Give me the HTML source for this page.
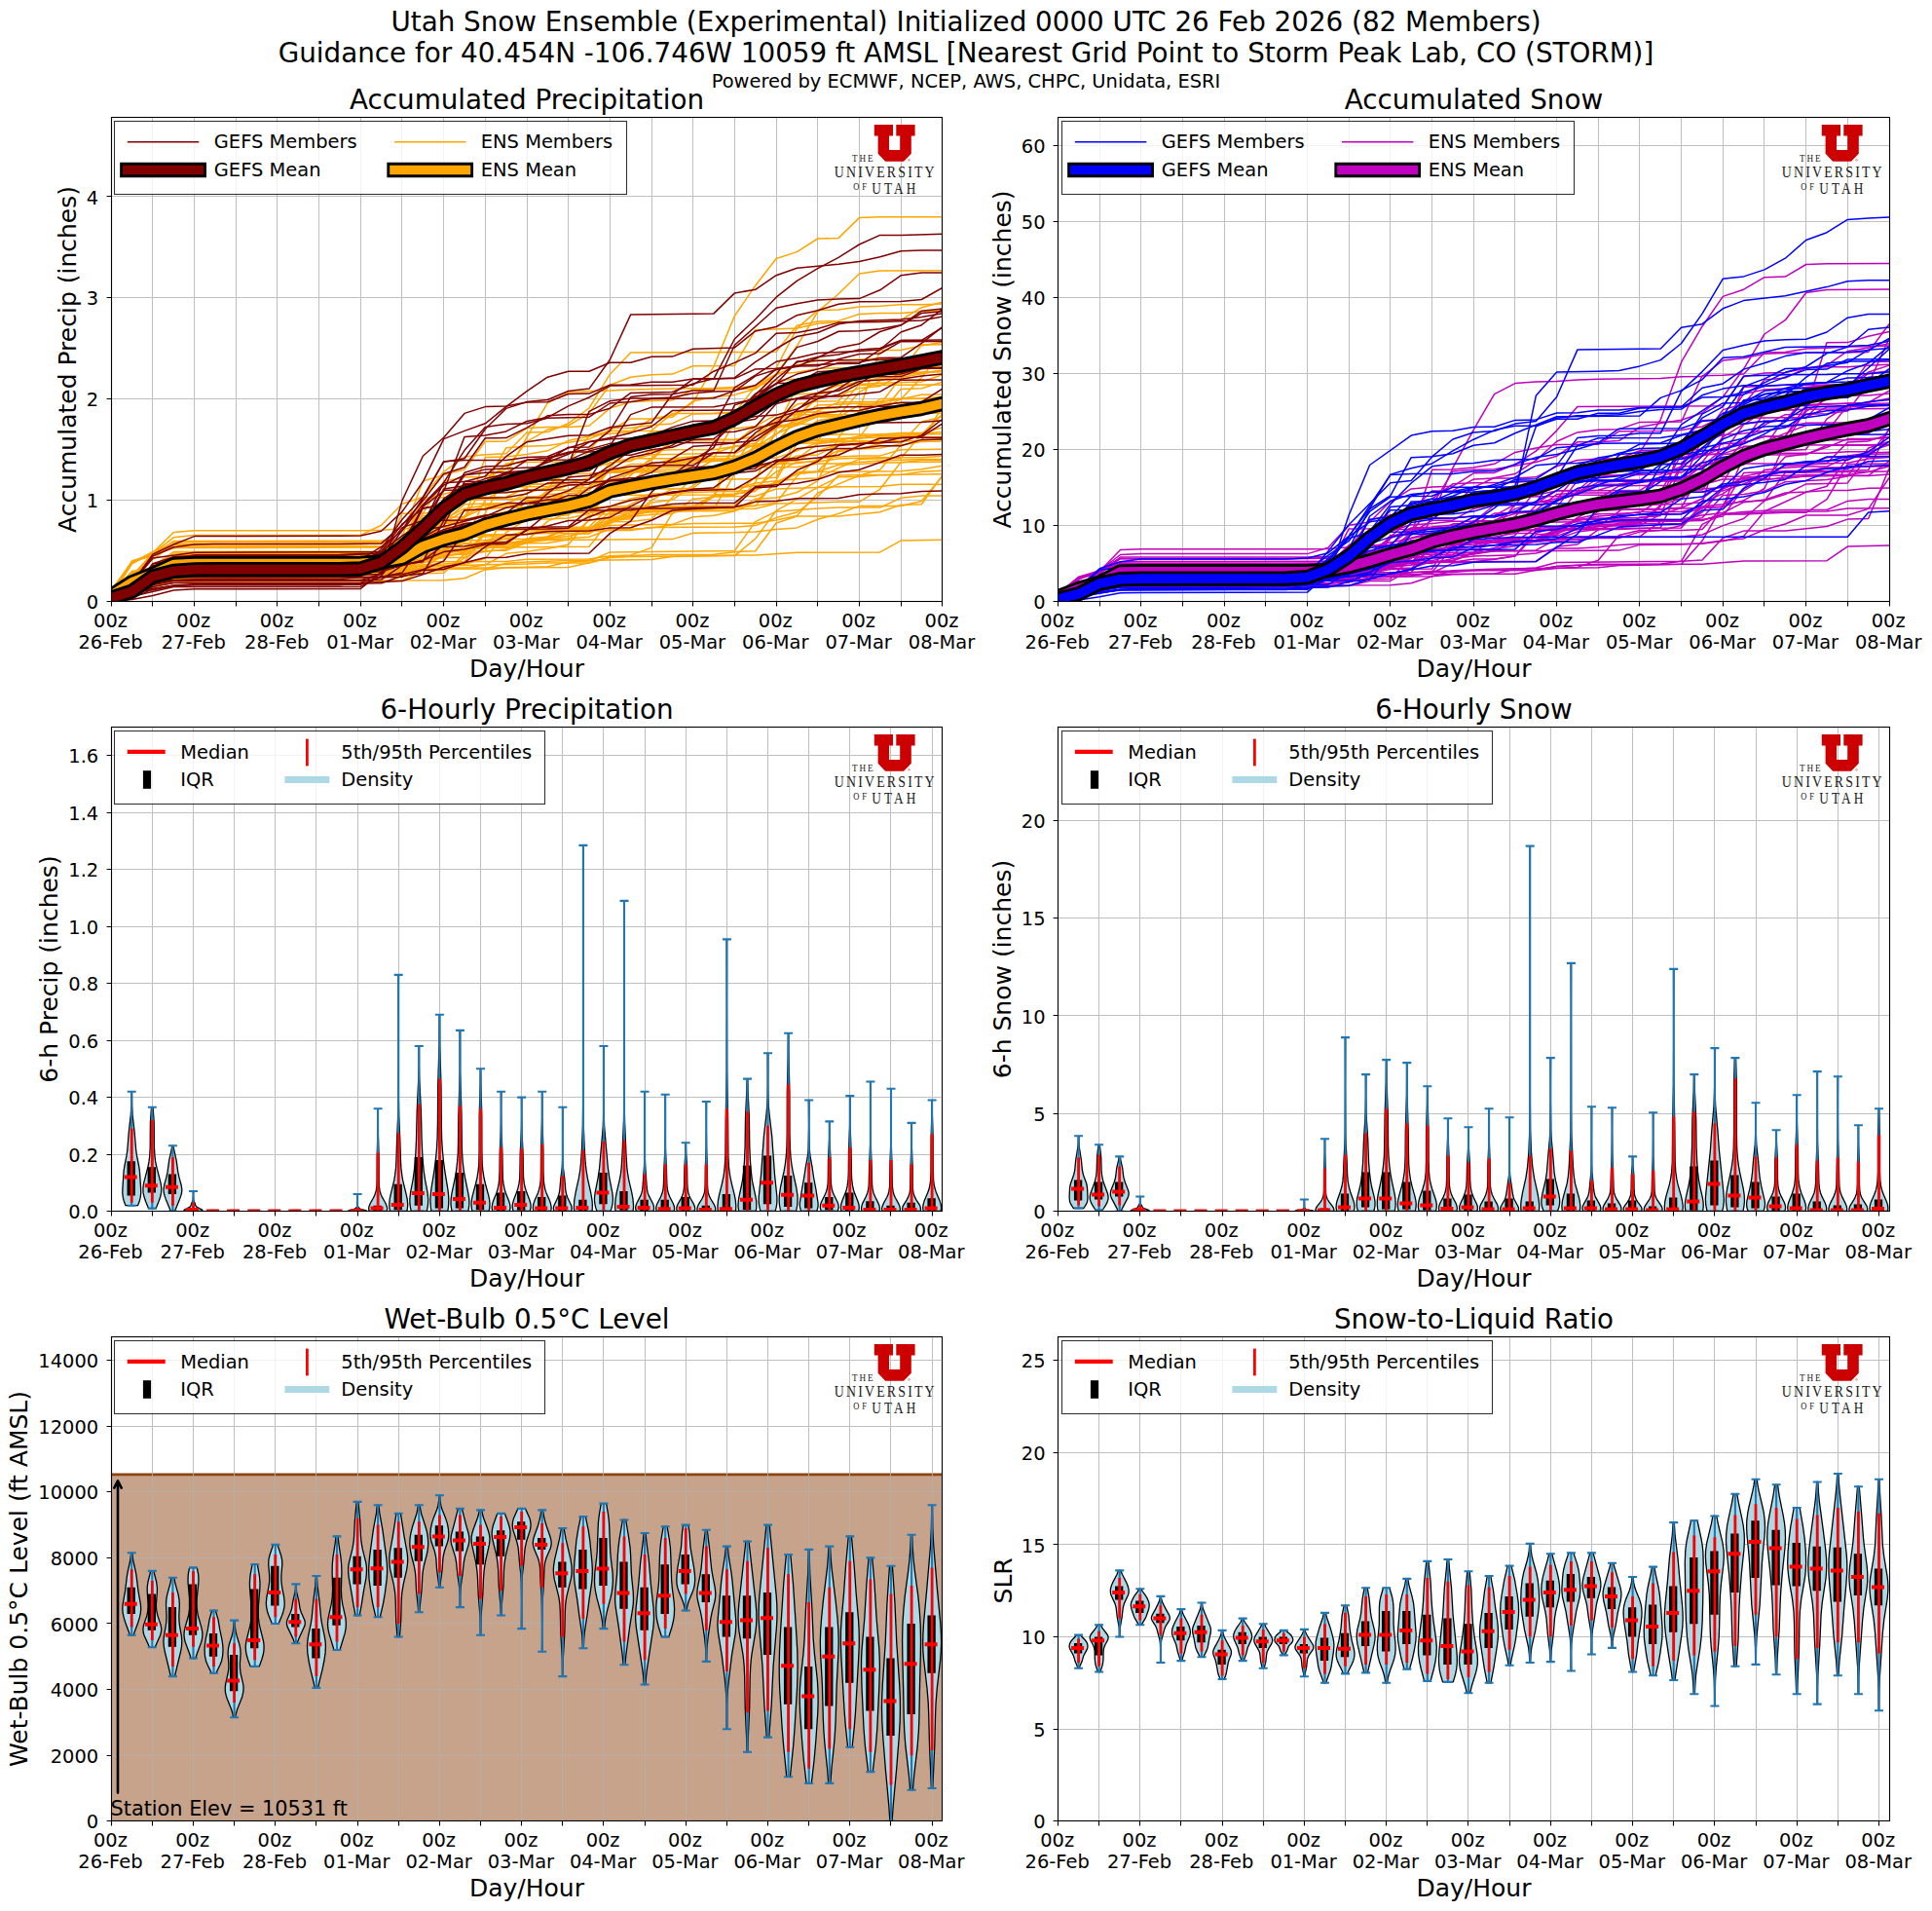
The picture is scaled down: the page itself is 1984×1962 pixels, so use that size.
<!DOCTYPE html>
<html><head><meta charset="utf-8"><title>Utah Snow Ensemble</title>
<style>html,body{margin:0;padding:0;background:#fff}svg{display:block}</style></head>
<body>
<svg width="1984" height="1962" viewBox="0 0 1984 1962" font-family="'DejaVu Sans','Liberation Sans',sans-serif" fill="#000">
<rect width="1984" height="1962" fill="#fff"/>
<text x="992" y="32.2" font-size="27.78" text-anchor="middle">Utah Snow Ensemble (Experimental) Initialized 0000 UTC 26 Feb 2026 (82 Members)</text>
<text x="992" y="63.7" font-size="27.78" text-anchor="middle">Guidance for 40.454N -106.746W 10059 ft AMSL [Nearest Grid Point to Storm Peak Lab, CO (STORM)]</text>
<text x="992" y="90.2" font-size="19.44" text-anchor="middle">Powered by ECMWF, NCEP, AWS, CHPC, Unidata, ESRI</text>
<clipPath id="c00"><rect x="114.5" y="120.5" width="853" height="497"/></clipPath>
<path d="M114.5 120.5V617.5M156.5 120.5V617.5M199.5 120.5V617.5M242.5 120.5V617.5M284.5 120.5V617.5M327.5 120.5V617.5M370.5 120.5V617.5M412.5 120.5V617.5M455.5 120.5V617.5M498.5 120.5V617.5M541.5 120.5V617.5M583.5 120.5V617.5M626.5 120.5V617.5M669.5 120.5V617.5M711.5 120.5V617.5M754.5 120.5V617.5M797.5 120.5V617.5M839.5 120.5V617.5M882.5 120.5V617.5M925.5 120.5V617.5M967.5 120.5V617.5M114.5 617.5H967.5M114.5 513.5H967.5M114.5 409.5H967.5M114.5 305.5H967.5M114.5 201.5H967.5" stroke="#b0b0b0" stroke-opacity="0.8" stroke-width="1.05" fill="none"/>
<g clip-path="url(#c00)" fill="none" stroke-linejoin="round">
<g stroke="#ffa500" stroke-width="1.5">
<path d="M114.2 616.9L135.6 610.4L156.9 586L178.3 573.7L199.6 570.6L370.3 570.1L391.6 569.6L413 564.8L434.3 552L455.7 549.2L477 532.9L498.3 469.4L519.7 469L541 466.6L562.3 462.8L583.7 452.3L605 447.9L626.4 442.5L669 442.2L690.4 424.4L733 424.2L754.4 423.2L775.7 420L797.1 410.2L818.4 404.7L839.7 403.8L861.1 395.7L882.4 392.6L903.7 387.9L925.1 387.8L946.4 373.4L967.8 372.2"/>
<path d="M114.2 611.7L135.6 600.8L156.9 592.1L178.3 579.5L349 579.3L391.6 578.6L413 577.2L434.3 573.6L455.7 565.3L477 563.5L498.3 562.2L605 561.3L626.4 534L647.7 531.2L669 513.5L690.4 501.8L711.7 501.2L733 485.2L754.4 477.5L775.7 459.5L797.1 453.1L861.1 452.4L882.4 447.8L946.4 447.1L967.8 425"/>
<path d="M114.2 611.3L135.6 600.5L156.9 593.8L178.3 589.1L199.6 588.6L370.3 588.3L391.6 587.7L413 583.2L434.3 576L455.7 570.2L477 568.9L519.7 563.9L541 552.9L562.3 550.9L583.7 541.3L605 540.9L626.4 520.1L754.4 519.3L775.7 495.3L797.1 439.9L818.4 397.4L839.7 396.1L861.1 395.5L967.8 395.1"/>
<path d="M114.2 616.4L135.6 606.7L156.9 600.4L178.3 588.6L199.6 587.7L370.3 587.4L391.6 586.7L413 584.6L434.3 575.5L455.7 572.6L477 572.6L498.3 565.4L519.7 565.3L541 556.8L562.3 554.5L690.4 553.6L711.7 547.2L754.4 546.7L775.7 545.9L797.1 543.4L818.4 541.9L839.7 533.2L861.1 527.4L882.4 519.5L925.1 519.5L946.4 514.5L967.8 488.8"/>
<path d="M114.2 611.9L135.6 577.9L156.9 566.5L178.3 561.4L370.3 561.1L413 560.7L434.3 529.6L455.7 528.8L477 514.7L498.3 505.9L519.7 505.6L541 503.2L562.3 502.4L583.7 474.5L605 447.7L626.4 445.3L647.7 443.5L669 430L690.4 426.3L711.7 413.3L733 376L754.4 324.4L775.7 293.2L797.1 265.5L818.4 258.6L839.7 245L861.1 244.4L882.4 223.6L903.7 222.8L967.8 222.7"/>
<path d="M114.2 610.8L135.6 575.8L156.9 570.3L178.3 555.6L391.6 555.1L413 554.2L434.3 545.3L455.7 523.7L477 513.7L498.3 512.7L541 512L562.3 507.4L605 505.4L626.4 502.3L754.4 501.5L775.7 498.6L797.1 496.7L818.4 486.5L839.7 484.2L861.1 477.3L882.4 476.5L903.7 475L925.1 474.9L946.4 472.6L967.8 472.4"/>
<path d="M114.2 607.6L135.6 602.7L156.9 590.7L178.3 577.7L370.3 577.6L391.6 577.3L413 576.2L434.3 565.9L455.7 551.1L477 549L541 548.8L562.3 545L605 544.7L626.4 529.3L647.7 517.7L669 507.2L733 504.7L754.4 504.4L775.7 503L797.1 495.3L818.4 484.5L839.7 483.9L861.1 463.4L882.4 460.9L903.7 455.5L925.1 449.3L946.4 449.3L967.8 448.6"/>
<path d="M114.2 613.5L135.6 605.8L156.9 602.6L178.3 594.4L199.6 593.1L391.6 592.9L413 590.6L434.3 581.5L477 579.6L498.3 573.4L519.7 546.6L541 533.1L562.3 514.3L583.7 503.2L605 496.3L626.4 492.7L647.7 486.3L669 478L690.4 477.2L733 473.6L754.4 472.5L775.7 462.7L797.1 452.1L818.4 448.3L839.7 431.7L861.1 428.4L882.4 415.7L903.7 415.4L925.1 387.5L967.8 380"/>
<path d="M114.2 611L135.6 605.5L156.9 598.7L178.3 594.7L199.6 594L370.3 593.8L391.6 592.9L413 591.5L434.3 570.7L455.7 566.3L498.3 565.8L519.7 525.9L541 524.4L562.3 505.6L583.7 498.3L605 496.2L626.4 495.2L690.4 493.7L711.7 492.6L733 492.6L775.7 491.6L797.1 490.3L818.4 448.9L839.7 446.9L861.1 446.1L903.7 445.9L925.1 444.4L946.4 444.4L967.8 438.9"/>
<path d="M114.2 610.6L178.3 588.5L199.6 586.8L370.3 586.5L413 585.6L434.3 584.1L455.7 583.2L477 583.2L498.3 579.9L519.7 568.3L541 566.2L562.3 563.3L583.7 559.2L605 533.3L626.4 497.6L647.7 496.2L669 483.2L690.4 472.8L733 472.6L754.4 471.5L775.7 471.4L797.1 470.1L818.4 462.7L839.7 454.4L861.1 450.5L882.4 450.3L903.7 446L925.1 445.9L946.4 445.1L967.8 443.6"/>
<path d="M114.2 617.2L135.6 596L156.9 589.4L178.3 583.5L370.3 583.3L391.6 572.8L413 527.3L434.3 527L455.7 526L477 501.5L498.3 495.4L519.7 476.1L541 474.6L583.7 474L605 472.6L647.7 472L669 466.7L690.4 466.6L733 465.5L754.4 458.3L775.7 457.5L818.4 447.4L839.7 439.2L861.1 438.6L882.4 437L903.7 427.3L925.1 426.6L946.4 426.5L967.8 410.4"/>
<path d="M114.2 610.1L135.6 588.8L156.9 584.3L178.3 577.6L370.3 577.4L434.3 576.7L519.7 576.6L541 574.3L605 573.9L626.4 570.7L647.7 569.9L669 562.4L690.4 526.8L711.7 520.6L754.4 520.5L775.7 519.6L797.1 493.1L818.4 455.4L861.1 453.7L903.7 453.4L946.4 452.5L967.8 417.7"/>
<path d="M114.2 612.3L156.9 602.5L178.3 596.5L199.6 596.1L455.7 595.7L477 593.7L498.3 584.9L519.7 582.8L562.3 581.8L583.7 577.1L605 576L626.4 566.9L754.4 565.5L775.7 535.6L797.1 525.2L839.7 521.9L861.1 521.1L903.7 521.1L925.1 511.2L946.4 509.1L967.8 509.1"/>
<path d="M114.2 608.6L135.6 600.4L178.3 593.3L391.6 592.5L413 591L434.3 541.2L498.3 541L519.7 534.9L541 513.5L562.3 512.7L583.7 509.5L605 509.3L626.4 500.2L647.7 494.3L669 493.1L690.4 493.1L711.7 492.4L733 489.8L754.4 484.1L775.7 474.5L797.1 460.4L818.4 423.6L861.1 422.5L967.8 421.9"/>
<path d="M114.2 611.3L135.6 604.2L156.9 602.1L178.3 591.4L199.6 590.5L349 590.3L391.6 589.9L413 585.7L434.3 583.3L583.7 582.5L605 577.8L626.4 571.8L669 569.6L733 569.3L754.4 566.7L775.7 565.7L797.1 537L818.4 530.1L861.1 530L903.7 525.8L925.1 518.4L946.4 517.7L967.8 488.1"/>
<path d="M114.2 606.7L135.6 587.6L156.9 584.8L178.3 579.5L199.6 577.8L370.3 577.6L413 576.9L434.3 570.4L455.7 565.3L477 562.8L519.7 562.2L541 557.8L562.3 557.4L583.7 554L605 533.9L626.4 532.3L647.7 526.5L669 523.7L690.4 519.8L775.7 519.1L797.1 516.3L818.4 488.9L839.7 470.9L861.1 468.9L882.4 468L903.7 467.9L925.1 461.8L967.8 461.3"/>
<path d="M114.2 610.9L135.6 591.4L156.9 574.5L178.3 558.9L370.3 558.5L413 557.5L434.3 511L519.7 510.3L541 501L562.3 483.8L583.7 482L605 481.3L626.4 475.2L647.7 470.8L690.4 470.8L711.7 468.8L775.7 468L797.1 445.7L818.4 429L839.7 405L861.1 400.6L882.4 384.4L925.1 382.2L967.8 381.7"/>
<path d="M114.2 611.1L135.6 606.7L156.9 599.1L178.3 593.2L370.3 592.8L391.6 582.4L413 577.3L434.3 555.3L455.7 554.5L477 554.5L498.3 546.1L519.7 536.1L541 528.3L562.3 527.5L583.7 518.5L605 491L626.4 484.6L647.7 483.5L669 472.4L690.4 452.6L711.7 451.9L754.4 451.8L775.7 448.2L797.1 429.9L818.4 425.7L903.7 425.6L925.1 399.5L946.4 398.7L967.8 392.1"/>
<path d="M114.2 611.6L135.6 578.8L156.9 567.6L178.3 546.5L199.6 544.8L370.3 544.8L391.6 544.3L434.3 541.6L498.3 528.9L519.7 527.7L541 525.6L605 524.5L690.4 524L733 522.5L754.4 486.9L775.7 455.4L797.1 432.6L818.4 428.4L839.7 407.9L861.1 406.1L882.4 398.6L903.7 396.4L925.1 384.9L967.8 380.3"/>
<path d="M114.2 611.2L135.6 595.7L156.9 586.3L178.3 571.2L199.6 568.9L391.6 568.7L413 567.6L434.3 550.7L455.7 544L477 529.7L498.3 517.9L519.7 517.8L541 506.1L562.3 500.7L583.7 495.8L605 491.6L626.4 484.7L711.7 484.4L733 472L754.4 471.3L797.1 456.9L818.4 456L839.7 451L861.1 450.5L882.4 449.1L903.7 421.1L925.1 409.6L967.8 409.2"/>
<path d="M114.2 614.3L135.6 593.6L156.9 583.9L178.3 578.3L199.6 576.6L413 576.5L434.3 569.6L455.7 565.8L477 563.2L498.3 562.9L541 554.2L583.7 552.8L605 551.2L626.4 543.2L647.7 543.2L669 542.1L690.4 538.7L711.7 537.6L775.7 537.2L797.1 534.1L818.4 529.5L839.7 506.3L861.1 496.9L882.4 488.2L903.7 482.2L925.1 456.9L946.4 453.4L967.8 453"/>
<path d="M114.2 614.2L135.6 607.2L156.9 602.2L178.3 598.2L199.6 597L370.3 596.7L391.6 596L413 596L434.3 586L455.7 585.7L477 572.8L498.3 544.2L519.7 544.2L541 542.8L605 542.4L647.7 530.6L669 528.2L690.4 527.5L711.7 512.2L733 510.4L754.4 465.9L775.7 455.9L797.1 454.2L818.4 429.8L839.7 415.9L882.4 414.3L903.7 413.9L967.8 413.7"/>
<path d="M114.2 613.1L135.6 593.3L156.9 569.4L178.3 562.7L199.6 561.2L391.6 560.9L413 554.4L434.3 537.5L498.3 537L519.7 534.1L541 530.7L562.3 512.7L583.7 511.8L605 500.1L626.4 482.6L647.7 481.8L669 480.3L733 479.5L754.4 478.2L775.7 443.8L797.1 438.6L818.4 436.7L839.7 427.9L882.4 427.7L903.7 419.7L967.8 419.5"/>
<path d="M114.2 610L135.6 591.7L156.9 581.3L178.3 566.5L391.6 566L413 561.3L434.3 513.6L477 501.3L498.3 499.7L519.7 497L562.3 497L583.7 492.3L605 461.9L626.4 439.6L647.7 439.5L669 436.6L690.4 434.9L711.7 424.9L733 424.7L754.4 423.7L775.7 396.9L797.1 390.4L818.4 389.2L861.1 383L882.4 377.7L946.4 377.3L967.8 375.9"/>
<path d="M114.2 609.7L156.9 597.8L178.3 585.4L199.6 583.7L391.6 583.4L413 580.4L434.3 569.5L455.7 564.8L477 557.7L519.7 557.7L541 555.1L562.3 535.1L583.7 526.6L605 526.5L626.4 524.8L647.7 524.5L669 521.9L690.4 521.4L711.7 520.2L733 508.3L754.4 507.9L775.7 501.3L797.1 484.4L818.4 474.2L839.7 474.1L861.1 471.1L882.4 470.2L903.7 469.7L946.4 469.7L967.8 468.3"/>
<path d="M114.2 609.6L135.6 604.3L156.9 595.1L178.3 575.9L199.6 574.7L413 574.2L434.3 559.5L455.7 535.3L477 517.8L519.7 516.4L541 509.9L562.3 509.8L626.4 508.2L733 507.9L754.4 507.1L775.7 504.4L797.1 476.6L818.4 475.7L839.7 472.8L861.1 462.3L882.4 460.9L903.7 459.9L925.1 455.7L946.4 433L967.8 428.1"/>
<path d="M114.2 616.2L135.6 610.1L156.9 598.5L178.3 587.6L413 587.4L434.3 583L455.7 569.7L477 562.2L498.3 560.5L519.7 560.3L541 557L562.3 551.7L583.7 542.3L605 529.2L626.4 527.5L669 525.7L690.4 525.7L711.7 524.1L733 509L754.4 454.6L775.7 438L818.4 435.6L882.4 435L903.7 425.2L925.1 425.1L967.8 423.9"/>
<path d="M114.2 609.3L156.9 599.3L178.3 591.1L199.6 590.3L391.6 590L455.7 588.2L477 569.1L498.3 559.2L541 556.8L583.7 548.1L605 547.9L626.4 535.8L647.7 535.5L669 532.9L690.4 510.8L711.7 490.2L733 489.9L754.4 458.3L797.1 457.8L818.4 452.1L839.7 451.9L861.1 427.8L882.4 427.8L903.7 409.5L946.4 409.1L967.8 407.5"/>
<path d="M114.2 610.3L135.6 596.4L156.9 590.9L178.3 577.6L199.6 574.1L370.3 574.1L391.6 565.9L413 551.7L434.3 546.5L455.7 546.1L477 544.7L498.3 544.2L583.7 543.8L605 543.1L626.4 539.5L669 538.5L690.4 538.4L711.7 530.7L733 529.3L754.4 524.8L775.7 515.4L797.1 495.3L818.4 486.3L839.7 484.5L925.1 483.8L946.4 481.8L967.8 478.3"/>
<path d="M114.2 612.1L135.6 607L156.9 603.2L178.3 590.4L370.3 590.2L391.6 582.4L413 581.5L477 580.6L498.3 579.8L541 579.1L562.3 578.1L605 577.9L626.4 572.5L647.7 571.4L754.4 570.6L775.7 553.1L797.1 524.3L839.7 500.4L861.1 489.8L882.4 489.4L903.7 487.8L925.1 487.6L946.4 484.3L967.8 483.3"/>
<path d="M114.2 614.9L135.6 608.6L156.9 594.3L178.3 583.3L220.9 582.8L370.3 582.7L391.6 582.3L413 581.3L434.3 564.2L455.7 536.9L477 524.3L498.3 522.9L519.7 520.8L541 520.8L562.3 503.7L583.7 502.8L605 500.3L626.4 474.9L647.7 473.4L669 462.9L690.4 461.7L733 461.7L775.7 455L797.1 439.6L818.4 432L839.7 425.7L861.1 422.6L882.4 421.5L903.7 412.4L925.1 409.8L946.4 405.2L967.8 405.1"/>
<path d="M114.2 606.8L135.6 577.1L156.9 570.2L178.3 562.6L391.6 562L413 561L434.3 526.8L455.7 494.3L477 489.7L498.3 489.7L519.7 481.7L541 453.3L562.3 441.1L583.7 437L605 424.1L626.4 395.3L647.7 387.2L669 384.8L690.4 384.1L711.7 375.8L754.4 375.4L775.7 338.7L818.4 337.1L839.7 318.6L861.1 318.1L882.4 314.9L903.7 314.2L925.1 312.8L946.4 312.7L967.8 312.1"/>
<path d="M114.2 615L135.6 595.3L156.9 590.6L178.3 588.4L199.6 585.7L413 585.3L434.3 563.4L455.7 558.2L477 556L498.3 513L519.7 500.6L541 499.8L562.3 499.6L583.7 495.6L605 490.8L626.4 484.3L647.7 476.6L669 476.5L690.4 471.7L733 470.7L754.4 433.1L775.7 405.8L797.1 384.4L818.4 375L839.7 370.1L861.1 369.9L903.7 367.9L946.4 367.9L967.8 367.3"/>
<path d="M114.2 611.8L135.6 592.3L156.9 567.4L178.3 556.9L220.9 556.5L370.3 556.4L434.3 554.9L455.7 552.8L477 548.6L498.3 530.3L519.7 525.3L541 523.6L583.7 523L605 521.8L626.4 519.9L647.7 512L669 507.6L690.4 505.7L711.7 502.3L754.4 502.2L775.7 496L818.4 491.8L839.7 490.9L861.1 480.5L882.4 471.4L903.7 470.7L925.1 470.5L946.4 445.8L967.8 425.4"/>
<path d="M114.2 612.4L135.6 607.7L156.9 593L178.3 588.1L413 587.8L434.3 579.7L455.7 578.9L477 576.9L498.3 546.8L519.7 537.1L541 534L562.3 529.3L583.7 529.1L605 508.2L647.7 494.2L669 479.3L711.7 472.9L754.4 472.4L775.7 462.5L797.1 432.5L818.4 415.1L839.7 411.9L861.1 411.7L882.4 387.3L903.7 382.3L925.1 381.3L946.4 354L967.8 353.8"/>
<path d="M114.2 610.8L135.6 605.5L156.9 601.7L178.3 577.2L220.9 576.6L370.3 576.4L391.6 575.7L413 575.6L434.3 568L455.7 558.6L477 558.5L498.3 556.6L541 556.3L562.3 551L583.7 543.9L605 543.7L647.7 529.4L669 524.9L754.4 524.4L775.7 512.2L797.1 511.1L818.4 505.5L839.7 493.9L861.1 449.3L882.4 421.2L903.7 359.5L925.1 359.4L946.4 354.8L967.8 351.5"/>
<path d="M114.2 606.9L135.6 595.7L156.9 593.2L178.3 582.2L220.9 581.6L391.6 581.4L413 571.8L434.3 570.1L455.7 569.8L477 568.6L498.3 527L519.7 486.8L541 448.9L562.3 413.9L583.7 403L605 401.5L626.4 401.1L647.7 399.9L690.4 398.9L733 398.5L754.4 397.4L775.7 397.2L797.1 384L818.4 382.2L839.7 378.4L861.1 377.7L946.4 376.9L967.8 360.3"/>
<path d="M114.2 605.6L135.6 597L156.9 590.7L178.3 574.9L370.3 574.7L391.6 574L413 570.2L434.3 564.5L455.7 550.4L477 548.7L498.3 540.8L519.7 533.8L541 514.8L605 514.8L626.4 510.4L647.7 487.8L669 470.3L690.4 452L711.7 451.2L754.4 451.2L775.7 447.9L797.1 439.6L818.4 434.2L839.7 426.9L861.1 426.7L882.4 402.6L903.7 390.9L925.1 383.9L946.4 383.1L967.8 380.9"/>
<path d="M114.2 610.6L135.6 586.3L156.9 585.1L178.3 578.6L391.6 578.3L413 577.6L434.3 567.9L455.7 532.2L477 513.2L498.3 501.8L519.7 498.9L541 497.2L562.3 496.9L583.7 486.6L605 486.3L647.7 484.6L690.4 484.6L711.7 480.7L733 479L754.4 478.3L775.7 478.3L797.1 476.9L818.4 468L839.7 466.9L861.1 456.9L882.4 456.7L903.7 450.1L925.1 448.8L946.4 446L967.8 445.5"/>
<path d="M114.2 612.9L135.6 602L178.3 585.9L413 585.1L434.3 584.3L498.3 584L519.7 578.3L541 577L583.7 575.4L669 574.5L690.4 571.4L754.4 570.1L775.7 570.1L818.4 567.2L903.7 566.9L925.1 555.1L967.8 554.3"/>
<path d="M114.2 604.9L135.6 591.1L156.9 583.5L178.3 568L370.3 567.6L391.6 567.1L413 565.7L434.3 565.2L455.7 564.1L477 554.9L498.3 554.6L519.7 550.6L541 545L562.3 544.2L583.7 542.3L605 542.2L626.4 537.7L647.7 525.6L669 521.6L690.4 521L711.7 519.9L733 509L754.4 508.3L775.7 489.6L797.1 474.2L818.4 472.9L839.7 462.8L882.4 449.9L903.7 449.1L967.8 448.8"/>
<path d="M114.2 609.7L135.6 596L156.9 584L178.3 576.4L199.6 575.8L370.3 575.8L413 574.9L434.3 556.4L455.7 531.2L477 530.7L498.3 521.1L583.7 520.8L605 511.4L626.4 480.8L647.7 456.7L669 443.1L690.4 442L711.7 440.3L754.4 440.1L775.7 437.6L797.1 425.8L818.4 425.1L839.7 419.4L861.1 419.1L882.4 394.5L903.7 393.2L946.4 392L967.8 384.8"/>
<path d="M114.2 606.3L135.6 576.5L178.3 559.6L199.6 558.6L370.3 558.5L413 557.6L434.3 551.9L455.7 551.8L519.7 550.7L541 547.9L562.3 544.3L605 543.7L626.4 526L647.7 524.2L711.7 523.9L733 509.9L775.7 509.4L797.1 502L861.1 499.7L903.7 499.4L925.1 497.3L967.8 497.2"/>
<path d="M114.2 607.4L135.6 596.1L156.9 589.8L178.3 580.4L199.6 578.3L391.6 578L413 577.2L434.3 573.8L455.7 563.7L477 558.1L498.3 557.4L541 548.3L562.3 547.5L605 547.5L626.4 534.3L647.7 532.8L669 515.9L690.4 513.2L711.7 498.6L733 482.1L754.4 477.6L797.1 477.2L818.4 471.4L839.7 455.7L861.1 452.9L946.4 452.2L967.8 450.9"/>
<path d="M114.2 610.7L135.6 596.7L156.9 587.7L178.3 579.5L199.6 579.1L370.3 578.6L391.6 570.7L413 550.8L434.3 494L455.7 487.6L477 482.1L498.3 453.3L519.7 453.1L541 439.6L562.3 438.6L583.7 438.4L605 437.2L626.4 419.1L647.7 412.8L669 411.4L690.4 411.1L711.7 400L775.7 398.9L797.1 377.9L818.4 337.1L839.7 332.3L861.1 330.8L882.4 330L903.7 328.7L925.1 328.6L946.4 315.7L967.8 310.3"/>
<path d="M114.2 612.4L135.6 593.4L156.9 591.3L178.3 584.3L199.6 583.1L370.3 583L391.6 579.8L413 579.2L434.3 576.4L455.7 567.7L477 565.9L498.3 555.6L519.7 553.6L541 553.6L562.3 552.8L583.7 550.5L605 545.5L626.4 544.6L647.7 544.4L669 541.6L754.4 541.1L775.7 539.6L797.1 531.6L818.4 526L839.7 510L861.1 487.9L967.8 486.8"/>
<path d="M114.2 607.3L135.6 602.4L156.9 590.4L178.3 586.1L413 585.6L434.3 577.9L455.7 571.8L477 566.9L498.3 549L519.7 549L541 548L562.3 544.9L605 542.2L626.4 533.5L647.7 528.5L669 525.5L690.4 523.7L711.7 522.9L754.4 522.8L775.7 522.3L797.1 516.9L818.4 516.7L861.1 515.3L882.4 515.3L903.7 502.3L925.1 474.5L967.8 474.2"/>
<path d="M114.2 610.4L135.6 590.4L156.9 585.3L178.3 570.9L199.6 569.2L370.3 569.1L391.6 569L413 568.2L434.3 565.2L455.7 556.6L477 544.3L498.3 543.3L519.7 536.1L541 533.8L583.7 532.1L605 527.6L626.4 504.2L647.7 483.1L733 481.8L754.4 479.9L818.4 479.6L839.7 476L861.1 476L903.7 473L946.4 471.5L967.8 471.5"/>
<path d="M114.2 612.3L135.6 605.4L156.9 597.7L178.3 576.5L199.6 574.6L370.3 574.4L391.6 573.6L434.3 537.3L455.7 533.1L477 522.2L498.3 518.8L519.7 518.8L541 516.6L562.3 515.7L583.7 504.3L605 503.4L626.4 483.3L669 482.8L690.4 474.8L711.7 471L754.4 470.9L775.7 459.5L797.1 445.4L818.4 436.2L839.7 421.7L861.1 413.1L903.7 412.3L925.1 410.1L946.4 387.5L967.8 360.3"/>
<path d="M114.2 608.3L135.6 590.8L156.9 568.4L178.3 551.8L199.6 549.6L370.3 549.4L391.6 539.3L413 517.3L434.3 510.5L455.7 484.3L477 469L498.3 466.8L519.7 465.8L541 444L562.3 443.6L583.7 434.7L605 419L626.4 384.2L647.7 362.1L797.1 361.2L818.4 334.3L839.7 330.1L861.1 329.4L882.4 322.5L903.7 321.4L925.1 321.4L946.4 319.8L967.8 319"/>
<path d="M114.2 608.8L135.6 592L156.9 585.1L178.3 570.8L370.3 570.5L391.6 567.1L413 558.2L434.3 555.3L455.7 536.8L477 531.5L498.3 497.1L519.7 459.8L541 458.3L562.3 457.6L605 450.9L626.4 441.8L647.7 429.9L669 429.9L690.4 428.3L711.7 411.8L733 407.7L754.4 405.4L775.7 399.3L797.1 384L818.4 355.3L839.7 320.1L861.1 301.8L882.4 281L903.7 278.1L967.8 277.7"/>
</g>
<g stroke="#800000" stroke-width="1.5">
<path d="M114.2 615.2L156.9 600.4L178.3 596.4L349 596.1L370.3 595.9L391.6 595.1L413 580.3L434.3 549.6L455.7 517.6L477 511.4L498.3 503.6L519.7 503.3L541 489.5L562.3 470.8L583.7 465L605 461.1L626.4 455.4L647.7 453.8L690.4 453.1L711.7 443.2L733 442.1L754.4 437.9L775.7 412.3L797.1 405.9L818.4 400.1L839.7 393.2L861.1 389.3L882.4 379.1L903.7 374.3L925.1 373.5L946.4 367.8L967.8 365.9"/>
<path d="M114.2 613.5L135.6 608.9L156.9 583.3L178.3 581L220.9 580.7L349 580.7L370.3 580.3L391.6 566.2L413 538.1L434.3 522.2L455.7 517.6L477 511.7L519.7 510.7L541 506.9L562.3 495.9L605 495.2L626.4 493.7L647.7 493.6L669 492.1L690.4 486.9L711.7 479.4L775.7 478.7L797.1 473.3L818.4 472L839.7 469.9L861.1 467.3L882.4 457.7L903.7 450L925.1 449.8L946.4 448.4L967.8 435"/>
<path d="M114.2 613.5L135.6 609.7L156.9 597.5L178.3 592.4L220.9 591.9L370.3 591.7L391.6 575L413 544.2L434.3 511.5L455.7 473.7L477 472.4L519.7 472.4L541 469.5L562.3 468.7L583.7 460L605 453.4L626.4 449.5L647.7 444.4L669 438L690.4 421.6L754.4 421.1L775.7 413L797.1 411.3L818.4 396.5L839.7 387.7L861.1 385.8L925.1 384L946.4 378L967.8 377.5"/>
<path d="M114.2 616.9L135.6 615.6L156.9 611.5L178.3 606L199.6 604.7L370.3 604.5L391.6 587.3L413 558.9L434.3 520.2L455.7 504.2L477 448.5L498.3 447.1L519.7 442.9L541 432.5L562.3 428.6L583.7 416.9L605 408L626.4 396.1L711.7 395.2L733 381.2L754.4 372.4L775.7 362.6L797.1 342.3L818.4 341.4L839.7 337.5L861.1 331.1L903.7 330.6L946.4 329.1L967.8 325.1"/>
<path d="M114.2 614.5L135.6 598.5L156.9 569.1L178.3 559L199.6 550.6L349 550.3L370.3 550L391.6 545.2L413 525.4L434.3 494.8L455.7 450.6L477 442.4L498.3 434.8L519.7 417.6L541 401.7L562.3 387.2L583.7 381.3L605 381.2L626.4 372.3L647.7 372.3L669 366.2L690.4 366.1L711.7 358.3L754.4 356.9L775.7 339.9L797.1 335.5L818.4 323.7L839.7 318.7L861.1 312.3L882.4 309.8L925.1 309.4L946.4 307.5L967.8 295.4"/>
<path d="M114.2 613L135.6 602.8L156.9 594.1L178.3 588.2L199.6 587.1L391.6 586.9L413 580.6L434.3 575.3L455.7 566.6L477 564.1L498.3 559L519.7 558.2L541 543.7L562.3 540.1L583.7 534.6L605 534L626.4 531.2L647.7 519.8L669 509.2L690.4 506.2L711.7 502.2L733 500.7L754.4 485.7L775.7 483.6L797.1 472.2L818.4 470.2L839.7 463.2L861.1 460.5L882.4 460.4L903.7 457.7L925.1 457.7L946.4 451.4L967.8 450.9"/>
<path d="M114.2 612.1L135.6 599.4L156.9 573.1L199.6 567.2L413 566.6L434.3 565.4L455.7 558.7L477 523.7L498.3 522.7L519.7 516.6L541 516.6L562.3 512.9L583.7 512.9L605 508L626.4 504.3L647.7 496.4L669 495.7L690.4 495.7L711.7 484.2L733 454.4L754.4 433.8L775.7 430.2L797.1 412L818.4 409.2L839.7 407L861.1 407L903.7 402.2L925.1 390.2L967.8 390.1"/>
<path d="M114.2 614.3L135.6 612.1L156.9 602.5L178.3 598.5L370.3 598.4L413 596.6L434.3 589.8L455.7 582.3L477 577.8L498.3 572.6L519.7 572.3L541 568.6L605 568L626.4 547.6L647.7 535L669 505.4L690.4 486L711.7 485.9L733 485.2L754.4 482.6L775.7 481.2L797.1 460.1L818.4 448.9L839.7 443L861.1 441.6L882.4 434.7L903.7 433.9L946.4 433.6L967.8 431.7"/>
<path d="M114.2 613.3L135.6 608.5L156.9 595.5L178.3 590.3L199.6 586.7L349 586.4L370.3 584.1L391.6 576.5L413 566.1L434.3 562.5L477 560.8L498.3 557.7L519.7 556.6L541 544.6L562.3 527L583.7 525.2L605 524L647.7 523.8L690.4 517.4L711.7 516.5L754.4 516.4L775.7 499.6L818.4 496.2L839.7 492.2L861.1 485L882.4 482.3L925.1 467.3L946.4 467.2L967.8 466.6"/>
<path d="M114.2 611L135.6 605.6L178.3 592.8L370.3 592.5L391.6 592.1L413 589.8L434.3 584.7L455.7 576L477 545.6L498.3 543.3L562.3 542.9L583.7 542.2L605 530.7L626.4 522.5L647.7 522.1L690.4 522.1L711.7 521.3L754.4 520.8L775.7 515.1L797.1 514.5L818.4 511.8L861.1 511.6L882.4 507.7L903.7 506.9L925.1 506.8L946.4 504.6L967.8 504.1"/>
<path d="M114.2 612L135.6 608.5L156.9 604.3L178.3 601.3L199.6 600.7L349 600.7L370.3 598.7L391.6 587.8L413 572.9L434.3 551.7L455.7 539.8L477 496.7L498.3 496.3L519.7 486.9L541 485.8L562.3 483.3L583.7 477.4L605 422.3L626.4 411.7L647.7 409.1L669 408.9L690.4 408L711.7 403.8L733 402.1L754.4 401.6L775.7 386.1L797.1 379.5L818.4 376L839.7 375.8L861.1 368.8L882.4 363.6L903.7 363L925.1 350.7L967.8 350.6"/>
<path d="M114.2 615.6L135.6 609.6L156.9 582.4L178.3 573.9L199.6 569.8L349 569.5L370.3 568.4L391.6 568.3L413 561.1L434.3 548.3L455.7 511.9L477 497.4L519.7 497L541 496L562.3 492.9L605 492.6L626.4 458.5L647.7 453.6L669 451.6L690.4 451.5L733 444.3L754.4 443.2L775.7 438.2L797.1 414.5L839.7 403.5L861.1 393.8L882.4 386.7L925.1 386.6L946.4 378.6L967.8 378.1"/>
<path d="M114.2 611.9L135.6 608.3L156.9 605.7L178.3 601.6L199.6 600.3L370.3 600.3L391.6 592.3L413 588.1L434.3 556.7L455.7 514.3L477 506.6L519.7 505.8L541 503.2L562.3 503L583.7 497.9L605 497.2L626.4 482.6L647.7 469.4L669 465.2L690.4 457.2L733 431.6L754.4 431.6L775.7 427.6L797.1 426.1L818.4 420L861.1 399.2L882.4 385.3L903.7 383.4L925.1 382.8L946.4 372L967.8 370.3"/>
<path d="M114.2 612.5L135.6 598.7L156.9 571L178.3 561.7L199.6 559L220.9 558.6L349 558.6L391.6 557.9L413 539.3L434.3 514.1L455.7 486.5L477 479.7L498.3 449.7L519.7 449.6L541 439.1L562.3 426.8L583.7 425.5L605 425.4L626.4 419.2L647.7 403.4L690.4 402.4L711.7 394L733 388.8L754.4 348L775.7 327.8L797.1 305.2L818.4 288.3L839.7 275.7L861.1 264.3L882.4 251L903.7 241.4L925.1 241.4L967.8 240.3"/>
<path d="M114.2 613.4L135.6 604.2L156.9 590.8L178.3 585.9L199.6 585.8L220.9 585.1L349 585.1L370.3 584.1L391.6 563.5L413 533.2L434.3 510.3L455.7 474.2L477 470.8L498.3 440.5L519.7 419.4L541 412.6L562.3 410.5L583.7 401.5L605 399.1L626.4 369.2L647.7 322.9L733 321.9L754.4 300.9L775.7 297.3L797.1 282.7L818.4 275.3L861.1 271.3L882.4 268.5L903.7 263.7L925.1 257.8L946.4 257L967.8 257"/>
<path d="M114.2 615.9L135.6 609.4L156.9 589.3L178.3 579.9L199.6 576.6L370.3 576.4L391.6 566L413 550.1L434.3 536.1L455.7 503.2L477 502.9L498.3 496L519.7 484.8L541 484.8L562.3 472.8L583.7 459.2L605 458.9L626.4 442.1L647.7 407.6L669 404.9L690.4 404.7L711.7 401.1L733 401L754.4 354.2L797.1 316.3L818.4 311.7L839.7 308L861.1 307L882.4 306.6L903.7 297.8L925.1 282.8L946.4 279.9L967.8 279.9"/>
<path d="M114.2 617.2L178.3 602.6L370.3 602.4L391.6 591.4L413 563.6L434.3 538.6L455.7 495.3L477 462.3L498.3 438.4L519.7 435.5L541 434.8L562.3 429.3L605 428.2L626.4 414L647.7 412.5L669 409.5L733 408.8L754.4 401.1L775.7 395.6L797.1 379.2L818.4 375.2L861.1 373.6L882.4 373.2L903.7 358.9L925.1 349.6L946.4 349.4L967.8 336.2"/>
<path d="M114.2 614.1L135.6 603.6L156.9 580.7L178.3 579.4L199.6 575.8L349 575.6L391.6 574.5L413 565.7L434.3 544.6L455.7 540.5L498.3 530.1L519.7 521.3L541 516.8L562.3 516.7L583.7 508.6L605 508.2L626.4 492.9L647.7 490.8L669 490.4L690.4 488.1L711.7 472.2L733 459.6L754.4 415.9L775.7 408.9L797.1 389L818.4 372L839.7 366.4L861.1 363.9L882.4 359.1L903.7 357.5L925.1 349.5L967.8 348.9"/>
<path d="M114.2 613.2L135.6 604.9L156.9 595.4L178.3 588.1L199.6 586L220.9 585.3L349 585.3L391.6 584.8L413 580.6L434.3 575.5L455.7 559.7L477 544.8L498.3 542.6L519.7 542.5L541 541.5L583.7 540.8L605 523.3L626.4 519.9L647.7 513.7L669 510.1L690.4 504.9L711.7 503.4L754.4 502.5L775.7 490.1L797.1 474.9L818.4 460.8L839.7 458.2L861.1 456.4L903.7 454.4L925.1 449.3L967.8 449.2"/>
<path d="M114.2 616.5L135.6 607.4L156.9 591.6L178.3 586.1L370.3 585.6L391.6 569.4L413 541.6L434.3 534.4L477 534L498.3 529.1L519.7 526.8L541 510.9L562.3 510.8L583.7 503.9L605 492.2L626.4 478L647.7 462.3L669 459.4L690.4 454.6L754.4 454.4L775.7 452.3L797.1 437.9L818.4 421.1L839.7 403.7L861.1 401.3L882.4 391.5L903.7 390L925.1 389.2L946.4 386.1L967.8 384"/>
<path d="M114.2 612.3L135.6 609.2L156.9 589.8L178.3 582.5L349 582.3L370.3 581.9L391.6 566.8L413 559.8L434.3 544.8L455.7 501.9L477 498.7L498.3 491.6L519.7 486.3L541 472.3L583.7 472.1L605 470.2L626.4 467.3L647.7 467.2L669 461.8L690.4 459.3L711.7 451.5L733 450.5L754.4 433.4L775.7 405.3L797.1 384.6L818.4 356.6L839.7 350.5L861.1 340.2L882.4 339.7L903.7 337.8L925.1 333.8L946.4 321.5L967.8 319.8"/>
<path d="M114.2 613.7L135.6 608L156.9 599.8L178.3 596L349 596L370.3 595.6L391.6 589.3L413 513.9L434.3 468.3L455.7 449.3L477 424.4L498.3 417.6L519.7 417.1L541 412.9L562.3 412.7L583.7 404.5L605 404.1L626.4 395.3L647.7 395.1L669 392.3L690.4 392.2L711.7 389.1L754.4 388.6L775.7 378.9L797.1 378.2L818.4 376.5L839.7 367.3L861.1 357L882.4 353.1L903.7 340.5L925.1 334L946.4 319.2L967.8 317.1"/>
<path d="M114.2 612.6L135.6 609.6L156.9 599.6L178.3 590.8L199.6 589.2L220.9 589L370.3 588.8L391.6 578L413 560.3L434.3 553.4L455.7 543.8L477 537.7L498.3 535.1L519.7 533.9L541 526.7L562.3 506.6L583.7 489.9L605 488.3L626.4 482L647.7 478.9L669 478L711.7 477.8L733 465L754.4 464.6L775.7 448.9L797.1 436L818.4 409.8L839.7 409.3L861.1 405.2L882.4 393.8L903.7 380.8L925.1 378.5L946.4 378.4L967.8 377.5"/>
<path d="M114.2 614.6L135.6 609L156.9 587.9L199.6 580.6L391.6 580.2L413 579.7L434.3 576.7L455.7 534.3L477 494.5L498.3 488.9L519.7 468.7L541 453.7L583.7 447.2L605 446.8L626.4 438.8L669 434L690.4 404.8L711.7 389.1L733 388.9L754.4 387.9L775.7 371.6L797.1 358L818.4 345.5L839.7 341.5L861.1 332.7L882.4 329.5L925.1 328L946.4 325.4L967.8 321.7"/>
<path d="M114.2 616.4L135.6 614.1L156.9 604.9L178.3 601.1L199.6 599.8L220.9 599.3L349 599.3L391.6 598.8L413 591.2L434.3 588.8L455.7 552.2L477 537.7L498.3 535.6L519.7 532.1L541 522L562.3 518.9L583.7 516.7L605 501.2L626.4 493.5L647.7 492.3L669 485.1L690.4 470.8L711.7 458.3L733 457.1L754.4 454.8L775.7 440.8L797.1 433.8L818.4 430.8L839.7 424.8L861.1 422.3L882.4 421.4L903.7 416.5L925.1 413.3L967.8 413.2"/>
<path d="M114.2 612.8L135.6 608.7L156.9 578.9L178.3 575.2L220.9 574.6L370.3 574.4L391.6 561.3L413 545L434.3 517.9L455.7 495.7L477 494.6L498.3 494.4L519.7 485.4L583.7 485.4L605 483.3L626.4 467.4L669 451.1L690.4 447L711.7 444.9L733 443.4L754.4 437L775.7 407.7L797.1 393.6L818.4 393.3L839.7 381.7L861.1 380.3L882.4 379.7L925.1 379.7L946.4 371.8L967.8 370.3"/>
<path d="M114.2 616.3L135.6 607.8L156.9 596.9L178.3 595.5L199.6 594.7L220.9 594.4L349 594.4L370.3 592.8L413 592.4L434.3 585.4L455.7 584.5L477 577.6L498.3 561.3L519.7 549.3L541 548.4L562.3 545.7L605 544.9L626.4 541.9L647.7 541.8L669 534.2L690.4 524L711.7 522.4L754.4 520.6L775.7 500.7L797.1 499.6L818.4 482.8L839.7 473.7L861.1 457.5L882.4 455.4L925.1 453.8L946.4 446.9L967.8 430.3"/>
<path d="M114.2 613.6L135.6 605.7L156.9 578.7L178.3 571.6L199.6 570.7L220.9 570.5L349 570.5L413 566.4L434.3 519L455.7 498.1L477 487.8L498.3 485.3L519.7 484.9L541 483L583.7 466.3L605 453.8L626.4 450.7L647.7 450.1L669 447.2L690.4 438.6L711.7 432.4L733 432.1L754.4 426L775.7 404.3L797.1 394.2L818.4 371L861.1 369.8L903.7 369.5L925.1 368.6L946.4 368.6L967.8 367.1"/>
<path d="M114.2 614.4L135.6 602.8L156.9 588.8L178.3 582.4L199.6 581.4L349 581.2L370.3 580.1L391.6 580.1L413 564.9L434.3 553.4L455.7 545.3L498.3 534.3L519.7 533.8L541 522.2L562.3 521.4L583.7 520L605 507.9L626.4 490.8L647.7 483.9L669 475.2L690.4 474.3L711.7 469.9L733 464.7L754.4 464.5L775.7 444.5L797.1 429.2L818.4 422.4L839.7 418.9L861.1 418L925.1 417L946.4 412.7L967.8 399.2"/>
<path d="M114.2 612.7L135.6 610.4L156.9 597.9L178.3 591.8L199.6 591L220.9 590.8L349 590.8L391.6 589.6L413 563.9L434.3 532.7L455.7 519.4L477 487.8L498.3 481.9L562.3 479.3L583.7 472.6L605 463.1L626.4 457.6L647.7 425.6L669 418.1L733 417.7L754.4 414.1L775.7 409.5L797.1 393.8L818.4 384.1L839.7 379.1L861.1 372.5L882.4 372L903.7 367.4L925.1 367.1L946.4 352.4L967.8 335.7"/>
<path d="M114.2 612.9L135.6 606.1L156.9 599.9L178.3 590.6L370.3 590.4L391.6 573.7L413 563.2L434.3 521.6L455.7 518.7L477 485.3L498.3 478.9L519.7 478.3L541 472.3L562.3 469.9L583.7 464.1L605 464L647.7 462.2L669 455L690.4 451.5L711.7 451L733 437.4L754.4 397.8L775.7 385.2L797.1 371.3L818.4 367.4L839.7 362.5L882.4 360.4L903.7 359L925.1 341L946.4 333.7L967.8 317.3"/>
</g>
<path d="M114.2 611.3L135.6 597.8L156.9 589.4L178.3 579.5L199.6 578.6L370.3 578.4L391.6 577L413 573L434.3 561L455.7 553.5L477 547.8L498.3 539L519.7 533.2L541 527.8L562.3 523.5L583.7 519.5L605 514.1L626.4 504.1L647.7 499.7L669 495.6L690.4 492L711.7 488.7L733 485.5L754.4 479.4L775.7 470.7L797.1 459.1L818.4 448.7L839.7 441.3L882.4 431.1L903.7 426.6L925.1 422.7L946.4 419.4L967.8 414.4" stroke="#000" stroke-width="15.3" stroke-linecap="square"/>
<path d="M114.2 611.3L135.6 597.8L156.9 589.4L178.3 579.5L199.6 578.6L370.3 578.4L391.6 577L413 573L434.3 561L455.7 553.5L477 547.8L498.3 539L519.7 533.2L541 527.8L562.3 523.5L583.7 519.5L605 514.1L626.4 504.1L647.7 499.7L669 495.6L690.4 492L711.7 488.7L733 485.5L754.4 479.4L775.7 470.7L797.1 459.1L818.4 448.7L839.7 441.3L882.4 431.1L903.7 426.6L925.1 422.7L946.4 419.4L967.8 414.4" stroke="#ffa500" stroke-width="9.6" stroke-linecap="square"/>
<path d="M114.2 613.9L135.6 607.1L156.9 591.9L178.3 586.3L199.6 584.8L220.9 584.6L349 584.6L370.3 584L391.6 577.4L413 561.9L434.3 542.7L455.7 522.1L477 507.4L498.3 500.9L519.7 496.4L541 490.1L562.3 485.1L583.7 480.5L605 474.5L626.4 464.7L647.7 457L669 452.5L711.7 443.1L733 439.1L754.4 429.6L797.1 405.5L818.4 396.4L839.7 391L861.1 386.3L882.4 382.4L925.1 375L946.4 371L967.8 366.9" stroke="#000" stroke-width="15.3" stroke-linecap="square"/>
<path d="M114.2 613.9L135.6 607.1L156.9 591.9L178.3 586.3L199.6 584.8L220.9 584.6L349 584.6L370.3 584L391.6 577.4L413 561.9L434.3 542.7L455.7 522.1L477 507.4L498.3 500.9L519.7 496.4L541 490.1L562.3 485.1L583.7 480.5L605 474.5L626.4 464.7L647.7 457L669 452.5L711.7 443.1L733 439.1L754.4 429.6L797.1 405.5L818.4 396.4L839.7 391L861.1 386.3L882.4 382.4L925.1 375L946.4 371L967.8 366.9" stroke="#800000" stroke-width="9.6" stroke-linecap="square"/>
</g>
<path d="M114.5 617.5v4.9M156.5 617.5v4.9M199.5 617.5v4.9M242.5 617.5v4.9M284.5 617.5v4.9M327.5 617.5v4.9M370.5 617.5v4.9M412.5 617.5v4.9M455.5 617.5v4.9M498.5 617.5v4.9M541.5 617.5v4.9M583.5 617.5v4.9M626.5 617.5v4.9M669.5 617.5v4.9M711.5 617.5v4.9M754.5 617.5v4.9M797.5 617.5v4.9M839.5 617.5v4.9M882.5 617.5v4.9M925.5 617.5v4.9M967.5 617.5v4.9M114.5 617.5h-4.9M114.5 513.5h-4.9M114.5 409.5h-4.9M114.5 305.5h-4.9M114.5 201.5h-4.9" stroke="#000" stroke-width="1.1" fill="none"/>
<rect x="114.5" y="120.5" width="853" height="497" fill="none" stroke="#000" stroke-width="1.1"/>
<g font-size="19.44">
<text x="113.5" y="644" text-anchor="middle">00z</text>
<text x="113.5" y="666.1" text-anchor="middle">26-Feb</text>
<text x="198.8" y="644" text-anchor="middle">00z</text>
<text x="198.8" y="666.1" text-anchor="middle">27-Feb</text>
<text x="284.2" y="644" text-anchor="middle">00z</text>
<text x="284.2" y="666.1" text-anchor="middle">28-Feb</text>
<text x="369.5" y="644" text-anchor="middle">00z</text>
<text x="369.5" y="666.1" text-anchor="middle">01-Mar</text>
<text x="454.9" y="644" text-anchor="middle">00z</text>
<text x="454.9" y="666.1" text-anchor="middle">02-Mar</text>
<text x="540.2" y="644" text-anchor="middle">00z</text>
<text x="540.2" y="666.1" text-anchor="middle">03-Mar</text>
<text x="625.6" y="644" text-anchor="middle">00z</text>
<text x="625.6" y="666.1" text-anchor="middle">04-Mar</text>
<text x="710.9" y="644" text-anchor="middle">00z</text>
<text x="710.9" y="666.1" text-anchor="middle">05-Mar</text>
<text x="796.3" y="644" text-anchor="middle">00z</text>
<text x="796.3" y="666.1" text-anchor="middle">06-Mar</text>
<text x="881.6" y="644" text-anchor="middle">00z</text>
<text x="881.6" y="666.1" text-anchor="middle">07-Mar</text>
<text x="967" y="644" text-anchor="middle">00z</text>
<text x="967" y="666.1" text-anchor="middle">08-Mar</text>
<text x="101.2" y="625.1" text-anchor="end">0</text>
<text x="101.2" y="521.2" text-anchor="end">1</text>
<text x="101.2" y="417.3" text-anchor="end">2</text>
<text x="101.2" y="313.4" text-anchor="end">3</text>
<text x="101.2" y="209.5" text-anchor="end">4</text>
</g>
<text x="541" y="112.2" font-size="27.78" text-anchor="middle">Accumulated Precipitation</text>
<text x="541" y="694.9" font-size="25" text-anchor="middle">Day/Hour</text>
<text x="77.8" y="369" font-size="25" text-anchor="middle" transform="rotate(-90 77.8 369)">Accumulated Precip (inches)</text>
<g transform="translate(0 0)">
<rect x="117.5" y="124.5" width="526" height="75" fill="#fff" fill-opacity="0.8" stroke="#000" stroke-opacity="0.8" stroke-width="1.1"/>
<path d="M130.8 145.7H204.3" stroke="#800000" stroke-width="1.5"/>
<path d="M130.8 174.5H204.3" stroke="#000" stroke-width="15.3" stroke-linecap="square"/>
<path d="M130.8 174.5H204.3" stroke="#800000" stroke-width="9.6" stroke-linecap="square"/>
<text x="219.8" y="152.2" font-size="19.44">GEFS Members</text>
<text x="219.8" y="181" font-size="19.44">GEFS Mean</text>
<path d="M405 145.7H478.4" stroke="#ffa500" stroke-width="1.5"/>
<path d="M405 174.5H478.4" stroke="#000" stroke-width="15.3" stroke-linecap="square"/>
<path d="M405 174.5H478.4" stroke="#ffa500" stroke-width="9.6" stroke-linecap="square"/>
<text x="493.8" y="152.2" font-size="19.44">ENS Members</text>
<text x="493.8" y="181" font-size="19.44">ENS Mean</text>
</g>
<g transform="translate(0 0)">
<path d="M897.8 128.1L917 128.1L917 139.4L913 139.4L913 153.9L924.2 153.9L924.2 139.4L920.3 139.4L920.3 128.1L939.6 128.1L939.6 139.4L935.8 139.4L935.8 157.7L928 165.8L909.2 165.8L901.6 157.7L901.6 139.4L897.8 139.4Z" fill="#cc0000"/>
<circle cx="933.5" cy="164.3" r="0.9" fill="none" stroke="#cc0000" stroke-width="0.4"/>
<text transform="translate(875.1 165.8) scale(0.82 1)" font-size="11.2" textLength="26.1" lengthAdjust="spacing" font-family="'Liberation Serif','DejaVu Serif',serif" fill="#1a1a1a">THE</text>
<text transform="translate(856.8 182.3) scale(0.82 1)" font-size="16.9" textLength="125.4" lengthAdjust="spacing" font-family="'Liberation Serif','DejaVu Serif',serif" fill="#1a1a1a">UNIVERSITY</text>
<text transform="translate(876.2 195.4) scale(0.82 1)" font-size="10.4" textLength="16.8" lengthAdjust="spacing" font-family="'Liberation Serif','DejaVu Serif',serif" fill="#1a1a1a">OF</text>
<text transform="translate(895.2 198.8) scale(0.82 1)" font-size="16.2" textLength="55.1" lengthAdjust="spacing" font-family="'Liberation Serif','DejaVu Serif',serif" fill="#1a1a1a">UTAH</text>
</g>
<clipPath id="c01"><rect x="1086.5" y="120.5" width="854" height="497"/></clipPath>
<path d="M1086.5 120.5V617.5M1129.5 120.5V617.5M1171.5 120.5V617.5M1214.5 120.5V617.5M1257.5 120.5V617.5M1299.5 120.5V617.5M1342.5 120.5V617.5M1385.5 120.5V617.5M1427.5 120.5V617.5M1470.5 120.5V617.5M1513.5 120.5V617.5M1555.5 120.5V617.5M1598.5 120.5V617.5M1641.5 120.5V617.5M1683.5 120.5V617.5M1726.5 120.5V617.5M1769.5 120.5V617.5M1811.5 120.5V617.5M1854.5 120.5V617.5M1897.5 120.5V617.5M1940.5 120.5V617.5M1086.5 617.5H1940.5M1086.5 539.5H1940.5M1086.5 461.5H1940.5M1086.5 383.5H1940.5M1086.5 305.5H1940.5M1086.5 227.5H1940.5M1086.5 149.5H1940.5" stroke="#b0b0b0" stroke-opacity="0.8" stroke-width="1.05" fill="none"/>
<g clip-path="url(#c01)" fill="none" stroke-linejoin="round">
<g stroke="#bf00bf" stroke-width="1.5">
<path d="M1086.5 617.1L1107.8 613.2L1129.2 593.8L1150.5 580.6L1171.8 579.1L1321.2 579.1L1363.9 578.5L1385.2 573.9L1406.6 567.9L1427.9 565.6L1449.2 549L1470.6 482.2L1491.9 481.9L1513.2 480L1534.6 476.3L1555.9 464.4L1577.3 460.1L1598.6 456.6L1641.3 456.3L1662.6 442.8L1705.3 442.5L1726.6 441.4L1748 437.9L1769.3 427.7L1790.6 420.8L1812 419.8L1833.3 410.2L1854.7 406.1L1876 400.8L1897.3 400.6L1918.7 383.2L1940 381.1"/>
<path d="M1086.5 613.1L1129.2 601L1150.5 588.7L1321.2 588.6L1363.9 587.7L1406.6 584.9L1427.9 579.1L1449.2 577.7L1470.6 576.9L1577.3 576.2L1598.6 561.3L1619.9 559L1641.3 543.8L1662.6 537L1683.9 536.5L1705.3 518.5L1726.6 511.8L1748 497.7L1769.3 492.1L1833.3 491.6L1854.7 488.8L1918.7 488.1L1940 473.5"/>
<path d="M1086.5 612.9L1107.8 606.1L1150.5 595.7L1321.2 595.4L1363.9 594.8L1385.2 590.4L1406.6 587L1427.9 581.3L1449.2 580.1L1491.9 575.3L1513.2 567.4L1534.6 565.7L1555.9 555.6L1577.3 555.2L1598.6 542.7L1726.6 541.9L1748 517L1769.3 446.6L1790.6 397.4L1812 396L1833.3 395.3L1940 394.8"/>
<path d="M1086.5 616.7L1107.8 611.3L1129.2 606.6L1150.5 594.1L1171.8 593.6L1321.2 593.6L1363.9 592.7L1385.2 590.5L1406.6 585.9L1427.9 583.3L1449.2 583.3L1470.6 576.3L1491.9 576.1L1513.2 567.9L1534.6 565.9L1662.6 565.1L1683.9 559.4L1726.6 558.9L1748 557.8L1769.3 554.9L1790.6 552.9L1812 543.7L1833.3 538L1854.7 529L1897.3 529L1918.7 522.4L1940 490.5"/>
<path d="M1086.5 613.4L1107.8 594.9L1129.2 585.7L1150.5 580.4L1342.5 580.4L1385.2 580.1L1406.6 565.6L1427.9 565L1449.2 552.3L1470.6 546.4L1491.9 546.1L1513.2 544.1L1534.6 543.6L1555.9 517.9L1577.3 494.8L1598.6 493.3L1619.9 491.2L1641.3 477.8L1662.6 475L1683.9 464.6L1705.3 430.8L1726.6 371.7L1748 335.2L1769.3 304.4L1790.6 297.2L1812 284.7L1833.3 284.1L1854.7 271.5L1876 270.8L1940 270.6"/>
<path d="M1086.5 612.8L1107.8 593.5L1129.2 589.2L1150.5 573.7L1321.2 573.7L1342.5 573L1363.9 573L1385.2 572.1L1406.6 568.4L1427.9 552.3L1449.2 542.4L1470.6 541.7L1513.2 541.2L1534.6 537.7L1577.3 535.7L1598.6 533.7L1726.6 532.9L1748 528.9L1769.3 526.5L1790.6 515.7L1812 513.1L1833.3 506L1854.7 505L1876 503.5L1897.3 503.4L1918.7 501.3L1940 500.9"/>
<path d="M1086.5 610.4L1107.8 607.5L1129.2 597.8L1150.5 583.6L1342.5 583.5L1363.9 583.4L1385.2 582.3L1406.6 577.1L1427.9 561.9L1449.2 559.4L1513.2 559.2L1534.6 555.9L1577.3 555.6L1598.6 546.3L1619.9 531.3L1641.3 520.3L1705.3 518L1726.6 517.6L1748 515.7L1769.3 506.9L1790.6 493L1812 492.3L1833.3 469.1L1854.7 466.1L1876 459.3L1897.3 450.6L1918.7 450.5L1940 449.3"/>
<path d="M1086.5 614.5L1107.8 610.1L1129.2 607.8L1150.5 599.7L1171.8 599.2L1363.9 599.2L1385.2 596.9L1406.6 593.1L1449.2 591.5L1470.6 587.6L1491.9 561.8L1513.2 549.4L1534.6 534.8L1555.9 522.4L1577.3 516L1598.6 514L1619.9 506.7L1641.3 497.6L1662.6 497.1L1705.3 493.5L1726.6 492.4L1748 484.3L1769.3 475.3L1790.6 472.5L1812 456L1833.3 453.1L1854.7 443.5L1876 443.2L1897.3 416.4L1918.7 412.9L1940 408.9"/>
<path d="M1086.5 612.6L1107.8 609.4L1129.2 604.1L1150.5 600.4L1171.8 600.1L1321.2 600.1L1363.9 599.3L1385.2 598L1406.6 588.2L1427.9 584.5L1470.6 584.1L1491.9 550.5L1513.2 549.4L1534.6 534.1L1555.9 527.2L1577.3 525.4L1619.9 524L1662.6 523.5L1683.9 522.6L1705.3 522.6L1748 521.4L1769.3 520.4L1790.6 467.9L1812 465.9L1833.3 465.3L1876 465.2L1897.3 463.8L1918.7 463.8L1940 456.9"/>
<path d="M1086.5 612.4L1107.8 608.1L1129.2 602.3L1150.5 593.9L1171.8 593.2L1321.2 593.2L1363.9 592.8L1427.9 590.9L1449.2 590.8L1470.6 588.2L1491.9 578.1L1513.2 576.7L1534.6 574.2L1555.9 570.9L1577.3 545.1L1598.6 526.3L1619.9 524.7L1641.3 513.2L1662.6 506.5L1705.3 506.3L1726.6 505.1L1748 505L1769.3 503.9L1790.6 496.7L1812 488.4L1833.3 483.6L1854.7 483.3L1876 480.1L1897.3 480L1940 477.8"/>
<path d="M1086.5 617.3L1107.8 604L1129.2 598.9L1150.5 592.5L1342.5 592.4L1363.9 584.7L1385.2 542.9L1406.6 542.7L1427.9 541.9L1449.2 517L1470.6 512.1L1491.9 496.8L1513.2 495.8L1555.9 495.3L1577.3 493.7L1619.9 493.2L1641.3 487.9L1662.6 487.9L1705.3 486.9L1726.6 478.9L1748 478L1769.3 473.2L1790.6 466.9L1812 459.9L1833.3 459.2L1854.7 457.1L1876 445.7L1897.3 445L1918.7 444.9L1940 424.2"/>
<path d="M1086.5 611.8L1107.8 599.2L1129.2 595.6L1150.5 587.8L1342.5 587.8L1491.9 587.4L1513.2 585.8L1577.3 585.4L1598.6 583.4L1619.9 582.4L1641.3 575.2L1662.6 549.4L1683.9 544.6L1726.6 544.5L1748 543.5L1769.3 519.8L1790.6 485.6L1812 484.4L1833.3 483.8L1876 483.5L1918.7 482.6L1940 439.4"/>
<path d="M1086.5 613.8L1107.8 611.1L1129.2 607.3L1150.5 601.1L1427.9 600.7L1449.2 598.8L1470.6 591.7L1491.9 589.7L1534.6 589L1555.9 584.2L1577.3 583L1598.6 577.5L1726.6 576.3L1748 538.4L1769.3 527.6L1790.6 525.6L1812 524.2L1833.3 523.5L1876 523.5L1897.3 514.4L1918.7 512.5L1940 512.5"/>
<path d="M1086.5 610.9L1107.8 606L1129.2 603.4L1150.5 599.2L1321.2 599.1L1342.5 598.5L1363.9 598.5L1385.2 597L1406.6 575.8L1470.6 575.6L1491.9 569.8L1513.2 551.5L1534.6 550.9L1555.9 547.6L1577.3 547.4L1598.6 541.1L1619.9 533.4L1641.3 532.1L1662.6 532.1L1683.9 531.4L1705.3 528.4L1726.6 521.5L1748 512L1769.3 495.8L1790.6 458.3L1833.3 457L1918.7 456.7L1940 456.2"/>
<path d="M1086.5 613.1L1107.8 608.8L1129.2 607.5L1150.5 596.3L1171.8 595.9L1321.2 595.9L1363.9 595.2L1385.2 591.2L1406.6 589.8L1555.9 589.2L1598.6 581.4L1641.3 579.2L1705.3 578.9L1726.6 576.2L1748 575L1769.3 552.3L1790.6 545.1L1833.3 545L1876 540.5L1897.3 533.1L1918.7 532.4L1940 480.8"/>
<path d="M1086.5 609.1L1107.8 597.2L1129.2 594.9L1150.5 589.2L1171.8 588.3L1342.5 588.3L1385.2 587.7L1406.6 584.4L1427.9 580.2L1449.2 577.7L1491.9 577.2L1513.2 574.1L1534.6 573.9L1555.9 570.7L1577.3 548.8L1598.6 547.8L1619.9 540.3L1662.6 534.1L1748 533.4L1769.3 530L1790.6 501.2L1812 482.4L1833.3 480.2L1854.7 479L1876 478.9L1897.3 469.5L1940 468.9"/>
<path d="M1086.5 613L1107.8 601.5L1129.2 588.2L1150.5 572L1342.5 572L1385.2 571.1L1406.6 543.7L1470.6 543.3L1491.9 542.8L1513.2 535.9L1534.6 518.5L1555.9 516.7L1577.3 515.9L1598.6 511.8L1619.9 506L1662.6 506L1683.9 504.2L1705.3 503.5L1748 503.1L1769.3 475.6L1790.6 454.4L1812 423.5L1833.3 417.7L1854.7 397.4L1897.3 394.5L1918.7 394.5L1940 393.7"/>
<path d="M1086.5 612.8L1107.8 610.2L1129.2 604.8L1150.5 598.7L1342.5 598.5L1363.9 591.7L1385.2 587.2L1406.6 578.5L1427.9 577.9L1449.2 577.9L1491.9 562.4L1513.2 557L1534.6 556.5L1555.9 549.6L1577.3 527L1598.6 523.7L1619.9 522.6L1641.3 512L1662.6 498.9L1683.9 498.4L1726.6 498.4L1748 493.9L1769.3 479.1L1790.6 475.9L1876 475.7L1897.3 453.9L1918.7 452.9L1940 445.9"/>
<path d="M1086.5 613.5L1107.8 594.6L1129.2 586.4L1150.5 564.5L1171.8 563.7L1342.5 563.7L1363.9 563.4L1385.2 561.8L1406.6 561.2L1470.6 548.6L1491.9 547.2L1513.2 545.1L1577.3 543.9L1662.6 543.4L1705.3 541.7L1726.6 497.7L1748 450.8L1769.3 420.6L1790.6 414.7L1812 390L1833.3 388L1854.7 377.9L1876 375.1L1897.3 360.4L1918.7 357.1L1940 352.8"/>
<path d="M1086.5 613L1107.8 603.8L1129.2 596.5L1150.5 581L1171.8 579.9L1363.9 579.9L1385.2 578.7L1406.6 569.5L1427.9 564.3L1449.2 546.9L1470.6 534.3L1491.9 534.2L1513.2 522.4L1555.9 512.5L1598.6 503.9L1683.9 503.6L1705.3 490.3L1726.6 489.4L1748 479.5L1769.3 470.6L1790.6 469.5L1812 463.5L1833.3 462.8L1854.7 461.4L1876 430.2L1897.3 416.1L1918.7 415.5L1940 415.5"/>
<path d="M1086.5 615.1L1107.8 602.2L1129.2 594.1L1150.5 587.8L1171.8 587L1385.2 586.9L1427.9 580.4L1449.2 578.3L1470.6 578.1L1491.9 573.5L1513.2 571L1555.9 569.7L1577.3 568L1598.6 563L1619.9 563L1641.3 561.8L1662.6 559.6L1683.9 558.6L1748 558.3L1769.3 555.6L1790.6 550.4L1812 525L1854.7 505.3L1876 499.3L1897.3 470.2L1918.7 466.3L1940 465.9"/>
<path d="M1086.5 615.1L1150.5 602.7L1171.8 602.2L1321.2 602.2L1363.9 601.4L1385.2 601.4L1406.6 596.6L1427.9 596.4L1449.2 584.1L1470.6 557.9L1491.9 557.9L1513.2 556.9L1577.3 556.5L1598.6 553.3L1619.9 546.1L1641.3 543.6L1662.6 543.1L1683.9 531.2L1705.3 529.4L1726.6 477.8L1748 467.5L1769.3 465.6L1790.6 435.8L1812 422L1854.7 420.2L1940 419.6"/>
<path d="M1086.5 614.3L1107.8 603.5L1129.2 586.8L1150.5 579.9L1171.8 579.2L1363.9 579.1L1385.2 573.3L1406.6 566.4L1470.6 566L1491.9 563.3L1513.2 561.2L1534.6 547.3L1555.9 546.4L1577.3 536.7L1598.6 525.8L1619.9 525L1641.3 523.5L1705.3 522.9L1726.6 521.1L1748 483.1L1769.3 478.9L1790.6 477L1812 466.9L1854.7 466.7L1876 457.2L1940 457"/>
<path d="M1086.5 612.1L1107.8 601.5L1129.2 593.6L1150.5 579.5L1363.9 579.3L1385.2 574.1L1406.6 550.4L1427.9 545.2L1449.2 538.8L1470.6 537.6L1491.9 535.3L1534.6 535.3L1555.9 530.7L1577.3 502.9L1598.6 488.8L1619.9 488.6L1641.3 485.5L1662.6 484.3L1683.9 476.8L1705.3 476.6L1726.6 475.7L1748 452.6L1769.3 446.5L1790.6 445L1812 442.3L1833.3 438.8L1854.7 434.2L1918.7 433.7L1940 431.8"/>
<path d="M1086.5 611.8L1107.8 608.5L1129.2 604.2L1150.5 590.4L1171.8 589.7L1363.9 589.7L1385.2 586.7L1406.6 581.2L1427.9 576.6L1449.2 569.2L1491.9 569.2L1513.2 567L1534.6 553.4L1555.9 544.8L1577.3 544.8L1598.6 543.7L1619.9 543.3L1641.3 540.6L1683.9 539.3L1705.3 528.3L1726.6 527.7L1748 521.8L1769.3 502.1L1790.6 492.9L1812 492.8L1833.3 490.1L1854.7 489.1L1876 488.6L1918.7 488.6L1940 486.9"/>
<path d="M1086.5 611.7L1107.8 608.6L1129.2 601.6L1150.5 583.7L1171.8 583.2L1385.2 582.9L1406.6 576.1L1427.9 558.7L1449.2 543.7L1491.9 542.5L1513.2 537.5L1534.6 537.4L1598.6 536L1705.3 535.6L1726.6 534.9L1748 531.8L1769.3 508.4L1790.6 507.4L1812 504.1L1833.3 494.7L1876 492.6L1897.3 488.9L1918.7 460L1940 453.2"/>
<path d="M1086.5 616.6L1107.8 613.3L1129.2 604.1L1150.5 593.2L1385.2 593.1L1406.6 591L1427.9 579.3L1449.2 572.5L1470.6 571.2L1491.9 571L1513.2 568.7L1534.6 564.7L1555.9 556.1L1577.3 542.2L1641.3 539.1L1662.6 539.1L1683.9 537.7L1705.3 519.9L1726.6 453.6L1748 431.8L1790.6 429.2L1854.7 428.6L1876 418L1897.3 417.9L1940 416.5"/>
<path d="M1086.5 611.6L1107.8 608.7L1129.2 604.8L1150.5 596.1L1171.8 595.7L1363.9 595.7L1427.9 594.3L1449.2 572L1470.6 564L1491.9 562.1L1513.2 561.4L1555.9 552.1L1577.3 551.9L1598.6 543.9L1619.9 543.4L1641.3 540.4L1662.6 525.2L1683.9 505.8L1705.3 505.4L1726.6 466.6L1769.3 465.9L1790.6 458.8L1812 458.6L1833.3 429.1L1854.7 429.1L1876 406.8L1897.3 406.1L1918.7 406.1L1940 404"/>
<path d="M1086.5 612.2L1107.8 603.9L1129.2 599.5L1150.5 585.1L1171.8 583.5L1342.5 583.4L1363.9 576.5L1385.2 562.8L1406.6 559.9L1427.9 559.5L1449.2 557.9L1470.6 557.5L1555.9 557L1577.3 556.3L1598.6 553.7L1641.3 552.4L1662.6 552.4L1683.9 546.1L1705.3 544.6L1726.6 539.6L1748 525.9L1769.3 501.1L1790.6 490.4L1812 488.3L1833.3 488.3L1854.7 487.6L1897.3 487.4L1918.7 484.5L1940 478.8"/>
<path d="M1086.5 613.7L1129.2 608.2L1150.5 594.9L1342.5 594.8L1363.9 589.1L1385.2 588.1L1449.2 587.4L1470.6 586.5L1513.2 585.8L1534.6 584.9L1577.3 584.7L1598.6 581.5L1619.9 580.2L1726.6 579.3L1748 555.3L1769.3 518.7L1790.6 503.8L1833.3 477.8L1854.7 477.2L1876 475.7L1897.3 475.3L1918.7 471.1L1940 469.6"/>
<path d="M1086.5 615.6L1107.8 612L1129.2 601.7L1150.5 590L1342.5 589.7L1363.9 589.4L1385.2 588.4L1406.6 579L1427.9 552.8L1449.2 542L1470.6 540.9L1491.9 538.9L1513.2 538.9L1534.6 527.1L1555.9 526.4L1577.3 523.7L1598.6 507.5L1619.9 506L1641.3 495.1L1662.6 494.2L1705.3 494.2L1726.6 490L1748 486.9L1769.3 470.9L1812 458.8L1833.3 455.2L1854.7 454.1L1876 445.4L1897.3 442.1L1918.7 436.9L1940 436.8"/>
<path d="M1086.5 609.8L1107.8 592.3L1129.2 586.9L1150.5 578.5L1321.2 578.5L1363.9 578.1L1385.2 577L1406.6 560.6L1427.9 533.9L1449.2 529.8L1470.6 529.8L1491.9 519.2L1513.2 500.4L1534.6 490.5L1555.9 486.6L1577.3 472.7L1598.6 453.3L1619.9 443.9L1641.3 441.2L1662.6 440.7L1683.9 433.4L1726.6 433L1748 385.8L1769.3 385.2L1790.6 384L1812 362.1L1833.3 361.5L1854.7 358.1L1876 357.3L1897.3 355.9L1918.7 355.8L1940 355.1"/>
<path d="M1086.5 615.5L1107.8 602.8L1129.2 598.5L1150.5 596.2L1171.8 594.8L1385.2 594.8L1406.6 585.9L1427.9 582L1449.2 580.2L1470.6 548.5L1491.9 537.8L1534.6 537L1555.9 533.2L1577.3 528.4L1598.6 524.2L1619.9 516.2L1641.3 516.2L1662.6 513.2L1705.3 512.3L1726.6 478.4L1748 451.1L1769.3 428.9L1790.6 421.7L1812 416.9L1833.3 416.7L1876 414.6L1918.7 414.6L1940 413.9"/>
<path d="M1086.5 613.5L1107.8 603.3L1129.2 584.3L1150.5 573.5L1342.5 573.4L1406.6 572.3L1427.9 570.6L1449.2 566.5L1470.6 551.5L1491.9 547L1513.2 545.5L1555.9 545.1L1598.6 542.6L1619.9 534.5L1641.3 529.9L1662.6 528.5L1683.9 525.4L1726.6 525.4L1748 519.9L1769.3 517.8L1790.6 514.9L1812 514L1833.3 507.5L1854.7 496.9L1897.3 495.9L1918.7 468.1L1940 441.2"/>
<path d="M1086.5 613.8L1107.8 611.2L1129.2 599.5L1150.5 594.1L1385.2 593.7L1406.6 590.1L1427.9 589.5L1449.2 587.8L1470.6 557.3L1491.9 547.7L1513.2 545.5L1534.6 541.4L1555.9 541.2L1577.3 518.8L1598.6 514.4L1619.9 506L1641.3 490.3L1683.9 485.5L1726.6 485.1L1748 474.4L1769.3 448.7L1790.6 435.4L1812 432.4L1833.3 432.2L1854.7 406.3L1876 401.6L1897.3 400.7L1918.7 371.6L1940 371.3"/>
<path d="M1086.5 612.8L1129.2 607.1L1150.5 581.9L1321.2 581.8L1385.2 581L1406.6 577.1L1427.9 569.3L1449.2 569.1L1470.6 567.4L1513.2 567.1L1534.6 562.4L1555.9 555.2L1577.3 554.9L1598.6 550.1L1619.9 543.2L1641.3 538.2L1726.6 537.6L1748 521.4L1769.3 520.1L1790.6 513.8L1812 501.5L1833.3 454.7L1854.7 420.3L1876 351.7L1897.3 351.6L1918.7 345.3L1940 340.6"/>
<path d="M1086.5 609.8L1107.8 602.7L1129.2 600.6L1150.5 588L1363.9 587.7L1385.2 576.3L1406.6 575.3L1427.9 575.1L1449.2 573.7L1470.6 529.4L1491.9 480.4L1513.2 441.3L1534.6 404.6L1555.9 393.6L1577.3 392L1598.6 391.6L1619.9 390.1L1641.3 389.3L1705.3 388.5L1726.6 386.8L1748 386.6L1769.3 370L1790.6 367.8L1812 363.3L1833.3 362.4L1918.7 361.4L1940 332.8"/>
<path d="M1086.5 608.9L1129.2 599.1L1150.5 582.7L1321.2 582.6L1363.9 582.1L1385.2 578.5L1406.6 575.9L1427.9 565.2L1449.2 563.5L1470.6 557.9L1491.9 550.3L1513.2 534.7L1577.3 534.7L1598.6 531.8L1619.9 503.7L1641.3 485.7L1662.6 471.9L1683.9 471.2L1726.6 471.2L1748 468.1L1769.3 460.1L1790.6 454.4L1812 448.2L1833.3 448.1L1854.7 422.4L1876 409.3L1897.3 401.4L1918.7 400.4L1940 397.5"/>
<path d="M1086.5 612.2L1107.8 596.4L1129.2 595.4L1150.5 588L1321.2 587.9L1363.9 587.8L1385.2 587L1406.6 582.5L1427.9 551.2L1449.2 532.2L1470.6 522.8L1491.9 520.2L1513.2 519L1534.6 518.7L1555.9 510.3L1598.6 509.6L1619.9 508.3L1662.6 508.3L1683.9 504.9L1705.3 503.2L1726.6 502.1L1748 502.1L1769.3 500.5L1790.6 490.4L1812 489.4L1833.3 477.8L1854.7 477.5L1876 469.8L1897.3 468.1L1918.7 465L1940 464.3"/>
<path d="M1086.5 614.1L1107.8 607.4L1129.2 601.6L1150.5 592.7L1363.9 592.5L1470.6 591.7L1491.9 585.8L1513.2 584.9L1555.9 583.7L1641.3 582.8L1662.6 580.4L1683.9 580.3L1726.6 579.2L1748 579.2L1790.6 576.1L1876 575.7L1897.3 561.1L1940 560.1"/>
<path d="M1086.5 608.6L1107.8 600.5L1129.2 594.6L1150.5 578.3L1342.5 578.2L1363.9 577.9L1385.2 576.3L1406.6 576L1427.9 574.9L1449.2 565.1L1470.6 564.8L1491.9 560.5L1513.2 555.1L1534.6 554.2L1555.9 552.1L1577.3 551.9L1598.6 549L1619.9 532.5L1641.3 527.8L1662.6 527.3L1683.9 526.3L1705.3 513L1726.6 512.1L1748 486.3L1769.3 466.5L1790.6 464.8L1812 453.5L1833.3 444.9L1854.7 436.8L1876 435.8L1940 435.4"/>
<path d="M1086.5 611.8L1107.8 603.1L1129.2 593.4L1150.5 584.9L1342.5 584.6L1385.2 583.8L1406.6 575.4L1427.9 549.6L1449.2 549.1L1470.6 541.5L1555.9 541.3L1577.3 533.1L1598.6 512.8L1619.9 486.7L1641.3 472L1662.6 471.2L1683.9 469.7L1726.6 469.5L1748 466.2L1769.3 455.6L1790.6 454.8L1812 448L1833.3 447.8L1854.7 416.5L1897.3 414.1L1918.7 413.5L1940 401.1"/>
<path d="M1086.5 609.5L1107.8 592.4L1129.2 585.7L1150.5 577L1171.8 576.6L1363.9 576.3L1385.2 575.8L1406.6 572.5L1427.9 572.5L1491.9 571.3L1513.2 569.1L1534.6 565.5L1577.3 564.9L1598.6 553.3L1619.9 551.1L1683.9 550.8L1705.3 535.3L1748 534.5L1769.3 527.9L1833.3 525.2L1876 524.9L1897.3 521.9L1940 521.8"/>
<path d="M1086.5 610L1107.8 602.7L1129.2 597.6L1150.5 586.7L1171.8 585.7L1363.9 585.5L1385.2 584.6L1406.6 582.8L1427.9 573.4L1449.2 567.1L1470.6 566.2L1491.9 560.3L1513.2 555.2L1534.6 554.4L1577.3 554.3L1598.6 544.9L1619.9 543L1641.3 524.7L1662.6 522.7L1683.9 509.6L1705.3 489.4L1726.6 482.3L1769.3 481.7L1790.6 474.1L1812 455.9L1833.3 452.3L1918.7 451.4L1940 448.8"/>
<path d="M1086.5 612.3L1107.8 603.7L1129.2 597.1L1150.5 587.8L1342.5 587.4L1363.9 582.6L1385.2 563.9L1406.6 534.1L1427.9 528.7L1449.2 523.9L1470.6 504L1491.9 503.7L1513.2 492.1L1534.6 491.1L1555.9 491L1577.3 489.8L1598.6 478.8L1619.9 472.5L1641.3 471L1662.6 470.8L1683.9 462.7L1748 461.5L1769.3 435.4L1790.6 404.5L1812 399.9L1854.7 397.7L1876 396.3L1897.3 396.2L1918.7 382L1940 375.1"/>
<path d="M1086.5 613.6L1107.8 601.7L1129.2 600L1150.5 592.1L1171.8 591.6L1321.2 591.6L1342.5 591L1363.9 588.7L1385.2 588.1L1406.6 586.7L1427.9 579L1449.2 576.9L1470.6 565.7L1491.9 564L1513.2 564L1534.6 563.4L1555.9 560.8L1577.3 555.7L1619.9 554.8L1641.3 551.6L1726.6 551L1748 549L1769.3 539.6L1790.6 532.5L1812 514.3L1833.3 485.3L1940 483.9"/>
<path d="M1086.5 609.9L1107.8 607L1129.2 597.6L1150.5 592.7L1385.2 592.3L1406.6 588.4L1449.2 577.2L1470.6 558.3L1491.9 558.3L1513.2 557.4L1534.6 554.6L1577.3 551.9L1598.6 545.7L1619.9 540.3L1641.3 537L1662.6 535.5L1683.9 534.8L1726.6 534.8L1748 534L1769.3 528.1L1790.6 527.9L1833.3 526.3L1854.7 526.3L1876 512.7L1897.3 476.4L1940 475.9"/>
<path d="M1086.5 612.4L1107.8 600.4L1129.2 596.3L1150.5 580.7L1171.8 580L1363.9 579.7L1385.2 578.7L1406.6 577.2L1427.9 568.7L1449.2 554.7L1470.6 553.8L1491.9 545.8L1513.2 543.4L1555.9 541.6L1577.3 536.4L1598.6 521.1L1619.9 493.4L1705.3 492.2L1726.6 489.5L1790.6 489.1L1812 484.8L1833.3 484.8L1854.7 482.7L1876 481.1L1897.3 480.3L1918.7 478.8L1940 478.8"/>
<path d="M1086.5 613.8L1107.8 609.7L1129.2 603.7L1150.5 581.8L1171.8 580.9L1321.2 580.9L1363.9 580L1385.2 559.7L1406.6 550.2L1427.9 546.1L1449.2 534.6L1470.6 531.7L1491.9 531.7L1513.2 530.3L1534.6 529.4L1555.9 517.9L1577.3 517.1L1598.6 503.7L1641.3 503.2L1662.6 497.1L1683.9 494.1L1726.6 493.9L1748 478.7L1769.3 461.2L1790.6 452.6L1812 436.4L1833.3 425.7L1876 424.8L1897.3 422L1918.7 394.4L1940 347.5"/>
<path d="M1086.5 611.2L1107.8 602.2L1150.5 569.5L1171.8 568.6L1342.5 568.6L1363.9 562.3L1385.2 539.3L1406.6 536L1427.9 514.8L1449.2 501.9L1470.6 500.1L1491.9 499.3L1513.2 485.8L1534.6 485.4L1555.9 476.9L1577.3 463.1L1598.6 442.1L1619.9 417.5L1769.3 416.7L1790.6 386.7L1812 382.9L1833.3 382.4L1854.7 378.1L1876 376.8L1897.3 376.8L1918.7 375.2L1940 374.2"/>
<path d="M1086.5 611.2L1107.8 601.2L1129.2 596.6L1150.5 582.2L1321.2 582.2L1342.5 581.4L1363.9 578.7L1385.2 568.9L1406.6 567.5L1427.9 551.8L1449.2 546.3L1470.6 519.1L1491.9 483.9L1513.2 482.3L1534.6 481.7L1577.3 474.5L1598.6 468.3L1619.9 453.8L1641.3 453.8L1662.6 452.6L1683.9 438.5L1705.3 434.5L1726.6 431.3L1748 424L1769.3 407.5L1790.6 378.8L1812 343L1833.3 328.7L1854.7 300.5L1876 297.4L1940 296.9"/>
</g>
<g stroke="#0000ff" stroke-width="1.5">
<path d="M1086.5 616L1129.2 604.7L1150.5 601.6L1321.2 601.5L1363.9 600.2L1385.2 587.4L1406.6 559.2L1427.9 534.8L1449.2 531.5L1470.6 527L1491.9 526.7L1513.2 515.8L1534.6 507L1577.3 499.2L1598.6 494.7L1619.9 493.3L1662.6 492.7L1683.9 485.9L1705.3 484.8L1726.6 481.5L1748 460.1L1790.6 450L1812 442.6L1833.3 438.8L1854.7 425.5L1876 421.7L1897.3 421L1918.7 417L1940 415.4"/>
<path d="M1086.5 614.9L1107.8 611.1L1129.2 593.2L1150.5 591.6L1321.2 591.5L1342.5 590.4L1363.9 573.6L1385.2 550.9L1406.6 535.8L1427.9 532.5L1449.2 528.4L1491.9 527.7L1513.2 525.1L1534.6 518.8L1577.3 518.2L1598.6 517L1619.9 517L1641.3 515.5L1662.6 511.3L1683.9 505.9L1748 505.3L1769.3 499L1790.6 497.6L1812 495.3L1833.3 492.4L1854.7 478.2L1876 469L1897.3 468.9L1918.7 467.2L1940 453.4"/>
<path d="M1086.5 614.9L1107.8 611.6L1129.2 602.3L1150.5 598.1L1321.2 597.9L1342.5 597.3L1363.9 579.1L1385.2 550.8L1427.9 487.4L1449.2 486.6L1491.9 486.6L1513.2 484.1L1534.6 483.6L1577.3 469.6L1598.6 466.4L1619.9 461.2L1641.3 454.7L1662.6 440.2L1726.6 439.7L1748 432.4L1769.3 430.4L1790.6 415.5L1812 404.8L1833.3 402.8L1876 401L1897.3 400.7L1918.7 393.4L1940 392.8"/>
<path d="M1086.5 617.1L1107.8 615.9L1129.2 612.8L1150.5 608.8L1171.8 608.4L1342.5 608.1L1363.9 588.7L1385.2 563.1L1406.6 522.5L1427.9 508.8L1449.2 469.7L1470.6 468.8L1491.9 465.7L1513.2 457.2L1534.6 454.7L1555.9 444.7L1598.6 427.8L1683.9 427L1705.3 408.4L1726.6 400.9L1748 389.8L1769.3 367.3L1790.6 366.2L1833.3 356.4L1897.3 355.5L1918.7 354.4L1940 350.3"/>
<path d="M1086.5 615.6L1107.8 603.2L1129.2 583.7L1150.5 576.8L1171.8 574.1L1321.2 574L1342.5 573.1L1363.9 567.7L1385.2 550.3L1406.6 522L1427.9 487.1L1449.2 480.8L1470.6 475.9L1491.9 462.8L1513.2 451.2L1534.6 441.6L1555.9 437.3L1577.3 437.3L1598.6 430.2L1619.9 430.2L1641.3 424.3L1662.6 424.3L1683.9 419.1L1726.6 417.8L1748 398.2L1769.3 393.9L1790.6 379.1L1812 372.7L1833.3 365.6L1854.7 362L1897.3 361.7L1918.7 359.6L1940 347.5"/>
<path d="M1086.5 614.6L1107.8 606.1L1129.2 599.9L1150.5 595L1171.8 594.6L1363.9 594.4L1406.6 584.2L1427.9 577.6L1449.2 575.9L1470.6 573L1491.9 572.1L1513.2 562.1L1534.6 559.8L1555.9 555.9L1577.3 555.1L1598.6 552.9L1619.9 542.4L1641.3 533.4L1662.6 531L1683.9 528L1705.3 526.2L1726.6 512.2L1748 510.1L1769.3 497L1790.6 494.4L1812 487.7L1833.3 484.6L1854.7 484.5L1876 481L1897.3 481L1918.7 473.7L1940 473.1"/>
<path d="M1086.5 614.1L1107.8 603.8L1129.2 585.1L1150.5 582.8L1171.8 581.7L1321.2 581.5L1385.2 580.9L1406.6 579.8L1427.9 574.1L1449.2 548.5L1470.6 547.8L1491.9 540.4L1513.2 540.4L1534.6 538.3L1555.9 538.3L1577.3 533L1598.6 530.3L1619.9 523L1641.3 522.3L1662.6 522.3L1683.9 513.7L1705.3 478.1L1726.6 457.8L1748 454.9L1769.3 437.6L1812 432.2L1833.3 432.2L1854.7 428.7L1876 425.8L1897.3 416.1L1940 416"/>
<path d="M1086.5 615.4L1107.8 613.4L1129.2 606.5L1150.5 603.2L1342.5 603.1L1385.2 601.2L1406.6 594.5L1427.9 588.5L1449.2 585.1L1470.6 581.1L1491.9 580.7L1513.2 577.2L1577.3 576.7L1598.6 561.8L1619.9 548.3L1641.3 520.9L1662.6 504.7L1683.9 504.7L1705.3 503.8L1726.6 501.1L1748 499.7L1769.3 476.5L1790.6 464.6L1812 457L1833.3 455.4L1854.7 444.1L1876 443.1L1918.7 442.8L1940 440.8"/>
<path d="M1086.5 614.8L1107.8 611.1L1129.2 602L1150.5 597.7L1171.8 596.4L1321.2 596.1L1342.5 590L1363.9 582.1L1385.2 572.7L1406.6 569.3L1449.2 568.1L1470.6 566.1L1491.9 564.7L1534.6 543.2L1577.3 540.3L1619.9 540.1L1662.6 534.3L1683.9 533.7L1726.6 533.5L1748 514.3L1769.3 512.4L1790.6 509.9L1812 505.5L1833.3 497.3L1854.7 493.4L1876 485L1897.3 478.6L1918.7 478.5L1940 477.7"/>
<path d="M1086.5 615.9L1107.8 611.3L1129.2 605L1150.5 601.1L1171.8 600.4L1342.5 600.4L1363.9 595.7L1385.2 586.3L1406.6 575.4L1427.9 566.8L1449.2 560.6L1470.6 556.7L1513.2 553.6L1555.9 551.6L1897.3 551.2L1918.7 525.9L1940 524.7"/>
<path d="M1086.5 613.9L1107.8 610.9L1150.5 605.9L1321.2 605.5L1342.5 599.8L1363.9 586.6L1385.2 572L1406.6 552.2L1427.9 542.7L1449.2 514.9L1470.6 514.7L1491.9 505.7L1513.2 505L1534.6 503.4L1555.9 498.8L1577.3 437.9L1598.6 429.3L1619.9 426.7L1641.3 426.6L1662.6 425.7L1683.9 422.5L1705.3 420.4L1726.6 420.1L1748 405.8L1769.3 399.1L1790.6 395.7L1812 395.4L1833.3 387.1L1854.7 379.6L1876 379.1L1897.3 368.9L1940 368.8"/>
<path d="M1086.5 616.3L1107.8 611.5L1129.2 592.3L1150.5 585.6L1171.8 584.1L1321.2 584L1342.5 581L1363.9 580.9L1385.2 573.6L1406.6 558.9L1427.9 529.8L1449.2 520L1491.9 519.7L1513.2 518.7L1534.6 516.8L1577.3 516.3L1598.6 486.8L1619.9 482L1641.3 480.1L1662.6 480L1683.9 477.1L1705.3 472.4L1726.6 471.2L1748 465.4L1769.3 436.5L1812 422.2L1833.3 410.3L1854.7 399.5L1897.3 399.4L1918.7 387.3L1940 386.7"/>
<path d="M1086.5 613.7L1107.8 610.6L1129.2 608.7L1150.5 605.4L1171.8 604.9L1342.5 604.8L1363.9 594.3L1385.2 590.5L1406.6 561.6L1427.9 536.6L1449.2 532.5L1491.9 531.9L1513.2 529.7L1534.6 529.6L1555.9 525.5L1577.3 524.9L1598.6 514.8L1619.9 501.3L1641.3 497.7L1662.6 490.8L1683.9 482.4L1705.3 466.8L1726.6 466.8L1748 462.9L1769.3 461.3L1790.6 455.7L1812 445.6L1833.3 433.2L1854.7 410.3L1876 408.7L1897.3 408.3L1918.7 396L1940 394.2"/>
<path d="M1086.5 615.2L1107.8 608.1L1129.2 595.7L1150.5 591L1171.8 590.2L1342.5 590.2L1363.9 582.4L1385.2 566.8L1406.6 547.3L1427.9 531.8L1449.2 524L1470.6 519.3L1491.9 516.2L1534.6 511.5L1555.9 508.4L1577.3 406.3L1598.6 382.1L1641.3 381.3L1662.6 380.5L1683.9 375.9L1705.3 369.6L1726.6 352.5L1748 322.1L1769.3 286.2L1790.6 283.9L1812 276.9L1833.3 265.2L1854.7 246.5L1876 238.7L1897.3 225.4L1918.7 223.9L1940 223.1"/>
<path d="M1086.5 614.9L1107.8 607.2L1129.2 597.6L1150.5 593.6L1321.2 593.4L1342.5 590.7L1363.9 565.9L1385.2 538.7L1427.9 495.7L1449.2 493.4L1470.6 468.9L1491.9 451L1513.2 444L1534.6 442.5L1555.9 435.1L1577.3 432.4L1598.6 407.5L1619.9 359.1L1705.3 358.1L1726.6 336.2L1748 332.7L1769.3 316.8L1790.6 308.6L1833.3 303.7L1876 294.6L1897.3 288.7L1918.7 287.8L1940 287.8"/>
<path d="M1086.5 616.5L1107.8 611L1129.2 597.3L1150.5 590.2L1171.8 589L1321.2 588.9L1342.5 588.4L1363.9 576.7L1385.2 562.6L1406.6 547.3L1427.9 523.7L1449.2 523.4L1470.6 518.7L1491.9 510L1513.2 509.9L1534.6 502.7L1555.9 492.2L1577.3 491.8L1598.6 477.9L1619.9 449.6L1641.3 447.4L1662.6 447.2L1683.9 444.8L1705.3 444.8L1726.6 401.6L1748 381.6L1769.3 359.5L1790.6 354.4L1812 349.9L1833.3 348.8L1854.7 348.2L1876 341L1897.3 326.2L1918.7 322.6L1940 322.6"/>
<path d="M1086.5 617.3L1107.8 613L1150.5 605.4L1342.5 605.3L1363.9 592.7L1385.2 568.5L1406.6 545.7L1427.9 517.6L1449.2 496L1470.6 478.8L1491.9 476.2L1513.2 475.5L1534.6 472.4L1577.3 471.2L1598.6 459.7L1619.9 458.1L1641.3 455.2L1705.3 454.7L1726.6 447L1748 442.2L1769.3 424.3L1790.6 419L1812 417.8L1854.7 416.5L1876 402.4L1897.3 394.7L1918.7 394.5L1940 378.7"/>
<path d="M1086.5 615.3L1107.8 606.9L1129.2 590.8L1171.8 588.5L1321.2 588.3L1363.9 586.7L1385.2 579.3L1406.6 562.5L1427.9 559.9L1449.2 556.1L1470.6 553.2L1491.9 545.6L1513.2 542.6L1534.6 542.5L1555.9 536.1L1577.3 535.6L1598.6 523.9L1619.9 521.8L1641.3 521.5L1662.6 519.6L1683.9 508.2L1705.3 494.3L1726.6 458.5L1748 451.6L1769.3 432.5L1790.6 411.3L1812 404.6L1833.3 401.7L1854.7 394.5L1876 392.8L1897.3 388L1940 387.4"/>
<path d="M1086.5 614.8L1129.2 602.2L1150.5 596.7L1171.8 595.9L1321.2 595.8L1363.9 594.9L1385.2 591.7L1406.6 587.5L1427.9 577.5L1449.2 566.9L1470.6 565.2L1555.9 563.9L1577.3 545.7L1598.6 543.6L1619.9 537.8L1641.3 534.5L1662.6 529.6L1683.9 528.4L1726.6 527.7L1748 517.7L1769.3 500.5L1790.6 481.3L1812 478L1833.3 476.2L1876 473.6L1897.3 468.5L1940 468.5"/>
<path d="M1086.5 616.8L1107.8 609.6L1129.2 598.8L1150.5 594.5L1321.2 594.3L1342.5 593.5L1363.9 575.4L1385.2 552.7L1406.6 546.2L1449.2 545.9L1470.6 543.1L1491.9 541.4L1513.2 531L1534.6 531L1555.9 525L1577.3 514.7L1598.6 503.6L1619.9 489.3L1641.3 486.9L1662.6 482.9L1726.6 482.6L1748 481.2L1769.3 464.6L1790.6 449.6L1812 433.8L1833.3 431.3L1854.7 418.4L1876 417.2L1897.3 416.6L1918.7 412.5L1940 410.5"/>
<path d="M1086.5 614.1L1107.8 611.8L1129.2 599.5L1150.5 593.9L1321.2 593.7L1342.5 592.7L1363.9 574.9L1385.2 569.6L1406.6 555L1427.9 520.4L1449.2 518.6L1470.6 514.6L1491.9 509.3L1513.2 500.4L1555.9 500.3L1598.6 496.2L1619.9 496.1L1641.3 490.8L1662.6 488.7L1683.9 483.7L1705.3 482.6L1726.6 468.9L1748 444.4L1769.3 426.8L1790.6 397L1812 388.9L1833.3 378.5L1854.7 378L1876 375.6L1897.3 372.2L1918.7 359.2L1940 357.6"/>
<path d="M1086.5 615L1107.8 610.3L1129.2 604.2L1150.5 601.2L1321.2 601.1L1342.5 600L1363.9 592.5L1385.2 528.7L1406.6 477.5L1449.2 447.1L1470.6 442.7L1491.9 442.2L1513.2 438.4L1534.6 438.3L1555.9 431.4L1577.3 430.9L1598.6 424L1619.9 423.8L1641.3 421.1L1662.6 421L1683.9 418.5L1726.6 418L1748 408.1L1769.3 407.4L1790.6 405.2L1812 392.9L1833.3 382.3L1854.7 376.5L1876 362.9L1897.3 356.3L1918.7 338.2L1940 336"/>
<path d="M1086.5 614.3L1107.8 611.8L1150.5 597.1L1171.8 596.5L1321.2 596.4L1342.5 596L1363.9 583.2L1385.2 565.2L1427.9 551.4L1449.2 547.6L1470.6 545.3L1491.9 543.9L1513.2 536.3L1534.6 521.7L1555.9 505.2L1577.3 503.1L1598.6 498L1619.9 494.7L1641.3 493.8L1683.9 493.7L1705.3 476.7L1726.6 476.3L1748 459.5L1769.3 444.1L1790.6 410.8L1812 410.2L1833.3 406.1L1854.7 387.3L1876 373.1L1897.3 371.1L1918.7 370.9L1940 369.7"/>
<path d="M1086.5 615.6L1107.8 611.3L1129.2 597L1150.5 594.4L1171.8 593.1L1321.2 592.9L1385.2 592L1406.6 589.5L1427.9 560.5L1449.2 536.6L1470.6 533.3L1491.9 517.3L1513.2 505.2L1555.9 501L1577.3 500.6L1598.6 494.5L1641.3 489.9L1662.6 467.3L1683.9 455.9L1705.3 455.6L1726.6 454.8L1748 442.3L1769.3 427L1790.6 412.6L1812 408.3L1833.3 398.4L1854.7 393.4L1897.3 392.1L1918.7 390L1940 386.2"/>
<path d="M1086.5 616.7L1107.8 614.8L1129.2 608L1150.5 605.1L1171.8 604.6L1321.2 604.3L1342.5 603.3L1363.9 603.1L1385.2 597.2L1406.6 594.9L1427.9 569L1449.2 558.5L1470.6 557.3L1491.9 553.1L1513.2 545.9L1555.9 542.5L1577.3 527.1L1598.6 522.1L1619.9 521.1L1641.3 515.1L1662.6 502.9L1683.9 493.9L1726.6 490.9L1748 475.2L1769.3 469.5L1790.6 465.6L1812 459.3L1833.3 456.8L1854.7 455.5L1876 449.2L1897.3 446.3L1940 446"/>
<path d="M1086.5 614.5L1107.8 611.2L1129.2 590.3L1150.5 587.5L1321.2 587.2L1342.5 586.5L1363.9 570.1L1385.2 555.5L1406.6 525.2L1427.9 510.2L1449.2 509.4L1470.6 509.3L1491.9 500.2L1555.9 500.2L1577.3 498L1598.6 485.8L1641.3 469.9L1662.6 466.4L1705.3 463L1726.6 457.2L1748 425.2L1769.3 413.9L1790.6 413.5L1812 401.3L1833.3 399.5L1854.7 398.6L1897.3 398.5L1918.7 389.2L1940 387.7"/>
<path d="M1086.5 616.7L1107.8 610.2L1129.2 602.6L1150.5 601.5L1171.8 601.2L1321.2 601.1L1342.5 596.6L1385.2 596.1L1406.6 589.8L1427.9 589.2L1449.2 584.3L1470.6 572.6L1491.9 562L1513.2 561.3L1534.6 559.8L1577.3 559.1L1598.6 556.7L1619.9 556.7L1641.3 549.4L1662.6 541.1L1705.3 538.8L1726.6 538.1L1748 523.9L1769.3 522.7L1790.6 501.6L1812 490.8L1833.3 476.8L1854.7 473.8L1897.3 472.2L1918.7 463.5L1940 449.1"/>
<path d="M1086.5 615L1107.8 609.2L1129.2 590.5L1150.5 585.1L1321.2 584.7L1342.5 580.7L1385.2 578.3L1406.6 530L1427.9 514.5L1449.2 507.4L1470.6 505.5L1491.9 505L1513.2 503.1L1534.6 497.4L1555.9 490L1577.3 477.8L1598.6 475.9L1619.9 475.4L1641.3 472.6L1662.6 465.2L1683.9 460.5L1705.3 460.1L1726.6 453.6L1748 429.2L1769.3 417.6L1790.6 386.1L1833.3 384.7L1876 384.5L1897.3 383.7L1918.7 383.7L1940 382"/>
<path d="M1086.5 615.6L1107.8 606.6L1129.2 596.4L1150.5 591.7L1171.8 591.4L1321.2 591.2L1342.5 588.3L1363.9 588.3L1385.2 575.7L1406.6 565.4L1427.9 560.2L1449.2 557L1470.6 553.2L1491.9 552.7L1513.2 543.3L1534.6 542.9L1555.9 541.6L1598.6 513.5L1619.9 507.2L1641.3 499L1662.6 498.2L1683.9 495.4L1705.3 490.1L1726.6 489.9L1748 468.3L1769.3 450.8L1790.6 442.2L1812 437.9L1854.7 436.2L1897.3 435.8L1918.7 430.9L1940 418.5"/>
<path d="M1086.5 614.4L1107.8 612.6L1129.2 603.2L1150.5 598.4L1171.8 598.1L1321.2 598L1363.9 595.9L1385.2 572.6L1406.6 545.1L1427.9 535.2L1449.2 516.9L1470.6 512.2L1534.6 509.9L1555.9 503.7L1577.3 494.2L1598.6 490L1619.9 457.4L1641.3 449.8L1705.3 449.5L1726.6 446.2L1748 441.5L1769.3 429.8L1790.6 416.9L1812 410.2L1833.3 402.2L1854.7 401.6L1876 396.9L1897.3 396.7L1940 358.5"/>
<path d="M1086.5 614.5L1107.8 609.3L1129.2 605.3L1150.5 598.6L1321.2 598.5L1342.5 597.9L1363.9 578.3L1385.2 570.2L1406.6 533.2L1427.9 530.7L1449.2 509L1470.6 505.1L1491.9 504.6L1513.2 500.3L1534.6 499L1555.9 494L1577.3 493.8L1619.9 492.3L1641.3 486.5L1662.6 483.9L1683.9 483.5L1705.3 467.9L1726.6 435.9L1769.3 407.7L1790.6 402.7L1812 396.5L1876 392.4L1897.3 380.7L1918.7 372.9L1940 355.4"/>
</g>
<path d="M1086.5 612.8L1107.8 604.6L1129.2 598L1150.5 587.1L1171.8 586.7L1321.2 586.7L1342.5 586.6L1363.9 585.5L1385.2 581.6L1406.6 575.8L1427.9 569.4L1449.2 563.7L1470.6 555.9L1491.9 550.5L1513.2 546L1555.9 538.5L1577.3 533.3L1598.6 527.1L1619.9 521.9L1641.3 517.7L1683.9 512.4L1705.3 509.2L1726.6 502.1L1748 492L1769.3 479.5L1790.6 468.6L1812 460.8L1854.7 449.9L1876 445L1897.3 440.6L1918.7 436.7L1940 429.8" stroke="#000" stroke-width="15.3" stroke-linecap="square"/>
<path d="M1086.5 612.8L1107.8 604.6L1129.2 598L1150.5 587.1L1171.8 586.7L1321.2 586.7L1342.5 586.6L1363.9 585.5L1385.2 581.6L1406.6 575.8L1427.9 569.4L1449.2 563.7L1470.6 555.9L1491.9 550.5L1513.2 546L1555.9 538.5L1577.3 533.3L1598.6 527.1L1619.9 521.9L1641.3 517.7L1683.9 512.4L1705.3 509.2L1726.6 502.1L1748 492L1769.3 479.5L1790.6 468.6L1812 460.8L1854.7 449.9L1876 445L1897.3 440.6L1918.7 436.7L1940 429.8" stroke="#bf00bf" stroke-width="9.6" stroke-linecap="square"/>
<path d="M1086.5 615.2L1107.8 609.7L1129.2 599L1150.5 594.7L1171.8 594.1L1321.2 594L1342.5 592.6L1363.9 584.8L1385.2 571.1L1406.6 552.3L1427.9 537.2L1449.2 527.5L1470.6 522.8L1491.9 518.7L1513.2 513.8L1534.6 510.7L1555.9 506.8L1577.3 500.6L1598.6 492.8L1619.9 485.2L1641.3 481.1L1662.6 477.2L1683.9 473.8L1705.3 469L1726.6 460.3L1748 448.1L1769.3 435.5L1790.6 424.6L1812 418.3L1833.3 413.3L1854.7 407.3L1876 403.4L1897.3 400.3L1918.7 395.6L1940 391.3" stroke="#000" stroke-width="15.3" stroke-linecap="square"/>
<path d="M1086.5 615.2L1107.8 609.7L1129.2 599L1150.5 594.7L1171.8 594.1L1321.2 594L1342.5 592.6L1363.9 584.8L1385.2 571.1L1406.6 552.3L1427.9 537.2L1449.2 527.5L1470.6 522.8L1491.9 518.7L1513.2 513.8L1534.6 510.7L1555.9 506.8L1577.3 500.6L1598.6 492.8L1619.9 485.2L1641.3 481.1L1662.6 477.2L1683.9 473.8L1705.3 469L1726.6 460.3L1748 448.1L1769.3 435.5L1790.6 424.6L1812 418.3L1833.3 413.3L1854.7 407.3L1876 403.4L1897.3 400.3L1918.7 395.6L1940 391.3" stroke="#0000ff" stroke-width="9.6" stroke-linecap="square"/>
</g>
<path d="M1086.5 617.5v4.9M1129.5 617.5v4.9M1171.5 617.5v4.9M1214.5 617.5v4.9M1257.5 617.5v4.9M1299.5 617.5v4.9M1342.5 617.5v4.9M1385.5 617.5v4.9M1427.5 617.5v4.9M1470.5 617.5v4.9M1513.5 617.5v4.9M1555.5 617.5v4.9M1598.5 617.5v4.9M1641.5 617.5v4.9M1683.5 617.5v4.9M1726.5 617.5v4.9M1769.5 617.5v4.9M1811.5 617.5v4.9M1854.5 617.5v4.9M1897.5 617.5v4.9M1940.5 617.5v4.9M1086.5 617.5h-4.9M1086.5 539.5h-4.9M1086.5 461.5h-4.9M1086.5 383.5h-4.9M1086.5 305.5h-4.9M1086.5 227.5h-4.9M1086.5 149.5h-4.9" stroke="#000" stroke-width="1.1" fill="none"/>
<rect x="1086.5" y="120.5" width="854" height="497" fill="none" stroke="#000" stroke-width="1.1"/>
<g font-size="19.44">
<text x="1085.7" y="644" text-anchor="middle">00z</text>
<text x="1085.7" y="666.1" text-anchor="middle">26-Feb</text>
<text x="1171" y="644" text-anchor="middle">00z</text>
<text x="1171" y="666.1" text-anchor="middle">27-Feb</text>
<text x="1256.4" y="644" text-anchor="middle">00z</text>
<text x="1256.4" y="666.1" text-anchor="middle">28-Feb</text>
<text x="1341.8" y="644" text-anchor="middle">00z</text>
<text x="1341.8" y="666.1" text-anchor="middle">01-Mar</text>
<text x="1427.1" y="644" text-anchor="middle">00z</text>
<text x="1427.1" y="666.1" text-anchor="middle">02-Mar</text>
<text x="1512.5" y="644" text-anchor="middle">00z</text>
<text x="1512.5" y="666.1" text-anchor="middle">03-Mar</text>
<text x="1597.8" y="644" text-anchor="middle">00z</text>
<text x="1597.8" y="666.1" text-anchor="middle">04-Mar</text>
<text x="1683.1" y="644" text-anchor="middle">00z</text>
<text x="1683.1" y="666.1" text-anchor="middle">05-Mar</text>
<text x="1768.5" y="644" text-anchor="middle">00z</text>
<text x="1768.5" y="666.1" text-anchor="middle">06-Mar</text>
<text x="1853.9" y="644" text-anchor="middle">00z</text>
<text x="1853.9" y="666.1" text-anchor="middle">07-Mar</text>
<text x="1939.2" y="644" text-anchor="middle">00z</text>
<text x="1939.2" y="666.1" text-anchor="middle">08-Mar</text>
<text x="1073.6" y="625.1" text-anchor="end">0</text>
<text x="1073.6" y="547.2" text-anchor="end">10</text>
<text x="1073.6" y="469.2" text-anchor="end">20</text>
<text x="1073.6" y="391.3" text-anchor="end">30</text>
<text x="1073.6" y="313.3" text-anchor="end">40</text>
<text x="1073.6" y="235.4" text-anchor="end">50</text>
<text x="1073.6" y="157.4" text-anchor="end">60</text>
</g>
<text x="1513.5" y="112.2" font-size="27.78" text-anchor="middle">Accumulated Snow</text>
<text x="1513.5" y="694.9" font-size="25" text-anchor="middle">Day/Hour</text>
<text x="1038.3" y="369" font-size="25" text-anchor="middle" transform="rotate(-90 1038.3 369)">Accumulated Snow (inches)</text>
<g transform="translate(973 0)">
<rect x="117.5" y="124.5" width="526" height="75" fill="#fff" fill-opacity="0.8" stroke="#000" stroke-opacity="0.8" stroke-width="1.1"/>
<path d="M130.8 145.7H204.3" stroke="#0000ff" stroke-width="1.5"/>
<path d="M130.8 174.5H204.3" stroke="#000" stroke-width="15.3" stroke-linecap="square"/>
<path d="M130.8 174.5H204.3" stroke="#0000ff" stroke-width="9.6" stroke-linecap="square"/>
<text x="219.8" y="152.2" font-size="19.44">GEFS Members</text>
<text x="219.8" y="181" font-size="19.44">GEFS Mean</text>
<path d="M405 145.7H478.4" stroke="#bf00bf" stroke-width="1.5"/>
<path d="M405 174.5H478.4" stroke="#000" stroke-width="15.3" stroke-linecap="square"/>
<path d="M405 174.5H478.4" stroke="#bf00bf" stroke-width="9.6" stroke-linecap="square"/>
<text x="493.8" y="152.2" font-size="19.44">ENS Members</text>
<text x="493.8" y="181" font-size="19.44">ENS Mean</text>
</g>
<g transform="translate(973 0)">
<path d="M897.8 128.1L917 128.1L917 139.4L913 139.4L913 153.9L924.2 153.9L924.2 139.4L920.3 139.4L920.3 128.1L939.6 128.1L939.6 139.4L935.8 139.4L935.8 157.7L928 165.8L909.2 165.8L901.6 157.7L901.6 139.4L897.8 139.4Z" fill="#cc0000"/>
<circle cx="933.5" cy="164.3" r="0.9" fill="none" stroke="#cc0000" stroke-width="0.4"/>
<text transform="translate(875.1 165.8) scale(0.82 1)" font-size="11.2" textLength="26.1" lengthAdjust="spacing" font-family="'Liberation Serif','DejaVu Serif',serif" fill="#1a1a1a">THE</text>
<text transform="translate(856.8 182.3) scale(0.82 1)" font-size="16.9" textLength="125.4" lengthAdjust="spacing" font-family="'Liberation Serif','DejaVu Serif',serif" fill="#1a1a1a">UNIVERSITY</text>
<text transform="translate(876.2 195.4) scale(0.82 1)" font-size="10.4" textLength="16.8" lengthAdjust="spacing" font-family="'Liberation Serif','DejaVu Serif',serif" fill="#1a1a1a">OF</text>
<text transform="translate(895.2 198.8) scale(0.82 1)" font-size="16.2" textLength="55.1" lengthAdjust="spacing" font-family="'Liberation Serif','DejaVu Serif',serif" fill="#1a1a1a">UTAH</text>
</g>
<clipPath id="c10"><rect x="114.5" y="746.5" width="853" height="497"/></clipPath>
<path d="M114.5 746.5V1243.5M156.5 746.5V1243.5M198.5 746.5V1243.5M240.5 746.5V1243.5M282.5 746.5V1243.5M324.5 746.5V1243.5M367.5 746.5V1243.5M409.5 746.5V1243.5M451.5 746.5V1243.5M493.5 746.5V1243.5M535.5 746.5V1243.5M577.5 746.5V1243.5M619.5 746.5V1243.5M662.5 746.5V1243.5M704.5 746.5V1243.5M746.5 746.5V1243.5M788.5 746.5V1243.5M830.5 746.5V1243.5M872.5 746.5V1243.5M914.5 746.5V1243.5M957.5 746.5V1243.5M114.5 1243.5H967.5M114.5 1185.5H967.5M114.5 1126.5H967.5M114.5 1068.5H967.5M114.5 1009.5H967.5M114.5 951.5H967.5M114.5 892.5H967.5M114.5 834.5H967.5M114.5 775.5H967.5" stroke="#b0b0b0" stroke-opacity="0.8" stroke-width="1.05" fill="none"/>
<g clip-path="url(#c10)" fill="none">
<path d="M141.5 1237.7L143.3 1232.9L144.2 1229.4L144.7 1224.7L144.6 1219.9L143.4 1202.2L142.7 1197.5L140.6 1186.9L139.7 1181L138.1 1162.1L136.1 1144.4L135.6 1134.9L135.5 1120.7L134.9 1120.7L134.9 1134.9L134.3 1144.4L132.3 1162.1L130.8 1181L129.9 1186.9L127.8 1197.5L127.1 1202.2L125.9 1219.9L125.8 1224.7L126.3 1229.4L127.2 1232.9L129 1237.7ZM160.2 1240.6L163.1 1233.2L164.6 1229L165.5 1224.9L165.8 1220.7L165.5 1217.5L165 1214.4L160.7 1197.6L159.6 1192.4L159 1187.1L158.4 1177.7L158.2 1152.5L157.1 1136.8L155.5 1136.8L154.4 1152.5L154.2 1177.7L153.7 1187.1L153 1192.4L152 1197.6L147.7 1214.4L147.1 1217.5L146.9 1220.7L147.1 1224.9L148.1 1229L149.5 1233.2L152.5 1240.6ZM179.5 1243.5L184 1232.6L185.7 1227.9L186.6 1224.5L186.8 1221.1L186.2 1217L184 1208.9L182.8 1203.4L181.1 1191.2L178.8 1181L178.1 1176.3L176.7 1176.3L176 1181L173.7 1191.2L172 1203.4L170.8 1208.9L168.6 1217L168 1221.1L168.2 1224.5L169.1 1227.9L170.8 1232.6L175.3 1243.5ZM206.6 1243.5L207.8 1242.9L207.9 1242.5L207.6 1242.1L202.3 1239.4L201.4 1238.5L200.9 1237.7L200.3 1235.6L199.1 1233.2L198.8 1231.9L198.5 1227.6L198.7 1223L198.3 1223L198.5 1227.6L198.1 1231.9L197.8 1233.2L196.6 1235.6L196.1 1237.7L195.6 1238.5L194.6 1239.4L189.3 1242.1L189 1242.5L189.2 1242.9L190.3 1243.5ZM376.1 1243.5L376.5 1243.1L375.9 1242.8L371.5 1241.7L369.6 1241L368.5 1240.1L367.6 1238.9L367.1 1237.1L367.1 1228.8L367.2 1226L366.9 1226L367.1 1228.8L367 1237.1L366.6 1238.9L365.6 1240.1L364.5 1241L362.7 1241.7L358.2 1242.8L357.6 1243.1L358 1243.5ZM397.2 1243.5L397.6 1241.4L397.6 1240.3L397.1 1238.2L395.8 1235L392.7 1229.7L391.2 1226.5L390 1222.2L389.4 1218L389.2 1211.6L389.1 1187.2L388.2 1159.5L388.3 1138.3L388 1138.3L388 1159.5L387.2 1187.2L387.1 1211.6L386.9 1218L386.3 1222.2L385 1226.5L383.5 1229.7L380.5 1235L379.1 1238.2L378.7 1240.3L378.7 1241.4L379 1243.5ZM418 1243.5L418.6 1238.6L418.7 1236.1L418.2 1231.2L417.2 1226.3L413.6 1211.6L412.8 1206.7L411.9 1199.4L411.5 1192L410.8 1170L409.7 1145.5L409.4 1130.8L409.2 1079.3L409.4 1000.9L409 1000.9L409.2 1079.3L409 1130.8L408.7 1145.5L407.6 1170L406.9 1192L406.5 1199.4L405.6 1206.7L404.8 1211.6L401.2 1226.3L400.2 1231.2L399.8 1236.1L399.8 1238.6L400.4 1243.5ZM438.3 1243.5L439 1240.1L439.5 1236.7L439.7 1231.5L439.1 1224.7L436.5 1211L435.2 1202.4L434.4 1193.8L433.7 1183.6L433.1 1169.9L432.4 1140.8L430.7 1106.5L430.5 1094.5L430.5 1074L430.1 1074L430.1 1094.5L429.8 1106.5L428.2 1140.8L427.5 1169.9L426.9 1183.6L426.2 1193.8L425.3 1202.4L424.1 1211L421.5 1224.7L420.8 1231.5L421 1236.7L421.5 1240.1L422.3 1243.5ZM459.8 1243.5L460.4 1239.4L460.7 1235.4L460.8 1231.3L460.6 1227.2L459.9 1221.1L456.9 1202.8L455.5 1192.6L454.3 1180.3L453.6 1168.1L453.3 1153.9L453 1115.2L451.7 1072.4L451.6 1041.8L451.1 1041.8L451 1072.4L449.7 1115.2L449.4 1153.9L449.1 1168.1L448.4 1180.3L447.2 1192.6L445.8 1202.8L442.8 1221.1L442.1 1227.2L441.9 1231.3L442 1235.4L442.3 1239.4L442.9 1243.5ZM480.9 1243.5L481.7 1237.9L481.9 1234.1L481.7 1230.4L480.8 1224.8L477.7 1209.8L476.3 1202.3L475.2 1192.9L474.6 1183.5L474.3 1174.1L474 1144.1L472.6 1099.1L472.6 1057.9L472.2 1057.9L472.2 1099.1L470.9 1144.1L470.5 1174.1L470.3 1183.5L469.6 1192.9L468.5 1202.3L467.2 1209.8L464 1224.8L463.2 1230.4L463 1234.1L463.1 1237.9L464 1243.5ZM502.1 1243.5L502.7 1240.5L502.9 1237.6L502.9 1234.6L502.6 1231.7L501.7 1227.3L498.5 1215.5L497.1 1209.5L495.9 1202.2L495.2 1194.8L494.9 1181.5L494.8 1144.6L493.9 1115.1L493.7 1097.3L493.3 1097.3L493.1 1115.1L492.2 1144.6L492.1 1181.5L491.8 1194.8L491.1 1202.2L489.9 1209.5L488.5 1215.5L485.3 1227.3L484.4 1231.7L484.1 1234.6L484.1 1237.6L484.3 1240.5L484.9 1243.5ZM523.5 1243.5L524 1239.8L523.6 1236.1L522.8 1233.6L519.4 1224.9L518.2 1221.2L517.1 1216.2L516.4 1210L516.2 1203.8L515.9 1184L515.1 1164.1L514.8 1153L514.6 1140.6L514.8 1120.7L514.4 1120.7L514.5 1140.6L514.4 1153L514.1 1164.1L513.2 1184L513 1203.8L512.7 1210L512.1 1216.2L511 1221.2L509.8 1224.9L506.3 1233.6L505.6 1236.1L505.1 1239.8L505.6 1243.5ZM544.3 1243.5L545 1240L545.1 1237.6L544.7 1235.2L543.7 1231.7L540.9 1224.6L539.4 1219.9L538.3 1215.2L537.6 1209.3L537.4 1203.3L537.1 1184.4L536.2 1166.7L535.9 1156.1L535.7 1144.3L535.8 1126.6L535.5 1126.6L535.6 1144.3L535.5 1156.1L535.1 1166.7L534.2 1184.4L533.9 1203.3L533.7 1209.3L533 1215.2L531.9 1219.9L530.4 1224.6L527.6 1231.7L526.6 1235.2L526.2 1237.6L526.3 1240L527 1243.5ZM565.7 1243.5L566.2 1239.8L565.6 1236.1L564.3 1232.3L561.1 1224.9L559.8 1221.2L558.8 1216.2L558.3 1211.3L558 1203.8L557.9 1180.3L556.9 1148L556.9 1120.7L556.6 1120.7L556.6 1148L555.6 1180.3L555.4 1203.8L555.2 1211.3L554.7 1216.2L553.6 1221.2L552.4 1224.9L549.1 1232.3L547.8 1236.1L547.3 1239.8L547.7 1243.5ZM586.7 1243.5L587.2 1241.3L587.2 1240.3L586.8 1238.1L582.8 1229.5L582 1227.3L581.2 1224.1L580.7 1220.9L579.9 1211.2L578.3 1198.2L578 1191.8L577.8 1170.2L578 1136.8L577.6 1136.8L577.8 1170.2L577.6 1191.8L577.3 1198.2L575.7 1211.2L574.9 1220.9L574.4 1224.1L573.6 1227.3L572.8 1229.5L568.8 1238.1L568.3 1240.3L568.4 1241.3L568.9 1243.5ZM608.1 1243.5L608.3 1239.7L608.3 1235.9L608 1232.1L606.7 1224.5L603.3 1209.4L602.1 1201.8L601.2 1194.2L600.2 1179L599.3 1156.2L598.9 1118.3L598.9 924.8L599 867.9L598.7 867.9L598.9 924.8L598.8 1118.3L598.4 1156.2L597.5 1179L596.5 1194.2L595.7 1201.8L594.4 1209.4L591.1 1224.5L589.8 1232.1L589.5 1235.9L589.4 1239.7L589.7 1243.5ZM626.9 1243.5L628.1 1240.1L628.9 1236.7L629.3 1233.2L629.4 1229.8L628.8 1224.7L625.8 1209.3L624.3 1199L620.6 1156.2L620.3 1147.6L620 1118.5L620.2 1074L619.7 1074L619.9 1118.5L619.6 1147.6L619.3 1156.2L615.6 1199L614.1 1209.3L611.1 1224.7L610.5 1229.8L610.5 1233.2L611 1236.7L611.8 1240.1L613 1243.5ZM650 1243.5L650.4 1240.3L650.5 1237.1L649.9 1230.6L648.7 1224.2L645.7 1211.3L644.6 1204.9L643.8 1198.4L643 1185.6L641.5 1150.2L641.1 1121.2L641 979.6L641.2 924.9L640.9 924.9L641 979.6L640.9 1121.2L640.5 1150.2L639 1185.6L638.2 1198.4L637.5 1204.9L636.3 1211.3L633.3 1224.2L632.1 1230.6L631.6 1237.1L631.7 1240.3L632 1243.5ZM670.9 1243.5L671.5 1241L671.5 1239.8L671.1 1237.3L670 1234.8L666.2 1227.4L665.3 1224.9L664.7 1222.4L664.2 1218.7L662.7 1197.6L662.3 1188.9L662.1 1162.9L662.3 1120.7L661.9 1120.7L662.1 1162.9L661.9 1188.9L661.5 1197.6L660 1218.7L659.5 1222.4L658.9 1224.9L658 1227.4L654.2 1234.8L653.1 1237.3L652.6 1239.8L652.7 1241L653.3 1243.5ZM692.2 1243.5L692.6 1241.1L692.4 1238.7L691.6 1236.2L687.9 1229L686.4 1225.3L685.5 1221.7L684.9 1216.9L684.4 1199.9L683.4 1179.3L683.2 1151.5L683.3 1123.7L683 1123.7L683.2 1151.5L682.9 1179.3L681.9 1199.9L681.4 1216.9L680.9 1221.7L679.9 1225.3L678.4 1229L674.7 1236.2L673.9 1238.7L673.7 1241.1L674.2 1243.5ZM713.1 1243.5L713.7 1241.4L713.6 1240L713.3 1238.5L712.5 1236.4L709.3 1230.7L708 1227.9L706.8 1224.4L706.2 1220.8L705.8 1215.2L705.6 1198.9L704.6 1183.3L704.4 1173.3L704 1173.3L703.9 1183.3L702.9 1198.9L702.7 1215.2L702.3 1220.8L701.7 1224.4L700.5 1227.9L699.2 1230.7L696 1236.4L695.2 1238.5L694.8 1240L694.8 1241.4L695.4 1243.5ZM734.5 1243.5L734.8 1241.2L734.3 1239L733.3 1236.7L729.9 1231L728.2 1227.6L727.2 1224.2L726.8 1220.8L726.5 1216.2L726.3 1199.2L725.6 1178.7L725.3 1154.8L725.5 1131L725.2 1131L725.3 1154.8L725.1 1178.7L724.3 1199.2L724.1 1216.2L723.9 1220.8L723.4 1224.2L722.4 1227.6L720.8 1231L717.3 1236.7L716.3 1239L715.9 1241.2L716.1 1243.5ZM755.6 1243.5L755.8 1237.9L755.3 1232.2L754.2 1226.6L751.4 1215.3L749.6 1206.8L748.5 1198.4L747.9 1187.1L747.6 1150.5L746.6 1099.7L746.4 1032L746.5 964.4L746.2 964.4L746.4 1032L746.2 1099.7L745.2 1150.5L744.9 1187.1L744.2 1198.4L743.2 1206.8L741.4 1215.3L738.6 1226.6L737.5 1232.2L736.9 1237.9L737.2 1243.5ZM776.2 1243.5L776.7 1240.8L776.9 1238L776.6 1232.5L775.9 1228.4L773.2 1216L772.2 1210.5L771.3 1202.3L770.4 1191.3L769.8 1177.6L769.4 1147.4L768.2 1122.7L767.8 1107.6L767.1 1107.6L766.7 1122.7L765.5 1147.4L765.1 1177.6L764.5 1191.3L763.7 1202.3L762.7 1210.5L761.7 1216L759 1228.4L758.3 1232.5L758 1238L758.3 1240.8L758.7 1243.5ZM796.1 1243.5L797 1240.2L797.6 1236.9L797.9 1233.7L797.9 1228.8L795.5 1205.8L792.7 1166.5L790.2 1145.2L789.3 1135.3L788.9 1125.5L788.7 1112.4L788.8 1081.3L788.3 1081.3L788.4 1112.4L788.2 1125.5L787.7 1135.3L786.9 1145.2L784.4 1166.5L781.6 1205.8L779.2 1228.8L779.1 1233.7L779.5 1236.9L780.1 1240.2L781 1243.5ZM817.6 1243.5L818.6 1238L819 1234.3L819.1 1230.6L818.9 1226.9L817.8 1219.5L814.2 1202.9L812.9 1195.5L812 1188.1L811.4 1178.9L811 1164.2L810.9 1121.7L810 1084.8L809.8 1060.8L809.4 1060.8L809.2 1084.8L808.3 1121.7L808.2 1164.2L807.9 1178.9L807.2 1188.1L806.3 1195.5L805 1202.9L801.4 1219.5L800.4 1226.9L800.2 1230.6L800.2 1234.3L800.6 1238L801.6 1243.5ZM838.6 1243.5L839.5 1241.2L840 1238.9L840.1 1236.6L840 1234.3L837.8 1220.5L835.6 1209L833.9 1197.4L832.2 1188.2L831.3 1180.2L830.7 1156L830.9 1129.5L830.4 1129.5L830.7 1156L830.1 1180.2L829.2 1188.2L827.5 1197.4L825.7 1209L823.6 1220.5L821.4 1234.3L821.2 1236.6L821.4 1238.9L821.9 1241.2L822.8 1243.5ZM860.2 1243.5L860.8 1241.6L861.2 1239.8L861 1237L860.1 1234.2L856.4 1226.8L855.2 1224L854.1 1220.2L853.5 1215.6L853.2 1210L853 1191.4L851.9 1169.1L851.9 1151.4L851.6 1151.4L851.6 1169.1L850.5 1191.4L850.3 1210L850.1 1215.6L849.4 1220.2L848.3 1224L847.1 1226.8L843.4 1234.2L842.5 1237L842.3 1239.8L842.7 1241.6L843.4 1243.5ZM881.8 1243.5L882.3 1239.9L881.9 1236.3L880.7 1232.7L877.8 1225.6L876.6 1222L875.5 1217.2L874.7 1211.2L874.4 1204L874.1 1182.5L873 1153.8L873 1125.1L872.7 1125.1L872.7 1153.8L871.5 1182.5L871.3 1204L871 1211.2L870.2 1217.2L869.1 1222L867.8 1225.6L864.9 1232.7L863.8 1236.3L863.4 1239.9L863.9 1243.5ZM903.1 1243.5L903.4 1240.8L903 1238.1L902 1235.4L898.7 1228.7L897 1224.7L896.1 1220.7L895.6 1216.6L895.1 1196.5L894.2 1173.6L893.9 1142.7L894.1 1110.5L893.8 1110.5L893.9 1142.7L893.7 1173.6L892.7 1196.5L892.2 1216.6L891.8 1220.7L890.8 1224.7L889.2 1228.7L885.8 1235.4L884.9 1238.1L884.5 1240.8L884.8 1243.5ZM924.2 1243.5L924.4 1241L923.9 1238.4L922.8 1235.9L919.3 1229.5L918.2 1227L917.1 1223.2L916.4 1218.1L916 1196.5L915.2 1172.4L915 1145.7L915.1 1117.8L914.8 1117.8L915 1145.7L914.8 1172.4L913.9 1196.5L913.6 1218.1L912.9 1223.2L911.8 1227L910.6 1229.5L907.1 1235.9L906.1 1238.4L905.5 1241L905.7 1243.5ZM945.2 1243.5L945.5 1241.7L945.1 1238.9L944.3 1237.1L940.8 1231.6L939.4 1228.9L938.1 1225.2L937.5 1221.5L937.3 1216L937.2 1199.6L936.2 1174.9L936.2 1152.9L935.9 1152.9L935.9 1174.9L935 1199.6L934.8 1216L934.6 1221.5L934 1225.2L932.7 1228.9L931.3 1231.6L927.9 1237.1L927 1238.9L926.6 1241.7L926.9 1243.5ZM966.2 1243.5L966.6 1240L966.2 1236.6L965.1 1233.1L961.7 1225.1L960.5 1221.6L959.3 1217L958.6 1211.3L958.3 1202L958.2 1168.7L957.4 1145.6L957.3 1129.5L957 1129.5L956.8 1145.6L956.1 1168.7L956 1202L955.7 1211.3L954.9 1217L953.8 1221.6L952.5 1225.1L949.1 1233.1L948.1 1236.6L947.7 1240L948.1 1243.5Z" fill="#add8e6" stroke="#000" stroke-width="1.3" stroke-linejoin="round"/>
<path d="M135.2 1237.7V1120.7M130.7 1237.7h9M130.7 1120.7h9M156.3 1240.6V1136.8M151.8 1240.6h9M151.8 1136.8h9M177.4 1243.5V1176.3M172.9 1243.5h9M172.9 1176.3h9M198.5 1243.5V1223M194 1243.5h9M194 1223h9M219.5 1243.5V1242.9M215 1243.5h9M215 1242.9h9M240.6 1243.5V1242.9M236.1 1243.5h9M236.1 1242.9h9M261.7 1243.5V1242.9M257.2 1243.5h9M257.2 1242.9h9M282.8 1243.5V1242.9M278.3 1243.5h9M278.3 1242.9h9M303.8 1243.5V1242.9M299.3 1243.5h9M299.3 1242.9h9M324.9 1243.5V1242.9M320.4 1243.5h9M320.4 1242.9h9M346 1243.5V1242.9M341.5 1243.5h9M341.5 1242.9h9M367.1 1243.5V1226M362.6 1243.5h9M362.6 1226h9M388.1 1243.5V1138.3M383.6 1243.5h9M383.6 1138.3h9M409.2 1243.5V1000.9M404.7 1243.5h9M404.7 1000.9h9M430.3 1243.5V1074M425.8 1243.5h9M425.8 1074h9M451.4 1243.5V1041.8M446.9 1243.5h9M446.9 1041.8h9M472.4 1243.5V1057.9M467.9 1243.5h9M467.9 1057.9h9M493.5 1243.5V1097.3M489 1243.5h9M489 1097.3h9M514.6 1243.5V1120.7M510.1 1243.5h9M510.1 1120.7h9M535.7 1243.5V1126.6M531.2 1243.5h9M531.2 1126.6h9M556.7 1243.5V1120.7M552.2 1243.5h9M552.2 1120.7h9M577.8 1243.5V1136.8M573.3 1243.5h9M573.3 1136.8h9M598.9 1243.5V867.9M594.4 1243.5h9M594.4 867.9h9M619.9 1243.5V1074M615.4 1243.5h9M615.4 1074h9M641 1243.5V924.9M636.5 1243.5h9M636.5 924.9h9M662.1 1243.5V1120.7M657.6 1243.5h9M657.6 1120.7h9M683.2 1243.5V1123.7M678.7 1243.5h9M678.7 1123.7h9M704.2 1243.5V1173.3M699.7 1243.5h9M699.7 1173.3h9M725.3 1243.5V1131M720.8 1243.5h9M720.8 1131h9M746.4 1243.5V964.4M741.9 1243.5h9M741.9 964.4h9M767.5 1243.5V1107.6M763 1243.5h9M763 1107.6h9M788.5 1243.5V1081.3M784 1243.5h9M784 1081.3h9M809.6 1243.5V1060.8M805.1 1243.5h9M805.1 1060.8h9M830.7 1243.5V1129.5M826.2 1243.5h9M826.2 1129.5h9M851.8 1243.5V1151.4M847.3 1243.5h9M847.3 1151.4h9M872.8 1243.5V1125.1M868.3 1243.5h9M868.3 1125.1h9M893.9 1243.5V1110.5M889.4 1243.5h9M889.4 1110.5h9M915 1243.5V1117.8M910.5 1243.5h9M910.5 1117.8h9M936.1 1243.5V1152.9M931.6 1243.5h9M931.6 1152.9h9M957.1 1243.5V1129.5M952.6 1243.5h9M952.6 1129.5h9" stroke="#1f77b4" stroke-width="2.1"/>
<path d="M134.7 1227.4V1192.3M155.8 1224.5V1198.2M176.9 1226V1205.5M198 1243.2V1240M366.6 1243.5V1242.6M387.6 1242.9V1237.7M408.7 1242V1215.7M429.8 1237.7V1188M450.9 1240.6V1190.9M471.9 1240.6V1204M493 1242V1215.7M514.1 1242.9V1224.5M535.2 1242.6V1223M556.2 1242.9V1228.9M577.3 1242.9V1227.4M598.4 1242.9V1231.8M619.4 1236.2V1204M640.5 1242.6V1223M661.6 1242.9V1231.8M682.7 1243.2V1231.8M703.7 1242.9V1228.9M724.8 1243.2V1237.7M745.9 1243.2V1226M767 1242V1196.7M788 1236.2V1186.5M809.1 1239.1V1207M830.2 1240.6V1214.3M851.3 1242.3V1228.9M872.3 1242.9V1224.5M893.4 1243.2V1233.3M914.5 1243.2V1237.7M935.6 1243.2V1234.7M956.6 1242.9V1230.3" stroke="#000" stroke-width="8.3"/>
<path d="M135.2 1234.7V1158.7M156.3 1234.7V1150M177.4 1237.7V1188M198.5 1243.5V1234.7M219.5 1243.5V1243.2M240.6 1243.5V1243.2M261.7 1243.5V1243.2M282.8 1243.5V1243.2M303.8 1243.5V1243.2M324.9 1243.5V1243.2M346 1243.5V1243.2M367.1 1243.5V1240M388.1 1243.5V1183.6M409.2 1243.5V1163.1M430.3 1242.9V1133.9M451.4 1243.5V1107.6M472.4 1243.5V1135.3M493.5 1243.5V1138.3M514.6 1243.5V1177.7M535.7 1243.5V1179.2M556.7 1243.5V1174.8M577.8 1243.5V1207M598.9 1243.5V1180.7M619.9 1242.6V1171.9M641 1243.5V1170.4M662.1 1243.5V1205.5M683.2 1243.5V1195.3M704.2 1243.5V1195.3M725.3 1243.5V1195.3M746.4 1243.5V1138.3M767.5 1243.5V1141.2M788.5 1242.6V1155.8M809.6 1242.9V1113.4M830.7 1243.2V1193.8M851.8 1243.5V1188M872.8 1243.5V1177.7M893.9 1243.5V1190.9M915 1243.5V1190.9M936.1 1243.5V1195.3M957.1 1243.5V1164.6" stroke="#f00" stroke-width="2.8"/>
<path d="M127.7 1208.4h13M148.8 1217.2h13M169.9 1218.7h13M191 1242h13M212 1243.4h13M233.1 1243.4h13M254.2 1243.4h13M275.3 1243.4h13M296.3 1243.4h13M317.4 1243.4h13M338.5 1243.4h13M359.6 1243.2h13M380.6 1240.6h13M401.7 1237.1h13M422.8 1225.1h13M443.9 1226h13M464.9 1230.9h13M486 1234.7h13M507.1 1240h13M528.2 1237.1h13M549.2 1240.6h13M570.3 1240.6h13M591.4 1240h13M612.4 1224.5h13M633.5 1239.1h13M654.6 1240h13M675.7 1241.2h13M696.7 1240.6h13M717.8 1242h13M738.9 1241.2h13M760 1231.8h13M781 1214.3h13M802.1 1226.8h13M823.2 1227.4h13M844.3 1237.7h13M865.3 1240h13M886.4 1242h13M907.5 1242h13M928.6 1242h13M949.6 1240.6h13" stroke="#f00" stroke-width="4"/>
</g>
<path d="M114.5 1243.5v4.9M156.5 1243.5v4.9M198.5 1243.5v4.9M240.5 1243.5v4.9M282.5 1243.5v4.9M324.5 1243.5v4.9M367.5 1243.5v4.9M409.5 1243.5v4.9M451.5 1243.5v4.9M493.5 1243.5v4.9M535.5 1243.5v4.9M577.5 1243.5v4.9M619.5 1243.5v4.9M662.5 1243.5v4.9M704.5 1243.5v4.9M746.5 1243.5v4.9M788.5 1243.5v4.9M830.5 1243.5v4.9M872.5 1243.5v4.9M914.5 1243.5v4.9M957.5 1243.5v4.9M114.5 1243.5h-4.9M114.5 1185.5h-4.9M114.5 1126.5h-4.9M114.5 1068.5h-4.9M114.5 1009.5h-4.9M114.5 951.5h-4.9M114.5 892.5h-4.9M114.5 834.5h-4.9M114.5 775.5h-4.9" stroke="#000" stroke-width="1.1" fill="none"/>
<rect x="114.5" y="746.5" width="853" height="497" fill="none" stroke="#000" stroke-width="1.1"/>
<g font-size="19.44">
<text x="113.4" y="1270" text-anchor="middle">00z</text>
<text x="113.4" y="1292.1" text-anchor="middle">26-Feb</text>
<text x="197.7" y="1270" text-anchor="middle">00z</text>
<text x="197.7" y="1292.1" text-anchor="middle">27-Feb</text>
<text x="282" y="1270" text-anchor="middle">00z</text>
<text x="282" y="1292.1" text-anchor="middle">28-Feb</text>
<text x="366.3" y="1270" text-anchor="middle">00z</text>
<text x="366.3" y="1292.1" text-anchor="middle">01-Mar</text>
<text x="450.6" y="1270" text-anchor="middle">00z</text>
<text x="450.6" y="1292.1" text-anchor="middle">02-Mar</text>
<text x="534.9" y="1270" text-anchor="middle">00z</text>
<text x="534.9" y="1292.1" text-anchor="middle">03-Mar</text>
<text x="619.1" y="1270" text-anchor="middle">00z</text>
<text x="619.1" y="1292.1" text-anchor="middle">04-Mar</text>
<text x="703.4" y="1270" text-anchor="middle">00z</text>
<text x="703.4" y="1292.1" text-anchor="middle">05-Mar</text>
<text x="787.7" y="1270" text-anchor="middle">00z</text>
<text x="787.7" y="1292.1" text-anchor="middle">06-Mar</text>
<text x="872" y="1270" text-anchor="middle">00z</text>
<text x="872" y="1292.1" text-anchor="middle">07-Mar</text>
<text x="956.3" y="1270" text-anchor="middle">00z</text>
<text x="956.3" y="1292.1" text-anchor="middle">08-Mar</text>
<text x="101.2" y="1251.1" text-anchor="end">0.0</text>
<text x="101.2" y="1192.6" text-anchor="end">0.2</text>
<text x="101.2" y="1134.2" text-anchor="end">0.4</text>
<text x="101.2" y="1075.7" text-anchor="end">0.6</text>
<text x="101.2" y="1017.3" text-anchor="end">0.8</text>
<text x="101.2" y="958.8" text-anchor="end">1.0</text>
<text x="101.2" y="900.3" text-anchor="end">1.2</text>
<text x="101.2" y="841.9" text-anchor="end">1.4</text>
<text x="101.2" y="783.4" text-anchor="end">1.6</text>
</g>
<text x="541" y="738.2" font-size="27.78" text-anchor="middle">6-Hourly Precipitation</text>
<text x="541" y="1320.9" font-size="25" text-anchor="middle">Day/Hour</text>
<text x="58.8" y="995" font-size="25" text-anchor="middle" transform="rotate(-90 58.8 995)">6-h Precip (inches)</text>
<g transform="translate(0 0)">
<rect x="117.5" y="750.5" width="442" height="75" fill="#fff" fill-opacity="0.8" stroke="#000" stroke-opacity="0.8" stroke-width="1.1"/>
<path d="M130.8 771.8H169.7" stroke="#f00" stroke-width="4.2"/>
<path d="M151 791.2V809.8" stroke="#000" stroke-width="8.2"/>
<path d="M315.4 758.6V786.4" stroke="#f00" stroke-width="2.8"/>
<path d="M292.4 800.5H338.3" stroke="#add8e6" stroke-width="6.9"/>
<g font-size="19.44">
<text x="185.2" y="778.7">Median</text>
<text x="185.2" y="807.4">IQR</text>
<text x="350.3" y="778.7">5th/95th Percentiles</text>
<text x="350.3" y="807.4">Density</text>
</g></g>
<g transform="translate(0 626)">
<path d="M897.8 128.1L917 128.1L917 139.4L913 139.4L913 153.9L924.2 153.9L924.2 139.4L920.3 139.4L920.3 128.1L939.6 128.1L939.6 139.4L935.8 139.4L935.8 157.7L928 165.8L909.2 165.8L901.6 157.7L901.6 139.4L897.8 139.4Z" fill="#cc0000"/>
<circle cx="933.5" cy="164.3" r="0.9" fill="none" stroke="#cc0000" stroke-width="0.4"/>
<text transform="translate(875.1 165.8) scale(0.82 1)" font-size="11.2" textLength="26.1" lengthAdjust="spacing" font-family="'Liberation Serif','DejaVu Serif',serif" fill="#1a1a1a">THE</text>
<text transform="translate(856.8 182.3) scale(0.82 1)" font-size="16.9" textLength="125.4" lengthAdjust="spacing" font-family="'Liberation Serif','DejaVu Serif',serif" fill="#1a1a1a">UNIVERSITY</text>
<text transform="translate(876.2 195.4) scale(0.82 1)" font-size="10.4" textLength="16.8" lengthAdjust="spacing" font-family="'Liberation Serif','DejaVu Serif',serif" fill="#1a1a1a">OF</text>
<text transform="translate(895.2 198.8) scale(0.82 1)" font-size="16.2" textLength="55.1" lengthAdjust="spacing" font-family="'Liberation Serif','DejaVu Serif',serif" fill="#1a1a1a">UTAH</text>
</g>
<clipPath id="c11"><rect x="1086.5" y="746.5" width="854" height="497"/></clipPath>
<path d="M1086.5 746.5V1243.5M1128.5 746.5V1243.5M1170.5 746.5V1243.5M1212.5 746.5V1243.5M1255.5 746.5V1243.5M1297.5 746.5V1243.5M1339.5 746.5V1243.5M1381.5 746.5V1243.5M1423.5 746.5V1243.5M1465.5 746.5V1243.5M1507.5 746.5V1243.5M1550.5 746.5V1243.5M1592.5 746.5V1243.5M1634.5 746.5V1243.5M1676.5 746.5V1243.5M1718.5 746.5V1243.5M1760.5 746.5V1243.5M1803.5 746.5V1243.5M1845.5 746.5V1243.5M1887.5 746.5V1243.5M1929.5 746.5V1243.5M1086.5 1243.5H1940.5M1086.5 1143.5H1940.5M1086.5 1042.5H1940.5M1086.5 942.5H1940.5M1086.5 842.5H1940.5" stroke="#b0b0b0" stroke-opacity="0.8" stroke-width="1.05" fill="none"/>
<g clip-path="url(#c11)" fill="none">
<path d="M1112.9 1240.5L1115.3 1236.7L1116.3 1234.5L1116.7 1233L1117 1229.3L1116.6 1221L1116.3 1218L1115.7 1215L1112.4 1206L1111.4 1201.5L1110.4 1191L1108.3 1177.5L1108 1173.1L1107.9 1166.3L1107.3 1166.3L1107.2 1173.1L1106.9 1177.5L1104.7 1191L1103.7 1201.5L1102.7 1206L1099.5 1215L1098.8 1218L1098.5 1221L1098.1 1229.3L1098.5 1233L1098.9 1234.5L1099.9 1236.7L1102.3 1240.5ZM1132.2 1242.5L1135.6 1237.1L1137 1234.4L1137.9 1231.6L1138.1 1228.9L1137.8 1226.9L1137.3 1224.9L1133 1213.3L1131.6 1207.2L1131.1 1201.8L1130.7 1187.5L1129.3 1175.3L1128 1175.3L1126.6 1187.5L1126.2 1201.8L1125.7 1207.2L1124.3 1213.3L1120 1224.9L1119.5 1226.9L1119.2 1228.9L1119.4 1231.6L1120.3 1234.4L1121.7 1237.1L1125.1 1242.5ZM1151.2 1243.5L1152.7 1240.1L1158.1 1229.9L1158.9 1227.6L1159.2 1225.4L1159 1223.7L1158.5 1222L1155.4 1214L1154.2 1210L1153.6 1207.2L1152.7 1199.3L1150.9 1191.3L1150.3 1187.4L1149.2 1187.4L1148.6 1191.3L1146.7 1199.3L1145.8 1207.2L1145.3 1210L1144.1 1214L1140.9 1222L1140.5 1223.7L1140.3 1225.4L1140.5 1227.6L1141.3 1229.9L1146.7 1240.1L1148.2 1243.5ZM1179 1243.5L1180.1 1243L1180.2 1242.9L1180.1 1242.6L1175.4 1240.9L1173.9 1240.2L1173.3 1239.6L1172.6 1238L1171.3 1236.2L1171.1 1235.3L1170.8 1232.6L1171 1228.5L1170.6 1228.5L1170.8 1232.6L1170.5 1235.3L1170.2 1236.2L1169 1238L1168.3 1239.6L1167.7 1240.2L1166.2 1240.9L1161.5 1242.6L1161.3 1242.9L1161.5 1243L1162.6 1243.5ZM1348.4 1243.5L1348.8 1243.3L1348.2 1243L1343.8 1242.3L1341.9 1241.8L1340.9 1241.2L1339.9 1240.3L1339.5 1239.1L1339.4 1233.4L1339.5 1231.5L1339.2 1231.5L1339.4 1233.4L1339.3 1239.1L1338.9 1240.3L1337.9 1241.2L1336.8 1241.8L1335 1242.3L1330.5 1243L1329.9 1243.3L1330.4 1243.5ZM1369.8 1243.5L1369.9 1242L1369.2 1239.8L1368.3 1238.3L1364.8 1233.8L1363.3 1231.5L1362.4 1229.3L1361.7 1226.3L1361.4 1221L1361.4 1201.5L1360.6 1182.8L1360.6 1169.3L1360.3 1169.3L1360.3 1182.8L1359.6 1201.5L1359.5 1221L1359.2 1226.3L1358.5 1229.3L1357.6 1231.5L1356.2 1233.8L1352.6 1238.3L1351.7 1239.8L1351 1242L1351.1 1243.5ZM1390.4 1243.5L1391 1239.9L1390.8 1236.3L1389.9 1232.7L1386.7 1223.7L1385.2 1218.3L1384.2 1212.9L1383.6 1205.6L1383.1 1191.2L1382 1171.4L1381.8 1162.4L1381.5 1113.7L1381.7 1065.1L1381.4 1065.1L1381.5 1113.7L1381.3 1162.4L1381.1 1171.4L1380 1191.2L1379.5 1205.6L1378.9 1212.9L1377.9 1218.3L1376.3 1223.7L1373.1 1232.7L1372.3 1236.3L1372.1 1239.9L1372.6 1243.5ZM1410.7 1243.5L1411.5 1240.7L1412 1237.8L1412 1233.6L1411.3 1229.3L1408.5 1218L1407.5 1212.3L1406.4 1203.8L1405.6 1193.9L1404.7 1169.8L1403.4 1149.9L1403 1140L1402.7 1125.8L1402.8 1103.1L1402.4 1103.1L1402.5 1125.8L1402.2 1140L1401.8 1149.9L1400.5 1169.8L1399.6 1193.9L1398.8 1203.8L1397.8 1212.3L1396.7 1218L1393.9 1229.3L1393.2 1233.6L1393.3 1237.8L1393.7 1240.7L1394.5 1243.5ZM1432.2 1243.5L1432.8 1240.4L1433.1 1237.2L1433.1 1234.1L1432.9 1230.9L1432.2 1226.2L1429.2 1212.1L1427.8 1204.3L1426.8 1196.4L1426 1187L1425.6 1176L1425.3 1144.6L1424 1110.1L1423.9 1088.1L1423.5 1088.1L1423.3 1110.1L1422.1 1144.6L1421.7 1176L1421.4 1187L1420.6 1196.4L1419.6 1204.3L1418.2 1212.1L1415.2 1226.2L1414.5 1230.9L1414.3 1234.1L1414.3 1237.2L1414.6 1240.4L1415.2 1243.5ZM1453.4 1243.5L1454.1 1238.9L1454.2 1235.8L1453.9 1232.7L1452.9 1228.1L1449.9 1217.3L1448.5 1211.2L1447.4 1203.5L1446.7 1195.8L1446.5 1186.5L1446.2 1160.4L1445 1123.4L1444.9 1091.1L1444.6 1091.1L1444.5 1123.4L1443.3 1160.4L1443.1 1186.5L1442.8 1195.8L1442.2 1203.5L1441 1211.2L1439.6 1217.3L1436.6 1228.1L1435.6 1232.7L1435.3 1235.8L1435.4 1238.9L1436.1 1243.5ZM1474.6 1243.5L1475.2 1239.6L1475.3 1237L1475 1234.4L1474 1230.5L1470.5 1220.2L1469.1 1215L1468.1 1209.8L1467.5 1203.3L1467.1 1192.9L1467 1160.5L1466.2 1133.3L1466 1115.2L1465.6 1115.2L1465.5 1133.3L1464.6 1160.5L1464.5 1192.9L1464.2 1203.3L1463.6 1209.8L1462.6 1215L1461.1 1220.2L1457.6 1230.5L1456.7 1234.4L1456.4 1237L1456.4 1239.6L1457.1 1243.5ZM1495.9 1243.5L1496.4 1240.6L1495.9 1237.7L1494.8 1234.8L1491.7 1229.1L1490.1 1225.2L1489.1 1221.4L1488.5 1217.5L1488.2 1210.8L1488.1 1189.6L1487.1 1166.5L1487.1 1148.3L1486.7 1148.3L1486.7 1166.5L1485.8 1189.6L1485.6 1210.8L1485.3 1217.5L1484.7 1221.4L1483.7 1225.2L1482.1 1229.1L1479.1 1234.8L1477.9 1237.7L1477.5 1240.6L1477.9 1243.5ZM1516.8 1243.5L1517.4 1240.9L1517.2 1238.3L1516.3 1235.7L1513.3 1229.6L1511.9 1226.1L1510.7 1221.7L1510.1 1217.4L1509.7 1212.1L1509.5 1197.3L1508.2 1176.4L1508.2 1157.3L1507.8 1157.3L1507.8 1176.4L1506.5 1197.3L1506.2 1212.1L1505.9 1217.4L1505.2 1221.7L1504 1226.1L1502.6 1229.6L1499.7 1235.7L1498.8 1238.3L1498.6 1240.9L1499.2 1243.5ZM1538.1 1243.5L1538.5 1241.4L1538.5 1240.3L1538.1 1238.2L1537.3 1236.1L1533.8 1229.7L1532.3 1226.5L1531.1 1222.2L1530.5 1218L1530.3 1212.7L1530.2 1194.6L1529.5 1177.6L1529.2 1165.9L1529.2 1138.2L1528.9 1138.2L1528.9 1165.9L1528.7 1177.6L1527.9 1194.6L1527.8 1212.7L1527.6 1218L1527 1222.2L1525.8 1226.5L1524.4 1229.7L1520.9 1236.1L1520 1238.2L1519.6 1240.3L1519.6 1241.4L1520 1243.5ZM1559.1 1243.5L1559.6 1241.6L1559.3 1239.6L1558.5 1237.7L1555.2 1231.8L1554.4 1229.9L1553.6 1227L1550.6 1206.6L1550.3 1200.7L1550.1 1180.3L1550.3 1147.3L1550 1147.3L1550.1 1180.3L1549.9 1200.7L1549.6 1206.6L1546.7 1227L1545.9 1229.9L1545.1 1231.8L1541.8 1237.7L1540.9 1239.6L1540.7 1241.6L1541.2 1243.5ZM1580.4 1243.5L1580.7 1239.7L1580.6 1235.9L1580.2 1232.1L1578.9 1224.6L1575.5 1209.4L1573.8 1198.1L1572.5 1182.9L1571.6 1160.2L1571.3 1122.3L1571.3 868.6L1571.1 868.6L1571.2 1122.3L1570.8 1160.2L1569.9 1182.9L1568.6 1198.1L1566.9 1209.4L1563.5 1224.6L1562.2 1232.1L1561.8 1235.9L1561.8 1239.7L1562 1243.5ZM1599.5 1243.5L1600.6 1240.3L1601.4 1237.1L1601.7 1234L1601.6 1230.8L1600.8 1226L1597.4 1211.7L1596.1 1203.8L1594.5 1183.1L1593.3 1170.4L1592.8 1162.4L1592.3 1125.9L1592.5 1086.1L1592.1 1086.1L1592.3 1125.9L1591.8 1162.4L1591.3 1170.4L1590.1 1183.1L1588.4 1203.8L1587.2 1211.7L1583.8 1226L1583 1230.8L1582.8 1234L1583.1 1237.1L1583.9 1240.3L1585.1 1243.5ZM1622.4 1243.5L1622.8 1238.4L1622.3 1233.2L1621.1 1228.1L1617.5 1215.2L1616.3 1207.5L1615.4 1197.2L1613.8 1163.8L1613.5 1140.6L1613.4 1032.6L1613.5 988.9L1613.2 988.9L1613.4 1032.6L1613.2 1140.6L1612.9 1163.8L1611.3 1197.2L1610.4 1207.5L1609.2 1215.2L1605.6 1228.1L1604.4 1233.2L1603.9 1238.4L1604.3 1243.5ZM1643.2 1243.5L1643.9 1241.3L1643.9 1240.2L1643.4 1238.1L1642.3 1235.9L1638.7 1229.4L1637.8 1227.2L1637.3 1225.1L1636.7 1221.8L1634.9 1203.4L1634.6 1196.9L1634.4 1173.1L1634.6 1136.2L1634.3 1136.2L1634.4 1173.1L1634.2 1196.9L1633.9 1203.4L1632.1 1221.8L1631.6 1225.1L1631 1227.2L1630.2 1229.4L1626.5 1235.9L1625.5 1238.1L1625 1240.2L1625 1241.3L1625.6 1243.5ZM1664.6 1243.5L1665 1241.4L1664.7 1239.2L1663.8 1237.1L1659.9 1230.6L1658.9 1228.5L1657.7 1225.3L1657.1 1221L1656.6 1202.7L1655.8 1183.4L1655.5 1160.8L1655.7 1137.2L1655.3 1137.2L1655.5 1160.8L1655.2 1183.4L1654.4 1202.7L1653.9 1221L1653.3 1225.3L1652.1 1228.5L1651.1 1230.6L1647.2 1237.1L1646.3 1239.2L1646 1241.4L1646.4 1243.5ZM1685.5 1243.5L1686 1241.8L1686 1240.7L1685.6 1239.5L1684.6 1237.8L1681.7 1233.9L1680.3 1231.6L1679.1 1228.8L1678.5 1225.9L1678.1 1221.4L1677.9 1207.2L1676.9 1195.3L1676.8 1187.4L1676.4 1187.4L1676.3 1195.3L1675.3 1207.2L1675.1 1221.4L1674.7 1225.9L1674 1228.8L1672.8 1231.6L1671.4 1233.9L1668.5 1237.8L1667.5 1239.5L1667.2 1240.7L1667.1 1241.8L1667.6 1243.5ZM1706.9 1243.5L1707.1 1241.5L1706.6 1239.4L1705.5 1237.4L1702 1232.2L1700.9 1230.2L1699.7 1227.1L1699.1 1223L1698.7 1205.7L1697.9 1187.2L1697.7 1164.7L1697.8 1142.2L1697.5 1142.2L1697.6 1164.7L1697.4 1187.2L1696.6 1205.7L1696.2 1223L1695.6 1227.1L1694.4 1230.2L1693.3 1232.2L1689.8 1237.4L1688.7 1239.4L1688.2 1241.5L1688.4 1243.5ZM1728 1243.5L1728.2 1238.5L1727.6 1233.5L1726.5 1228.4L1723 1215.9L1721.9 1210.9L1720.8 1203.3L1720.2 1193.3L1719.8 1155.6L1719 1112.9L1718.7 1055.2L1718.9 994.9L1718.6 994.9L1718.7 1055.2L1718.5 1112.9L1717.6 1155.6L1717.3 1193.3L1716.6 1203.3L1715.5 1210.9L1714.4 1215.9L1710.9 1228.4L1709.8 1233.5L1709.3 1238.5L1709.5 1243.5ZM1748.7 1243.5L1749.2 1239.2L1749.2 1236.4L1749 1233.6L1748.3 1229.3L1745.7 1218L1744.4 1210.9L1743.4 1202.4L1742.7 1192.5L1742.1 1178.3L1741.7 1148.5L1740.4 1120.2L1740.1 1103.1L1739.5 1103.1L1739.2 1120.2L1737.9 1148.5L1737.5 1178.3L1736.9 1192.5L1736.2 1202.4L1735.2 1210.9L1733.9 1218L1731.3 1229.3L1730.6 1233.6L1730.4 1236.4L1730.4 1239.2L1730.9 1243.5ZM1768.6 1243.5L1769.5 1240.1L1770 1236.7L1770.3 1233.4L1770.3 1230L1769.8 1223.2L1765.4 1180.9L1763.9 1160.6L1761.7 1135.3L1761.3 1125.1L1761 1109.9L1761.1 1076.1L1760.6 1076.1L1760.8 1109.9L1760.4 1125.1L1760 1135.3L1757.8 1160.6L1756.4 1180.9L1752 1223.2L1751.4 1230L1751.5 1233.4L1751.7 1236.7L1752.3 1240.1L1753.1 1243.5ZM1790 1243.5L1790.9 1238.7L1791.4 1234L1791.4 1230.8L1791.1 1226L1790.1 1219.7L1786.7 1203.8L1785.5 1197.4L1784.4 1189.4L1783.7 1179.9L1783.3 1162.4L1783.3 1111.5L1782.6 1086.1L1781.3 1086.1L1780.6 1111.5L1780.6 1162.4L1780.2 1179.9L1779.5 1189.4L1778.4 1197.4L1777.2 1203.8L1773.8 1219.7L1772.8 1226L1772.5 1230.8L1772.5 1234L1773 1238.7L1773.8 1243.5ZM1810.9 1243.5L1811.7 1241.3L1812.3 1239L1812.5 1236.8L1812.4 1234.5L1811.8 1231.1L1808.9 1218.8L1807.3 1209.8L1806.6 1204.2L1805.6 1191.8L1803.7 1174.9L1803.1 1155.8L1803.2 1132.2L1802.8 1132.2L1802.9 1155.8L1802.3 1174.9L1800.5 1191.8L1799.5 1204.2L1798.8 1209.8L1797.2 1218.8L1794.3 1231.1L1793.7 1234.5L1793.6 1236.8L1793.8 1239L1794.3 1241.3L1795.2 1243.5ZM1832.7 1243.5L1833.3 1241.8L1833.5 1240.1L1833.5 1238.5L1833.1 1236.8L1832.2 1234.3L1829.2 1228.4L1827.7 1225L1826.5 1220.8L1825.8 1216.6L1825.5 1210.7L1825.4 1191.4L1824.4 1172.9L1824.3 1160.3L1823.9 1160.3L1823.8 1172.9L1822.8 1191.4L1822.7 1210.7L1822.4 1216.6L1821.7 1220.8L1820.5 1225L1819 1228.4L1816 1234.3L1815.1 1236.8L1814.7 1238.5L1814.7 1240.1L1814.9 1241.8L1815.5 1243.5ZM1854.2 1243.5L1854.6 1239.9L1854.1 1236.3L1853 1232.7L1850 1225.4L1848.8 1221.8L1847.7 1217L1846.9 1211L1846.6 1203.7L1846.4 1180.8L1845.3 1150.7L1845.3 1124.2L1845 1124.2L1845 1150.7L1843.9 1180.8L1843.7 1203.7L1843.4 1211L1842.7 1217L1841.5 1221.8L1840.3 1225.4L1837.4 1232.7L1836.2 1236.3L1835.7 1239.9L1836.2 1243.5ZM1875.5 1243.5L1875.7 1240.6L1875.2 1237.7L1874.1 1234.8L1870.6 1227.6L1869.5 1224.7L1868.5 1220.3L1867.9 1214.5L1867.5 1197.2L1866.5 1172.5L1866.2 1136.3L1866.4 1100.1L1866.1 1100.1L1866.2 1136.3L1866 1172.5L1865 1197.2L1864.6 1214.5L1864 1220.3L1863 1224.7L1861.9 1227.6L1858.4 1234.8L1857.3 1237.7L1856.8 1240.6L1857 1243.5ZM1896.6 1243.5L1896.7 1240.7L1896.1 1237.9L1894.9 1235.1L1891.4 1228.1L1890.3 1225.3L1889.3 1221.1L1888.8 1216.9L1888.3 1193.2L1887.5 1169.4L1887.3 1137.3L1887.5 1105.2L1887.2 1105.2L1887.3 1137.3L1887.1 1169.4L1886.3 1193.2L1885.9 1216.9L1885.4 1221.1L1884.3 1225.3L1883.2 1228.1L1879.7 1235.1L1878.5 1237.9L1877.9 1240.7L1878 1243.5ZM1917.6 1243.5L1917.8 1241.7L1917.3 1239L1916.5 1237.3L1913.1 1231.9L1911.6 1229.2L1910.4 1225.7L1909.8 1222.1L1909.5 1215.9L1909.4 1195.4L1908.5 1173.1L1908.5 1155.3L1908.2 1155.3L1908.3 1173.1L1907.4 1195.4L1907.3 1215.9L1907 1222.1L1906.4 1225.7L1905.1 1229.2L1903.7 1231.9L1900.3 1237.3L1899.5 1239L1898.9 1241.7L1899.2 1243.5ZM1938.6 1243.5L1938.9 1240.3L1938.5 1237.1L1937.5 1233.9L1934.3 1226.5L1932.7 1222.2L1931.6 1218L1930.9 1212.7L1930.5 1203.1L1930.5 1168L1929.7 1138.2L1929.2 1138.2L1928.4 1168L1928.4 1203.1L1928 1212.7L1927.3 1218L1926.3 1222.2L1924.7 1226.5L1921.4 1233.9L1920.4 1237.1L1920 1240.3L1920.4 1243.5Z" fill="#add8e6" stroke="#000" stroke-width="1.3" stroke-linejoin="round"/>
<path d="M1107.6 1240.5V1166.3M1103.1 1240.5h9M1103.1 1166.3h9M1128.6 1242.5V1175.3M1124.1 1242.5h9M1124.1 1175.3h9M1149.7 1243.5V1187.4M1145.2 1243.5h9M1145.2 1187.4h9M1170.8 1243.5V1228.5M1166.3 1243.5h9M1166.3 1228.5h9M1191.9 1243.5V1243.1M1187.4 1243.5h9M1187.4 1243.1h9M1212.9 1243.5V1243.1M1208.4 1243.5h9M1208.4 1243.1h9M1234 1243.5V1243.1M1229.5 1243.5h9M1229.5 1243.1h9M1255.1 1243.5V1243.1M1250.6 1243.5h9M1250.6 1243.1h9M1276.2 1243.5V1243.1M1271.7 1243.5h9M1271.7 1243.1h9M1297.2 1243.5V1243.1M1292.7 1243.5h9M1292.7 1243.1h9M1318.3 1243.5V1243.1M1313.8 1243.5h9M1313.8 1243.1h9M1339.4 1243.5V1231.5M1334.9 1243.5h9M1334.9 1231.5h9M1360.5 1243.5V1169.3M1356 1243.5h9M1356 1169.3h9M1381.5 1243.5V1065.1M1377 1243.5h9M1377 1065.1h9M1402.6 1243.5V1103.1M1398.1 1243.5h9M1398.1 1103.1h9M1423.7 1243.5V1088.1M1419.2 1243.5h9M1419.2 1088.1h9M1444.8 1243.5V1091.1M1440.3 1243.5h9M1440.3 1091.1h9M1465.8 1243.5V1115.2M1461.3 1243.5h9M1461.3 1115.2h9M1486.9 1243.5V1148.3M1482.4 1243.5h9M1482.4 1148.3h9M1508 1243.5V1157.3M1503.5 1243.5h9M1503.5 1157.3h9M1529.1 1243.5V1138.2M1524.6 1243.5h9M1524.6 1138.2h9M1550.1 1243.5V1147.3M1545.6 1243.5h9M1545.6 1147.3h9M1571.2 1243.5V868.6M1566.7 1243.5h9M1566.7 868.6h9M1592.3 1243.5V1086.1M1587.8 1243.5h9M1587.8 1086.1h9M1613.4 1243.5V988.9M1608.9 1243.5h9M1608.9 988.9h9M1634.4 1243.5V1136.2M1629.9 1243.5h9M1629.9 1136.2h9M1655.5 1243.5V1137.2M1651 1243.5h9M1651 1137.2h9M1676.6 1243.5V1187.4M1672.1 1243.5h9M1672.1 1187.4h9M1697.6 1243.5V1142.2M1693.1 1243.5h9M1693.1 1142.2h9M1718.7 1243.5V994.9M1714.2 1243.5h9M1714.2 994.9h9M1739.8 1243.5V1103.1M1735.3 1243.5h9M1735.3 1103.1h9M1760.9 1243.5V1076.1M1756.4 1243.5h9M1756.4 1076.1h9M1781.9 1243.5V1086.1M1777.4 1243.5h9M1777.4 1086.1h9M1803 1243.5V1132.2M1798.5 1243.5h9M1798.5 1132.2h9M1824.1 1243.5V1160.3M1819.6 1243.5h9M1819.6 1160.3h9M1845.2 1243.5V1124.2M1840.7 1243.5h9M1840.7 1124.2h9M1866.2 1243.5V1100.1M1861.7 1243.5h9M1861.7 1100.1h9M1887.3 1243.5V1105.2M1882.8 1243.5h9M1882.8 1105.2h9M1908.4 1243.5V1155.3M1903.9 1243.5h9M1903.9 1155.3h9M1929.5 1243.5V1138.2M1925 1243.5h9M1925 1138.2h9" stroke="#1f77b4" stroke-width="2.1"/>
<path d="M1107.1 1232.5V1211.4M1128.1 1231.5V1213.4M1149.2 1228.5V1213.4M1170.3 1243.3V1241.1M1338.9 1243.5V1242.9M1360 1243.3V1240.5M1381 1242.7V1225.5M1402.1 1239.5V1203.4M1423.2 1241.5V1203.4M1444.3 1241.5V1213.4M1465.3 1242.5V1222.4M1486.4 1243.1V1230.5M1507.5 1242.9V1226.5M1528.6 1243.1V1233.5M1549.6 1243.1V1230.5M1570.7 1243.1V1233.5M1591.8 1237.5V1210.4M1612.9 1242.9V1225.5M1633.9 1243.1V1232.5M1655 1243.3V1235.5M1676.1 1243.1V1232.5M1697.1 1243.3V1238.5M1718.2 1243.3V1229.5M1739.3 1242.5V1197.4M1760.4 1237.5V1191.4M1781.4 1239.5V1206.4M1802.5 1240.5V1213.4M1823.6 1242.7V1228.5M1844.7 1243.1V1225.5M1865.7 1243.3V1233.5M1886.8 1243.3V1237.5M1907.9 1243.3V1236.5M1929 1243.1V1231.5" stroke="#000" stroke-width="8.3"/>
<path d="M1107.6 1237.5V1188.4M1128.6 1238.5V1185.4M1149.7 1237.5V1197.4M1170.8 1243.5V1237.5M1191.9 1243.5V1243.3M1212.9 1243.5V1243.3M1234 1243.5V1243.3M1255.1 1243.5V1243.3M1276.2 1243.5V1243.3M1297.2 1243.5V1243.3M1318.3 1243.5V1243.3M1339.4 1243.5V1241.1M1360.5 1243.5V1199.4M1381.5 1243.5V1185.4M1402.6 1243.1V1163.3M1423.7 1243.5V1138.2M1444.8 1243.5V1153.3M1465.8 1243.5V1155.3M1486.9 1243.5V1186.4M1508 1243.5V1193.4M1529.1 1243.5V1189.4M1550.1 1243.5V1214.4M1571.2 1243.5V1186.4M1592.3 1242.9V1179.3M1613.4 1243.5V1181.3M1634.4 1243.5V1211.4M1655.5 1243.5V1198.4M1676.6 1243.5V1205.4M1697.6 1243.5V1201.4M1718.7 1243.5V1146.3M1739.8 1243.5V1141.2M1760.9 1242.9V1153.3M1781.9 1243.1V1107.2M1803 1243.3V1187.4M1824.1 1243.5V1188.4M1845.2 1243.5V1175.3M1866.2 1243.5V1191.4M1887.3 1243.5V1188.4M1908.4 1243.5V1192.4M1929.5 1243.5V1165.3" stroke="#f00" stroke-width="2.8"/>
<path d="M1100.1 1220.4h13M1121.1 1226.5h13M1142.2 1223.4h13M1163.3 1242.5h13M1184.4 1243.5h13M1205.4 1243.5h13M1226.5 1243.5h13M1247.6 1243.5h13M1268.7 1243.5h13M1289.7 1243.5h13M1310.8 1243.5h13M1331.9 1243.3h13M1353 1242.5h13M1374 1239.5h13M1395.1 1230.5h13M1416.2 1230.5h13M1437.3 1235.5h13M1458.3 1237.5h13M1479.4 1241.1h13M1500.5 1239.5h13M1521.6 1241.5h13M1542.6 1241.5h13M1563.7 1240.5h13M1584.8 1228.5h13M1605.9 1240.5h13M1626.9 1240.5h13M1648 1241.5h13M1669.1 1241.5h13M1690.1 1242.5h13M1711.2 1241.5h13M1732.3 1233.5h13M1753.4 1215.4h13M1774.4 1227.5h13M1795.5 1229.5h13M1816.6 1238.5h13M1837.7 1240.5h13M1858.7 1242.5h13M1879.8 1242.5h13M1900.9 1242.5h13M1922 1241.1h13" stroke="#f00" stroke-width="4"/>
</g>
<path d="M1086.5 1243.5v4.9M1128.5 1243.5v4.9M1170.5 1243.5v4.9M1212.5 1243.5v4.9M1255.5 1243.5v4.9M1297.5 1243.5v4.9M1339.5 1243.5v4.9M1381.5 1243.5v4.9M1423.5 1243.5v4.9M1465.5 1243.5v4.9M1507.5 1243.5v4.9M1550.5 1243.5v4.9M1592.5 1243.5v4.9M1634.5 1243.5v4.9M1676.5 1243.5v4.9M1718.5 1243.5v4.9M1760.5 1243.5v4.9M1803.5 1243.5v4.9M1845.5 1243.5v4.9M1887.5 1243.5v4.9M1929.5 1243.5v4.9M1086.5 1243.5h-4.9M1086.5 1143.5h-4.9M1086.5 1042.5h-4.9M1086.5 942.5h-4.9M1086.5 842.5h-4.9" stroke="#000" stroke-width="1.1" fill="none"/>
<rect x="1086.5" y="746.5" width="854" height="497" fill="none" stroke="#000" stroke-width="1.1"/>
<g font-size="19.44">
<text x="1085.7" y="1270" text-anchor="middle">00z</text>
<text x="1085.7" y="1292.1" text-anchor="middle">26-Feb</text>
<text x="1170" y="1270" text-anchor="middle">00z</text>
<text x="1170" y="1292.1" text-anchor="middle">27-Feb</text>
<text x="1254.3" y="1270" text-anchor="middle">00z</text>
<text x="1254.3" y="1292.1" text-anchor="middle">28-Feb</text>
<text x="1338.6" y="1270" text-anchor="middle">00z</text>
<text x="1338.6" y="1292.1" text-anchor="middle">01-Mar</text>
<text x="1422.9" y="1270" text-anchor="middle">00z</text>
<text x="1422.9" y="1292.1" text-anchor="middle">02-Mar</text>
<text x="1507.2" y="1270" text-anchor="middle">00z</text>
<text x="1507.2" y="1292.1" text-anchor="middle">03-Mar</text>
<text x="1591.5" y="1270" text-anchor="middle">00z</text>
<text x="1591.5" y="1292.1" text-anchor="middle">04-Mar</text>
<text x="1675.8" y="1270" text-anchor="middle">00z</text>
<text x="1675.8" y="1292.1" text-anchor="middle">05-Mar</text>
<text x="1760.1" y="1270" text-anchor="middle">00z</text>
<text x="1760.1" y="1292.1" text-anchor="middle">06-Mar</text>
<text x="1844.4" y="1270" text-anchor="middle">00z</text>
<text x="1844.4" y="1292.1" text-anchor="middle">07-Mar</text>
<text x="1928.7" y="1270" text-anchor="middle">00z</text>
<text x="1928.7" y="1292.1" text-anchor="middle">08-Mar</text>
<text x="1073.6" y="1251.1" text-anchor="end">0</text>
<text x="1073.6" y="1150.8" text-anchor="end">5</text>
<text x="1073.6" y="1050.6" text-anchor="end">10</text>
<text x="1073.6" y="950.3" text-anchor="end">15</text>
<text x="1073.6" y="850.1" text-anchor="end">20</text>
</g>
<text x="1513.5" y="738.2" font-size="27.78" text-anchor="middle">6-Hourly Snow</text>
<text x="1513.5" y="1320.9" font-size="25" text-anchor="middle">Day/Hour</text>
<text x="1038.3" y="995" font-size="25" text-anchor="middle" transform="rotate(-90 1038.3 995)">6-h Snow (inches)</text>
<g transform="translate(973 0)">
<rect x="117.5" y="750.5" width="442" height="75" fill="#fff" fill-opacity="0.8" stroke="#000" stroke-opacity="0.8" stroke-width="1.1"/>
<path d="M130.8 771.8H169.7" stroke="#f00" stroke-width="4.2"/>
<path d="M151 791.2V809.8" stroke="#000" stroke-width="8.2"/>
<path d="M315.4 758.6V786.4" stroke="#f00" stroke-width="2.8"/>
<path d="M292.4 800.5H338.3" stroke="#add8e6" stroke-width="6.9"/>
<g font-size="19.44">
<text x="185.2" y="778.7">Median</text>
<text x="185.2" y="807.4">IQR</text>
<text x="350.3" y="778.7">5th/95th Percentiles</text>
<text x="350.3" y="807.4">Density</text>
</g></g>
<g transform="translate(973 626)">
<path d="M897.8 128.1L917 128.1L917 139.4L913 139.4L913 153.9L924.2 153.9L924.2 139.4L920.3 139.4L920.3 128.1L939.6 128.1L939.6 139.4L935.8 139.4L935.8 157.7L928 165.8L909.2 165.8L901.6 157.7L901.6 139.4L897.8 139.4Z" fill="#cc0000"/>
<circle cx="933.5" cy="164.3" r="0.9" fill="none" stroke="#cc0000" stroke-width="0.4"/>
<text transform="translate(875.1 165.8) scale(0.82 1)" font-size="11.2" textLength="26.1" lengthAdjust="spacing" font-family="'Liberation Serif','DejaVu Serif',serif" fill="#1a1a1a">THE</text>
<text transform="translate(856.8 182.3) scale(0.82 1)" font-size="16.9" textLength="125.4" lengthAdjust="spacing" font-family="'Liberation Serif','DejaVu Serif',serif" fill="#1a1a1a">UNIVERSITY</text>
<text transform="translate(876.2 195.4) scale(0.82 1)" font-size="10.4" textLength="16.8" lengthAdjust="spacing" font-family="'Liberation Serif','DejaVu Serif',serif" fill="#1a1a1a">OF</text>
<text transform="translate(895.2 198.8) scale(0.82 1)" font-size="16.2" textLength="55.1" lengthAdjust="spacing" font-family="'Liberation Serif','DejaVu Serif',serif" fill="#1a1a1a">UTAH</text>
</g>
<clipPath id="c20"><rect x="114.5" y="1372.5" width="853" height="497"/></clipPath>
<rect x="114.5" y="1513.8" width="853" height="355.7" fill="#c6a38a"/>
<path d="M114.5 1513.8H967.5" stroke="#8b4513" stroke-width="2.8"/>
<path d="M114.5 1372.5V1869.5M156.5 1372.5V1869.5M198.5 1372.5V1869.5M240.5 1372.5V1869.5M282.5 1372.5V1869.5M324.5 1372.5V1869.5M367.5 1372.5V1869.5M409.5 1372.5V1869.5M451.5 1372.5V1869.5M493.5 1372.5V1869.5M535.5 1372.5V1869.5M577.5 1372.5V1869.5M619.5 1372.5V1869.5M662.5 1372.5V1869.5M704.5 1372.5V1869.5M746.5 1372.5V1869.5M788.5 1372.5V1869.5M830.5 1372.5V1869.5M872.5 1372.5V1869.5M914.5 1372.5V1869.5M957.5 1372.5V1869.5M114.5 1869.5H967.5M114.5 1802.5H967.5M114.5 1734.5H967.5M114.5 1666.5H967.5M114.5 1599.5H967.5M114.5 1531.5H967.5M114.5 1464.5H967.5M114.5 1396.5H967.5" stroke="#b0b0b0" stroke-opacity="0.8" stroke-width="1.05" fill="none"/>
<g clip-path="url(#c20)" fill="none">
<path d="M137.1 1678.8L138.2 1675.4L141.7 1666L143.3 1660.9L144.4 1655.8L144.7 1651.5L144.4 1647.2L142 1633.6L140 1617.4L139.2 1613.1L136.7 1602L135.8 1594.3L134.7 1594.3L133.8 1602L131.3 1613.1L130.5 1617.4L128.5 1633.6L126.1 1647.2L125.8 1651.5L126.1 1655.8L127.2 1660.9L128.8 1666L132.3 1675.4L133.3 1678.8ZM159.1 1691.3L164.7 1678.7L165.5 1675.5L165.8 1672.3L165.1 1668.4L161.9 1658.9L160.7 1653.3L160.4 1650.1L160.4 1647L161.4 1634.3L161.4 1629.6L160.6 1624L157.8 1612.9L154.8 1612.9L152 1624L151.2 1629.6L151.2 1634.3L152.2 1647L152.2 1650.1L151.9 1653.3L150.8 1658.9L147.5 1668.4L146.9 1672.3L147.1 1675.5L147.9 1678.7L153.6 1691.3ZM179.4 1721.1L185.6 1695.5L186.5 1690.4L186.8 1685.2L186.4 1680.1L184.6 1669.9L184 1664.7L183.8 1659.6L184.3 1647.3L184 1642.2L183.1 1637.1L180 1625.8L178.7 1619.7L176.1 1619.7L174.8 1625.8L171.7 1637.1L170.8 1642.2L170.5 1647.3L171 1659.6L170.8 1664.7L170.2 1669.9L168.3 1680.1L167.9 1685.2L168.3 1690.4L169.2 1695.5L175.4 1721.1ZM200.8 1702.5L202.3 1697.8L206.8 1685.6L207.6 1681.8L207.9 1679L207.8 1676.2L207.4 1673.4L206.5 1669.6L203.5 1659.3L202.8 1655.5L202.2 1650.8L202 1646.2L202.2 1641.5L203.7 1626.4L204 1621.7L203.6 1616.1L202.3 1609.5L194.6 1609.5L193.3 1616.1L193 1621.7L193.2 1626.4L194.7 1641.5L194.9 1646.2L194.7 1650.8L194.2 1655.5L193.4 1659.3L190.4 1669.6L189.5 1673.4L189.1 1676.2L189 1679L189.3 1681.8L190.1 1685.6L194.6 1697.8L196.1 1702.5ZM221.9 1717.7L226 1709.3L227.5 1705.4L228.6 1700.2L229 1694.3L228.7 1688.5L227.8 1682.7L225.7 1672.9L224 1662.6L221.3 1653.5L217.7 1653.5L215.1 1662.6L213.4 1672.9L211.3 1682.7L210.4 1688.5L210.1 1694.3L210.4 1700.2L211.6 1705.4L213.1 1709.3L217.2 1717.7ZM241.6 1763.3L242.4 1759.3L243.5 1755.3L247.9 1744.2L248.9 1741.2L249.8 1737.1L250.1 1733.1L249.7 1729.1L247.1 1718L246.5 1713L246.4 1707.9L247.1 1697.9L246.8 1692.8L246 1688.8L243.2 1679.7L242.2 1675.7L241.4 1670.7L241 1663.6L240.2 1663.6L239.8 1670.7L239.1 1675.7L238.1 1679.7L235.2 1688.8L234.4 1692.8L234.1 1697.9L234.8 1707.9L234.8 1713L234.1 1718L231.6 1729.1L231.2 1733.1L231.4 1737.1L232.3 1741.2L233.3 1744.2L237.7 1755.3L238.9 1759.3L239.6 1763.3ZM266.3 1710.9L268.9 1703.5L270.1 1699.3L270.9 1695.1L271.1 1690.8L270.9 1687.7L270.4 1684.5L266.7 1669.7L265.9 1665.4L265.4 1661.2L265.2 1655.9L265.3 1649.6L266.8 1631.6L267 1625.2L266.4 1617.8L264.3 1606.2L259.1 1606.2L256.9 1617.8L256.4 1625.2L256.6 1631.6L258.1 1649.6L258.2 1655.9L257.9 1661.2L257.5 1665.4L256.7 1669.7L253 1684.5L252.5 1687.7L252.2 1690.8L252.5 1695.1L253.3 1699.3L254.5 1703.5L257.1 1710.9ZM286.1 1667L289.5 1658.8L290.9 1654.7L292 1649.8L292.2 1645.7L291.7 1640L289.6 1629.3L288.9 1623.6L288.8 1617.8L289.8 1606.4L289.6 1601.4L288.5 1596.5L284.9 1585.9L280.6 1585.9L277 1596.5L275.9 1601.4L275.7 1606.4L276.7 1617.8L276.7 1623.6L275.9 1629.3L273.8 1640L273.3 1645.7L273.6 1649.8L274.6 1654.7L276 1658.8L279.4 1667ZM305 1687.3L306.8 1682.4L312.5 1670.1L313.1 1668.2L313.3 1666.4L313.1 1664.5L312.5 1662.7L309.2 1655.3L308.1 1651.6L306.8 1643.6L304.6 1634.4L304.3 1631.4L304.1 1626.4L303.5 1626.4L303.4 1631.4L303 1634.4L300.9 1643.6L299.6 1651.6L298.4 1655.3L295.1 1662.7L294.6 1664.5L294.4 1666.4L294.6 1668.2L295.1 1670.1L300.9 1682.4L302.7 1687.3ZM326.5 1732.9L327.5 1728.3L331 1714.3L332.9 1705L334.1 1696.9L334.4 1690L334.1 1685.3L333.4 1680.7L330.5 1666.7L329.6 1660.9L328.1 1644.7L326 1628.4L325.4 1618L324.4 1618L323.8 1628.4L321.7 1644.7L320.2 1660.9L319.3 1666.7L316.4 1680.7L315.8 1685.3L315.5 1690L315.8 1696.9L317 1705L318.9 1714.3L322.3 1728.3L323.3 1732.9ZM349 1694L354.3 1676.4L355.1 1671.7L355.4 1666.9L354.9 1661.1L351.7 1646.9L350.7 1639.9L350.4 1631.6L350.9 1613.9L350.6 1605.7L349.9 1598.6L347.8 1584.5L347 1577.4L345 1577.4L344.2 1584.5L342 1598.6L341.3 1605.7L341.1 1613.9L341.6 1631.6L341.2 1639.9L340.2 1646.9L337.1 1661.1L336.5 1666.9L336.8 1671.7L337.7 1676.4L343 1694ZM369.2 1658.5L371.2 1647.9L373.4 1633.8L375.8 1620.9L376.3 1616.1L376.5 1611.4L376.3 1607.9L375.8 1604.4L372.2 1590.2L371 1583.2L370.5 1577.3L369.8 1562L367.9 1541.9L366.2 1541.9L364.3 1562L363.6 1577.3L363.1 1583.2L361.9 1590.2L358.4 1604.4L357.8 1607.9L357.6 1611.4L357.8 1616.1L358.4 1620.9L360.7 1633.8L363 1647.9L365 1658.5ZM390.3 1660.2L393.5 1646.3L395.3 1635.9L397.1 1621.9L397.5 1616.1L397.6 1611.5L397.3 1604.5L396.4 1596.4L392.9 1570.9L389.8 1553.4L388.9 1545.3L387.3 1545.3L386.5 1553.4L383.3 1570.9L379.8 1596.4L379 1604.5L378.7 1611.5L378.8 1616.1L379.1 1621.9L381 1635.9L382.7 1646.3L385.9 1660.2ZM410.4 1680.5L411.7 1663.9L412.2 1643.4L412.7 1635.7L414.2 1626.7L417.7 1611.4L418.4 1606.3L418.7 1602.4L418.6 1598.6L418 1593.5L415.2 1578.1L411.4 1553.8L407 1553.8L403.2 1578.1L400.4 1593.5L399.9 1598.6L399.8 1602.4L400 1606.3L400.7 1611.4L404.3 1626.7L405.7 1635.7L406.2 1643.4L406.7 1663.9L408 1680.5ZM430.8 1655.2L431.3 1648.5L433 1633L433.7 1619.7L434.1 1614.1L435.3 1607.5L437.9 1597.5L438.9 1593L439.5 1588.6L439.7 1584.2L439.4 1578.6L438.5 1573.1L437 1567.5L432.7 1554.2L431.8 1549.8L431.1 1545.3L429.4 1545.3L428.8 1549.8L427.8 1554.2L423.5 1567.5L422.1 1573.1L421.1 1578.6L420.8 1584.2L421 1588.6L421.7 1593L422.6 1597.5L425.2 1607.5L426.4 1614.1L426.9 1619.7L427.5 1633L429.2 1648.5L429.7 1655.2ZM451.9 1629.8L452.4 1624.1L454.1 1611.7L454.8 1601.1L455.3 1597.3L456.4 1592.5L460 1582L460.5 1579.2L460.8 1575.3L460.4 1569.6L459.3 1563.9L457.7 1559.1L453.9 1549.5L452.8 1545.7L452.1 1540.9L451.7 1535.2L451 1535.2L450.6 1540.9L449.9 1545.7L448.8 1549.5L445 1559.1L443.5 1563.9L442.3 1569.6L441.9 1575.3L442.2 1579.2L442.7 1582L446.3 1592.5L447.4 1597.3L447.9 1601.1L448.6 1611.7L450.3 1624.1L450.8 1629.8ZM472.7 1650.1L472.7 1638.8L473 1631.7L473.5 1626.5L475.1 1615.3L476.3 1604L477.5 1597.9L481.3 1585.6L481.8 1582.5L481.9 1580.4L481.7 1577.4L481.1 1574.3L478.5 1565.1L474.3 1548.7L470.5 1548.7L466.3 1565.1L463.8 1574.3L463.2 1577.4L463 1580.4L463.1 1582.5L463.6 1585.6L467.4 1597.9L468.6 1604L469.7 1615.3L471.3 1626.5L471.8 1631.7L472.2 1638.8L472.2 1650.1ZM493.8 1678.8L493.8 1667.2L494 1659.4L495.8 1637.3L496.5 1620.4L497 1614L497.6 1608.8L498.7 1602.3L502.5 1585.4L503 1580.2L502.8 1577.6L502 1573.7L500.8 1569.8L496.5 1558.2L495.4 1554.3L494.7 1550.4L492.3 1550.4L491.6 1554.3L490.5 1558.2L486.2 1569.8L485 1573.7L484.2 1577.6L484.1 1580.2L484.5 1585.4L488.3 1602.3L489.4 1608.8L490 1614L490.5 1620.4L491.2 1637.3L493 1659.4L493.2 1667.2L493.3 1678.8ZM514.9 1658.5L515.3 1646.9L517 1627.9L517.5 1612L518 1605.6L518.8 1600.3L519.8 1595L523.4 1580.2L524 1574.9L523.8 1570.7L522.8 1566.5L521.5 1562.2L518.3 1553.8L510.8 1553.8L507.7 1562.2L506.3 1566.5L505.4 1570.7L505.1 1574.9L505.7 1580.2L509.4 1595L510.4 1600.3L511.1 1605.6L511.6 1612L512.2 1627.9L513.8 1646.9L514.3 1658.5ZM535.9 1672.1L535.7 1643.4L536 1624.7L536.4 1617.2L537.8 1604.8L538.7 1593.6L539.3 1588.6L540.7 1582.3L544.3 1571.1L544.8 1568.6L545.1 1566.1L544.8 1562.4L543.9 1558.7L539.4 1548.7L531.9 1548.7L527.5 1558.7L526.5 1562.4L526.2 1566.1L526.5 1568.6L527 1571.1L530.6 1582.3L532.1 1588.6L532.6 1593.6L533.5 1604.8L534.9 1617.2L535.3 1624.7L535.6 1643.4L535.4 1672.1ZM556.9 1695.7L556.7 1670.8L557.1 1648.7L557.4 1639.9L558.4 1625.3L559 1609.1L559.6 1604.7L560.3 1601.8L561.3 1598.8L565.1 1590L565.9 1587.1L566.2 1584.2L565.9 1581.2L565.2 1578.3L561.1 1566.5L559.4 1560.7L558.4 1556.3L557.5 1550.4L555.9 1550.4L555 1556.3L554 1560.7L552.4 1566.5L548.2 1578.3L547.5 1581.2L547.3 1584.2L547.6 1587.1L548.4 1590L552.1 1598.8L553.1 1601.8L553.8 1604.7L554.5 1609.1L555.1 1625.3L556.1 1639.9L556.4 1648.7L556.7 1670.8L556.5 1695.7ZM578.1 1721.1L578.3 1702.6L579.8 1676.5L580.3 1655L580.7 1647.3L581.3 1642.7L582.1 1638.1L586.3 1621.2L587 1616.6L587.2 1612L587 1607.4L586 1601.2L581 1579.7L579.1 1569L576.5 1569L574.6 1579.7L569.6 1601.2L568.6 1607.4L568.3 1612L568.6 1616.6L569.2 1621.2L573.5 1638.1L574.3 1642.7L574.9 1647.3L575.3 1655L575.8 1676.5L577.3 1702.6L577.5 1721.1ZM599.3 1692.3L599.7 1682.8L600.3 1676L603.2 1656.8L605.1 1641.8L607.4 1626.8L608 1621.3L608.3 1615.9L608.3 1610.4L607.9 1603.6L605.8 1581.7L604.2 1570.8L601.3 1557.1L596.4 1557.1L593.6 1570.8L591.9 1581.7L589.9 1603.6L589.5 1610.4L589.4 1615.9L589.7 1621.3L590.3 1626.8L592.7 1641.8L594.6 1656.8L597.4 1676L598 1682.8L598.4 1692.3ZM620.7 1672.1L621.3 1665.6L622.3 1659.1L623.8 1652.6L626.9 1640.9L628.3 1634.4L629.1 1628L629.4 1622.8L629.1 1615L627.4 1600.7L626.7 1592.9L625.8 1569.6L625.4 1561.8L624.4 1554L622.6 1543.6L617.3 1543.6L615.5 1554L614.5 1561.8L614.1 1569.6L613.2 1592.9L612.5 1600.7L610.8 1615L610.5 1622.8L610.7 1628L611.6 1634.4L613 1640.9L616.1 1652.6L617.6 1659.1L618.6 1665.6L619.2 1672.1ZM641.9 1709.2L642.9 1698.7L646.7 1670.2L649.8 1650.7L650.3 1646.2L650.5 1641.6L650.2 1634.1L648.4 1616.1L647.6 1596.6L647.1 1589.1L645.9 1580.1L642.7 1560.5L639.4 1560.5L636.1 1580.1L635 1589.1L634.4 1596.6L633.6 1616.1L631.9 1634.1L631.6 1641.6L631.8 1646.2L632.3 1650.7L635.3 1670.2L639.1 1698.7L640.1 1709.2ZM662.9 1729.5L663.5 1721.7L664.2 1715.4L670.8 1671.4L671.4 1665.1L671.5 1660.4L671.1 1651L668.3 1625.9L666.5 1603.9L663.8 1581.9L663 1574L661.1 1574L660.4 1581.9L657.7 1603.9L655.8 1625.9L653.1 1651L652.6 1660.4L652.8 1665.1L653.4 1671.4L660 1715.4L660.7 1721.7L661.3 1729.5ZM686.8 1680.5L690 1670.2L691.4 1664.5L692.3 1658.8L692.6 1651.9L692.2 1645.1L690.3 1630.2L689.6 1622.2L688.8 1597L688.4 1589L687.4 1581L685.1 1567.3L681.2 1567.3L678.9 1581L678 1589L677.5 1597L676.7 1622.2L676 1630.2L674.1 1645.1L673.7 1651.9L674 1658.8L674.9 1664.5L676.3 1670.2L679.5 1680.5ZM705.1 1653.5L705.8 1649L706.7 1645.5L708 1641.9L711.4 1633.9L712.6 1630.4L713.3 1626.8L713.7 1622.4L713.5 1617.1L712.7 1610L709 1588.7L708 1573.6L706.8 1565.6L701.7 1565.6L700.5 1573.6L699.5 1588.7L695.8 1610L695 1617.1L694.8 1622.4L695.1 1626.8L695.9 1630.4L697.1 1633.9L700.4 1641.9L701.7 1645.5L702.7 1649L703.4 1653.5ZM725.6 1705.9L726 1692.2L726.9 1682.7L730 1660.8L731.1 1655.3L734.2 1643L734.7 1639L734.8 1636.2L734.6 1633.5L734.1 1629.4L731.7 1617.1L730.6 1610.3L728.7 1591.2L726.2 1570.7L724.5 1570.7L721.9 1591.2L720.1 1610.3L719 1617.1L716.5 1629.4L716 1633.5L715.9 1636.2L715.9 1639L716.5 1643L719.5 1655.3L720.6 1660.8L723.7 1682.7L724.6 1692.2L725 1705.9ZM746.7 1775.2L746.7 1750.5L747 1741.1L747.5 1733.5L748.5 1724L751.5 1699.4L755.3 1676.6L755.8 1669L755.8 1665.3L755.4 1659.6L752.1 1623.6L751.2 1616L748.2 1597L747.3 1587.6L745.5 1587.6L744.5 1597L741.6 1616L740.7 1623.6L737.4 1659.6L737 1665.3L736.9 1669L737.5 1676.6L741.2 1699.4L744.3 1724L745.2 1733.5L745.8 1741.1L746.1 1750.5L746.1 1775.2ZM767.9 1798.8L768.3 1783.5L769.7 1752.9L770.2 1722.3L770.7 1711.4L771.2 1704.9L772 1698.3L776 1674.3L776.7 1667.7L776.9 1661.2L776.8 1654.6L776.1 1645.9L769 1582.5L765.9 1582.5L758.9 1645.9L758.2 1654.6L758 1661.2L758.3 1667.7L758.9 1674.3L762.9 1698.3L763.7 1704.9L764.2 1711.4L764.7 1722.3L765.2 1752.9L766.6 1783.5L767 1798.8ZM789.7 1783.6L792.2 1750.6L794.1 1710.9L797.4 1671.3L797.9 1662.5L798 1655.9L797.8 1647.1L797.2 1638.3L790.1 1565.6L787 1565.6L779.9 1638.3L779.3 1647.1L779.1 1655.9L779.2 1662.5L779.7 1671.3L783 1710.9L784.9 1750.6L787.3 1783.6ZM811.4 1824.2L814.7 1791.9L816.1 1773.5L818.5 1734.3L818.9 1722.8L819.1 1711.2L818.8 1695.1L817.9 1679L814.5 1626L811.8 1596L807.4 1596L804.7 1626L801.3 1679L800.5 1695.1L800.2 1711.2L800.3 1722.8L800.7 1734.3L803.1 1773.5L804.6 1791.9L807.8 1824.2ZM833.3 1830.9L836.1 1806.7L837.8 1787.3L839.8 1758.2L840.1 1748.5L840.1 1741.2L839.9 1734L839.3 1724.3L836.4 1697.6L835.2 1683.1L833.9 1651.5L831.7 1615.2L831.1 1590.9L830.3 1590.9L829.7 1615.2L827.5 1651.5L826.1 1683.1L825 1697.6L822.1 1724.3L821.4 1734L821.2 1741.2L821.3 1748.5L821.6 1758.2L823.6 1787.3L825.3 1806.7L828.1 1830.9ZM852.8 1830.9L853.9 1816.2L856.7 1789.1L857.6 1776.8L858.2 1764.6L859.2 1730.1L860.9 1698.2L861.2 1685.9L860.9 1673.6L860 1661.3L858.2 1644.1L854 1609.7L853.2 1599.9L852.5 1587.6L851 1587.6L850.3 1599.9L849.5 1609.7L845.3 1644.1L843.6 1661.3L842.7 1673.6L842.3 1685.9L842.6 1698.2L844.4 1730.1L845.3 1764.6L845.9 1776.8L846.8 1789.1L849.6 1816.2L850.7 1830.9ZM875.1 1793.7L877.4 1771.9L878.6 1756.6L881.7 1702L882.2 1691.1L882.3 1682.3L882.1 1673.6L881.5 1662.6L879.2 1636.4L877.2 1608L874.4 1577.4L871.3 1577.4L868.5 1608L866.5 1636.4L864.2 1662.6L863.5 1673.6L863.4 1682.3L863.5 1691.1L863.9 1702L867.1 1756.6L868.3 1771.9L870.6 1793.7ZM896.2 1819.1L899.4 1792.5L900.8 1774.7L902.8 1732.6L903.4 1710.4L903.2 1701.5L902.8 1692.6L900.1 1661.5L898 1626L895.7 1599.4L892.1 1599.4L889.9 1626L887.8 1661.5L885.1 1692.6L884.6 1701.5L884.5 1710.4L885 1732.6L887 1774.7L888.4 1792.5L891.6 1819.1ZM916.1 1869.8L917.2 1853.9L920.6 1816.9L923.3 1782.5L924.2 1766.6L924.4 1753.4L924.3 1742.8L923.7 1729.6L920.8 1687.2L918.9 1644.9L916.4 1607.8L913.5 1607.8L911 1644.9L909.2 1687.2L906.3 1729.6L905.7 1742.8L905.5 1753.4L905.8 1766.6L906.7 1782.5L909.4 1816.9L912.8 1853.9L913.9 1869.8ZM937.4 1837.7L938.8 1821.8L942.2 1792.7L943.4 1776.8L943.9 1763.6L944.5 1731.9L945.3 1700.1L945.5 1684.2L945.2 1668.3L944.2 1652.5L942.9 1639.2L939.4 1612.8L938.2 1602.2L937.2 1589L936.7 1575.7L935.4 1575.7L934.9 1589L933.9 1602.2L932.7 1612.8L929.2 1639.2L927.9 1652.5L926.9 1668.3L926.6 1684.2L926.8 1700.1L927.6 1731.9L928.2 1763.6L928.7 1776.8L929.9 1792.7L933.3 1821.8L934.7 1837.7ZM957.8 1836L959.8 1792L960.6 1759.7L961.1 1747.9L962.3 1733.2L965.7 1703.9L966.3 1695.1L966.6 1686.3L966.4 1677.4L965.7 1665.7L962.6 1633.4L958.7 1586.4L957.8 1568.8L957.5 1545.3L956.8 1545.3L956.4 1568.8L955.6 1586.4L951.6 1633.4L948.6 1665.7L947.9 1677.4L947.7 1686.3L947.9 1695.1L948.6 1703.9L952 1733.2L953.2 1747.9L953.7 1759.7L954.5 1792L956.4 1836Z" fill="#add8e6" stroke="#000" stroke-width="1.3" stroke-linejoin="round"/>
<path d="M135.2 1678.8V1594.3M130.7 1678.8h9M130.7 1594.3h9M156.3 1691.3V1612.9M151.8 1691.3h9M151.8 1612.9h9M177.4 1721.1V1619.7M172.9 1721.1h9M172.9 1619.7h9M198.5 1702.5V1609.5M194 1702.5h9M194 1609.5h9M219.5 1717.7V1653.5M215 1717.7h9M215 1653.5h9M240.6 1763.3V1663.6M236.1 1763.3h9M236.1 1663.6h9M261.7 1710.9V1606.2M257.2 1710.9h9M257.2 1606.2h9M282.8 1667V1585.9M278.3 1667h9M278.3 1585.9h9M303.8 1687.3V1626.4M299.3 1687.3h9M299.3 1626.4h9M324.9 1732.9V1618M320.4 1732.9h9M320.4 1618h9M346 1694V1577.4M341.5 1694h9M341.5 1577.4h9M367.1 1658.5V1541.9M362.6 1658.5h9M362.6 1541.9h9M388.1 1660.2V1545.3M383.6 1660.2h9M383.6 1545.3h9M409.2 1680.5V1553.8M404.7 1680.5h9M404.7 1553.8h9M430.3 1655.2V1545.3M425.8 1655.2h9M425.8 1545.3h9M451.4 1629.8V1535.2M446.9 1629.8h9M446.9 1535.2h9M472.4 1650.1V1548.7M467.9 1650.1h9M467.9 1548.7h9M493.5 1678.8V1550.4M489 1678.8h9M489 1550.4h9M514.6 1658.5V1553.8M510.1 1658.5h9M510.1 1553.8h9M535.7 1672.1V1548.7M531.2 1672.1h9M531.2 1548.7h9M556.7 1695.7V1550.4M552.2 1695.7h9M552.2 1550.4h9M577.8 1721.1V1569M573.3 1721.1h9M573.3 1569h9M598.9 1692.3V1557.1M594.4 1692.3h9M594.4 1557.1h9M619.9 1672.1V1543.6M615.4 1672.1h9M615.4 1543.6h9M641 1709.2V1560.5M636.5 1709.2h9M636.5 1560.5h9M662.1 1729.5V1574M657.6 1729.5h9M657.6 1574h9M683.2 1680.5V1567.3M678.7 1680.5h9M678.7 1567.3h9M704.2 1653.5V1565.6M699.7 1653.5h9M699.7 1565.6h9M725.3 1705.9V1570.7M720.8 1705.9h9M720.8 1570.7h9M746.4 1775.2V1587.6M741.9 1775.2h9M741.9 1587.6h9M767.5 1798.8V1582.5M763 1798.8h9M763 1582.5h9M788.5 1783.6V1565.6M784 1783.6h9M784 1565.6h9M809.6 1824.2V1596M805.1 1824.2h9M805.1 1596h9M830.7 1830.9V1590.9M826.2 1830.9h9M826.2 1590.9h9M851.8 1830.9V1587.6M847.3 1830.9h9M847.3 1587.6h9M872.8 1793.7V1577.4M868.3 1793.7h9M868.3 1577.4h9M893.9 1819.1V1599.4M889.4 1819.1h9M889.4 1599.4h9M915 1869.8V1607.8M910.5 1869.8h9M910.5 1607.8h9M936.1 1837.7V1575.7M931.6 1837.7h9M931.6 1575.7h9M957.1 1836V1545.3M952.6 1836h9M952.6 1545.3h9" stroke="#1f77b4" stroke-width="2.1"/>
<path d="M134.7 1656.9V1629.8M155.8 1673.8V1636.6M176.9 1690.7V1650.1M198 1678.8V1626.4M219 1700.8V1677.1M240.1 1736.3V1699.1M261.2 1692.3V1631.5M282.3 1648.4V1607.8M303.3 1670.4V1656.9M324.4 1702.5V1672.1M345.5 1668.7V1619.7M366.6 1626.4V1597.7M387.6 1628.1V1590.9M408.7 1619.7V1589.3M429.8 1602.8V1575.7M450.9 1587.6V1566.3M471.9 1592.6V1572.4M493 1606.2V1577.4M514.1 1597.7V1571.3M535.2 1580.8V1562.2M556.2 1590.9V1579.1M577.3 1629.8V1603.5M598.4 1631.5V1590.9M619.4 1628.1V1579.1M640.5 1651.8V1603.5M661.6 1673.8V1629.8M682.7 1656.9V1606.2M703.7 1626.4V1596M724.8 1645V1616.3M745.9 1680.5V1638.3M767 1682.2V1638.3M788 1699.1V1634.9M809.1 1749.8V1670.4M830.2 1775.2V1710.9M851.3 1751.5V1670.4M872.3 1727.8V1655.2M893.4 1756.6V1680.5M914.5 1781.9V1702.5M935.6 1759.9V1667M956.6 1717.7V1658.5" stroke="#000" stroke-width="8.3"/>
<path d="M135.2 1670.4V1611.2M156.3 1683.9V1623.1M177.4 1710.9V1634.9M198.5 1690.7V1612.9M219.5 1710.9V1660.2M240.6 1748.1V1687.3M261.7 1704.2V1616.3M282.8 1660.2V1596M303.8 1680.5V1641.6M324.9 1721.1V1641.6M346 1685.6V1596M367.1 1650.1V1558.8M388.1 1650.1V1565.6M409.2 1667V1562.2M430.3 1636.6V1562.2M451.4 1614.6V1555.5M472.4 1618V1555.5M493.5 1641.6V1565.6M514.6 1633.2V1557.1M535.7 1607.8V1552.1M556.7 1629.8V1563.9M577.8 1680.5V1584.2M598.9 1661.9V1567.3M619.9 1646.7V1552.1M641 1685.6V1577.4M662.1 1704.2V1596M683.2 1672.1V1579.1M704.2 1636.6V1569M725.3 1673.8V1587.6M746.4 1716V1611.2M767.5 1758.3V1602.8M788.5 1756.6V1589.3M809.6 1798.8V1616.3M830.7 1815.7V1645M851.8 1795.4V1629.8M872.8 1775.2V1602.8M893.9 1798.8V1621.4M915 1832.6V1636.6M936.1 1802.2V1628.1M957.1 1797.1V1609.5" stroke="#f00" stroke-width="2.8"/>
<path d="M127.7 1646.7h13M148.8 1667.7h13M169.9 1678.8h13M191 1672.1h13M212 1689.6h13M233.1 1725.5h13M254.2 1683.9h13M275.3 1634.9h13M296.3 1665.3h13M317.4 1688.3h13M338.5 1660.2h13M359.6 1611.2h13M380.6 1610.2h13M401.7 1603.5h13M422.8 1588.2h13M443.9 1577.4h13M464.9 1581.5h13M486 1584.9h13M507.1 1578.1h13M528.2 1568h13M549.2 1585.9h13M570.3 1615.3h13M591.4 1612.9h13M612.4 1610.6h13M633.5 1635.6h13M654.6 1656.2h13M675.7 1638.3h13M696.7 1612.9h13M717.8 1635.6h13M738.9 1665.3h13M760 1663.6h13M781 1661.3h13M802.1 1710.3h13M823.2 1741.4h13M844.3 1700.8h13M865.3 1687.3h13M886.4 1714.3h13M907.5 1746.4h13M928.6 1708.2h13M949.6 1688.3h13" stroke="#f00" stroke-width="4"/>
</g>
<path d="M121 1840.6V1521M117.3 1527.6L121 1520.3L124.7 1527.6" stroke="#000" stroke-width="2.6" fill="none" stroke-linecap="round" stroke-linejoin="round"/>
<text x="113.5" y="1863.5" font-size="20.83">Station Elev = 10531 ft</text>
<path d="M114.5 1869.5v4.9M156.5 1869.5v4.9M198.5 1869.5v4.9M240.5 1869.5v4.9M282.5 1869.5v4.9M324.5 1869.5v4.9M367.5 1869.5v4.9M409.5 1869.5v4.9M451.5 1869.5v4.9M493.5 1869.5v4.9M535.5 1869.5v4.9M577.5 1869.5v4.9M619.5 1869.5v4.9M662.5 1869.5v4.9M704.5 1869.5v4.9M746.5 1869.5v4.9M788.5 1869.5v4.9M830.5 1869.5v4.9M872.5 1869.5v4.9M914.5 1869.5v4.9M957.5 1869.5v4.9M114.5 1869.5h-4.9M114.5 1802.5h-4.9M114.5 1734.5h-4.9M114.5 1666.5h-4.9M114.5 1599.5h-4.9M114.5 1531.5h-4.9M114.5 1464.5h-4.9M114.5 1396.5h-4.9" stroke="#000" stroke-width="1.1" fill="none"/>
<rect x="114.5" y="1372.5" width="853" height="497" fill="none" stroke="#000" stroke-width="1.1"/>
<g font-size="19.44">
<text x="113.4" y="1896" text-anchor="middle">00z</text>
<text x="113.4" y="1918.1" text-anchor="middle">26-Feb</text>
<text x="197.7" y="1896" text-anchor="middle">00z</text>
<text x="197.7" y="1918.1" text-anchor="middle">27-Feb</text>
<text x="282" y="1896" text-anchor="middle">00z</text>
<text x="282" y="1918.1" text-anchor="middle">28-Feb</text>
<text x="366.3" y="1896" text-anchor="middle">00z</text>
<text x="366.3" y="1918.1" text-anchor="middle">01-Mar</text>
<text x="450.6" y="1896" text-anchor="middle">00z</text>
<text x="450.6" y="1918.1" text-anchor="middle">02-Mar</text>
<text x="534.9" y="1896" text-anchor="middle">00z</text>
<text x="534.9" y="1918.1" text-anchor="middle">03-Mar</text>
<text x="619.1" y="1896" text-anchor="middle">00z</text>
<text x="619.1" y="1918.1" text-anchor="middle">04-Mar</text>
<text x="703.4" y="1896" text-anchor="middle">00z</text>
<text x="703.4" y="1918.1" text-anchor="middle">05-Mar</text>
<text x="787.7" y="1896" text-anchor="middle">00z</text>
<text x="787.7" y="1918.1" text-anchor="middle">06-Mar</text>
<text x="872" y="1896" text-anchor="middle">00z</text>
<text x="872" y="1918.1" text-anchor="middle">07-Mar</text>
<text x="956.3" y="1896" text-anchor="middle">00z</text>
<text x="956.3" y="1918.1" text-anchor="middle">08-Mar</text>
<text x="101.2" y="1877.4" text-anchor="end">0</text>
<text x="101.2" y="1809.8" text-anchor="end">2000</text>
<text x="101.2" y="1742.2" text-anchor="end">4000</text>
<text x="101.2" y="1674.6" text-anchor="end">6000</text>
<text x="101.2" y="1607" text-anchor="end">8000</text>
<text x="101.2" y="1539.4" text-anchor="end">10000</text>
<text x="101.2" y="1471.8" text-anchor="end">12000</text>
<text x="101.2" y="1404.2" text-anchor="end">14000</text>
</g>
<text x="541" y="1364.2" font-size="27.78" text-anchor="middle">Wet-Bulb 0.5°C Level</text>
<text x="541" y="1946.9" font-size="25" text-anchor="middle">Day/Hour</text>
<text x="28" y="1621" font-size="25" text-anchor="middle" transform="rotate(-90 28 1621)">Wet-Bulb 0.5°C Level (ft AMSL)</text>
<g transform="translate(0 626)">
<rect x="117.5" y="750.5" width="442" height="75" fill="#fff" fill-opacity="0.8" stroke="#000" stroke-opacity="0.8" stroke-width="1.1"/>
<path d="M130.8 771.8H169.7" stroke="#f00" stroke-width="4.2"/>
<path d="M151 791.2V809.8" stroke="#000" stroke-width="8.2"/>
<path d="M315.4 758.6V786.4" stroke="#f00" stroke-width="2.8"/>
<path d="M292.4 800.5H338.3" stroke="#add8e6" stroke-width="6.9"/>
<g font-size="19.44">
<text x="185.2" y="778.7">Median</text>
<text x="185.2" y="807.4">IQR</text>
<text x="350.3" y="778.7">5th/95th Percentiles</text>
<text x="350.3" y="807.4">Density</text>
</g></g>
<g transform="translate(0 1252)">
<path d="M897.8 128.1L917 128.1L917 139.4L913 139.4L913 153.9L924.2 153.9L924.2 139.4L920.3 139.4L920.3 128.1L939.6 128.1L939.6 139.4L935.8 139.4L935.8 157.7L928 165.8L909.2 165.8L901.6 157.7L901.6 139.4L897.8 139.4Z" fill="#cc0000"/>
<circle cx="933.5" cy="164.3" r="0.9" fill="none" stroke="#cc0000" stroke-width="0.4"/>
<text transform="translate(875.1 165.8) scale(0.82 1)" font-size="11.2" textLength="26.1" lengthAdjust="spacing" font-family="'Liberation Serif','DejaVu Serif',serif" fill="#1a1a1a">THE</text>
<text transform="translate(856.8 182.3) scale(0.82 1)" font-size="16.9" textLength="125.4" lengthAdjust="spacing" font-family="'Liberation Serif','DejaVu Serif',serif" fill="#1a1a1a">UNIVERSITY</text>
<text transform="translate(876.2 195.4) scale(0.82 1)" font-size="10.4" textLength="16.8" lengthAdjust="spacing" font-family="'Liberation Serif','DejaVu Serif',serif" fill="#1a1a1a">OF</text>
<text transform="translate(895.2 198.8) scale(0.82 1)" font-size="16.2" textLength="55.1" lengthAdjust="spacing" font-family="'Liberation Serif','DejaVu Serif',serif" fill="#1a1a1a">UTAH</text>
</g>
<clipPath id="c21"><rect x="1086.5" y="1372.5" width="854" height="497"/></clipPath>
<path d="M1086.5 1372.5V1869.5M1128.5 1372.5V1869.5M1170.5 1372.5V1869.5M1212.5 1372.5V1869.5M1255.5 1372.5V1869.5M1297.5 1372.5V1869.5M1339.5 1372.5V1869.5M1381.5 1372.5V1869.5M1423.5 1372.5V1869.5M1465.5 1372.5V1869.5M1507.5 1372.5V1869.5M1550.5 1372.5V1869.5M1592.5 1372.5V1869.5M1634.5 1372.5V1869.5M1676.5 1372.5V1869.5M1718.5 1372.5V1869.5M1760.5 1372.5V1869.5M1803.5 1372.5V1869.5M1845.5 1372.5V1869.5M1887.5 1372.5V1869.5M1929.5 1372.5V1869.5M1086.5 1869.5H1940.5M1086.5 1775.5H1940.5M1086.5 1680.5H1940.5M1086.5 1585.5H1940.5M1086.5 1491.5H1940.5M1086.5 1396.5H1940.5" stroke="#b0b0b0" stroke-opacity="0.8" stroke-width="1.05" fill="none"/>
<g clip-path="url(#c21)" fill="none">
<path d="M1108.3 1712.7L1109 1710.6L1111.1 1705.8L1112.6 1700.3L1116.3 1693.4L1116.8 1691.7L1117 1690L1116.6 1687.6L1115.6 1685.5L1114.3 1683.8L1110.8 1680.3L1109.4 1678.6L1105.8 1678.6L1104.3 1680.3L1100.9 1683.8L1099.5 1685.5L1098.5 1687.6L1098.1 1690L1098.3 1691.7L1098.9 1693.4L1102.6 1700.3L1104.1 1705.8L1106.2 1710.6L1106.8 1712.7ZM1129.9 1716.5L1132 1710.1L1132.7 1706.7L1133 1703.3L1133.1 1695.5L1133.6 1692.1L1134.6 1689.2L1137.6 1683.8L1138.1 1681.4L1137.9 1679.9L1137 1678L1132.1 1671.6L1130.2 1668.2L1127.1 1668.2L1125.2 1671.6L1120.3 1678L1119.4 1679.9L1119.2 1681.4L1119.7 1683.8L1122.7 1689.2L1123.7 1692.1L1124.2 1695.5L1124.3 1703.3L1124.6 1706.7L1125.3 1710.1L1127.4 1716.5ZM1150 1680.5L1150.1 1674.3L1150.3 1670.9L1152.2 1659.9L1153.3 1650.2L1154.5 1646.1L1158.4 1637.8L1159 1635.8L1159.2 1633.7L1158.9 1630.9L1157.9 1627.5L1156.4 1624.1L1152.5 1616.5L1150.9 1612.4L1148.5 1612.4L1147 1616.5L1143 1624.1L1141.5 1627.5L1140.5 1630.9L1140.3 1633.7L1140.5 1635.8L1141 1637.8L1144.9 1646.1L1146.1 1650.2L1147.2 1659.9L1149.2 1670.9L1149.4 1674.3L1149.4 1680.5ZM1172.2 1668.2L1175.8 1662.2L1176.9 1660L1179.6 1652.2L1180.1 1649.6L1180.2 1647.7L1179.7 1644.7L1178.3 1641.4L1176.8 1638.7L1173.2 1633.9L1171.9 1631.3L1169.7 1631.3L1168.4 1633.9L1164.8 1638.7L1163.3 1641.4L1161.8 1644.7L1161.3 1647.7L1161.5 1649.6L1162 1652.2L1164.7 1660L1165.8 1662.2L1169.4 1668.2ZM1192.1 1707L1192 1693.9L1192.3 1687L1192.8 1683.6L1196 1671.9L1197.3 1669.1L1200.8 1663.6L1201.2 1662.3L1201.3 1660.9L1201.1 1659.5L1200.6 1658.1L1197.1 1651.9L1193.7 1645.1L1192.8 1642.3L1192.3 1638.9L1191.4 1638.9L1190.9 1642.3L1190 1645.1L1186.7 1651.9L1183.2 1658.1L1182.7 1659.5L1182.4 1660.9L1182.5 1662.3L1183 1663.6L1186.5 1669.1L1187.8 1671.9L1190.9 1683.6L1191.4 1687L1191.8 1693.9L1191.6 1707ZM1213.8 1705.1L1214.4 1702.4L1216.5 1696L1218.1 1688.5L1221.8 1679.4L1222.3 1677.3L1222.4 1675.1L1222 1672.5L1221 1669.2L1219.1 1665L1215.1 1657.5L1214.1 1654.8L1213.6 1652.1L1212.3 1652.1L1211.8 1654.8L1210.8 1657.5L1206.8 1665L1204.9 1669.2L1203.8 1672.5L1203.5 1675.1L1203.6 1677.3L1204.1 1679.4L1207.8 1688.5L1209.4 1696L1211.4 1702.4L1212.1 1705.1ZM1235.8 1701.3L1239.1 1694.6L1240.3 1691.2L1241.9 1682.1L1243.2 1676.5L1243.5 1673.7L1243.3 1672L1242.7 1669.7L1235.6 1652.3L1234.9 1649.4L1234.5 1645.5L1233.5 1645.5L1233.1 1649.4L1232.4 1652.3L1225.3 1669.7L1224.7 1672L1224.6 1673.7L1224.8 1676.5L1226.1 1682.1L1227.7 1691.2L1229 1694.6L1232.3 1701.3ZM1257.1 1724L1258.5 1720.5L1259.3 1718L1261.2 1707.3L1262.1 1704.3L1264.2 1698.7L1264.5 1696.2L1264.3 1694.7L1263.5 1692.6L1258.9 1684L1257.1 1680.5L1256.2 1677.4L1255.6 1673.9L1254.6 1673.9L1254 1677.4L1253 1680.5L1251.3 1684L1246.7 1692.6L1245.9 1694.7L1245.7 1696.2L1246 1698.7L1248.1 1704.3L1248.9 1707.3L1250.8 1718L1251.7 1720.5L1253.1 1724ZM1277.2 1705.1L1279.7 1698.1L1281.3 1691.5L1285 1683.6L1285.4 1681.8L1285.6 1680L1285.3 1677.4L1284.1 1674.3L1282.6 1671.7L1278.4 1665.5L1277.5 1663.8L1276.9 1661.6L1275.4 1661.6L1274.8 1663.8L1274 1665.5L1269.7 1671.7L1268.2 1674.3L1267 1677.4L1266.7 1680L1266.9 1681.8L1267.4 1683.6L1271 1691.5L1272.6 1698.1L1275.1 1705.1ZM1298.2 1712.7L1299.9 1705.8L1300.6 1698.9L1301 1696.6L1302.1 1693.9L1305.9 1687.4L1306.5 1685.6L1306.7 1684.2L1306.5 1682.4L1305.6 1680.1L1299.9 1670.5L1298.5 1667.3L1296 1667.3L1294.5 1670.5L1288.8 1680.1L1288 1682.4L1287.8 1684.2L1288 1685.6L1288.6 1687.4L1292.3 1693.9L1293.5 1696.6L1293.9 1698.9L1294.6 1705.8L1296.3 1712.7ZM1319.2 1699.4L1321.6 1695L1323.1 1690.7L1324 1689.4L1327 1686L1327.5 1685L1327.8 1683.7L1327.4 1681.6L1326.1 1679.3L1324.7 1677.7L1320.1 1673.9L1316.5 1673.9L1312 1677.7L1310.5 1679.3L1309.2 1681.6L1308.9 1683.7L1309.1 1685L1309.7 1686L1312.6 1689.4L1313.6 1690.7L1315.1 1695L1317.4 1699.4ZM1339.8 1721.2L1340.3 1717.8L1341.7 1711.4L1342.3 1705.1L1342.7 1702.7L1344 1699.7L1348.1 1693.9L1348.7 1692.4L1348.8 1691L1348.6 1689.5L1347.9 1688L1343.5 1681.2L1341.6 1677.8L1340.6 1675.4L1340 1672.9L1338.8 1672.9L1338.2 1675.4L1337.2 1677.8L1335.3 1681.2L1330.8 1688L1330.2 1689.5L1329.9 1691L1330.1 1692.4L1330.7 1693.9L1334.8 1699.7L1336.1 1702.7L1336.5 1705.1L1337.1 1711.4L1338.5 1717.8L1338.9 1721.2ZM1361.8 1727.8L1362.8 1724.2L1366 1715.5L1367.1 1711.1L1369.4 1695.9L1369.9 1689.3L1369.6 1685L1368.7 1680.6L1366.1 1671.2L1362.6 1661L1361.4 1655.9L1359.5 1655.9L1358.3 1661L1354.9 1671.2L1352.3 1680.6L1351.3 1685L1351 1689.3L1351.5 1695.9L1353.8 1711.1L1354.9 1715.5L1358.1 1724.2L1359.1 1727.8ZM1383.7 1718.4L1384.8 1715.5L1388.3 1708.5L1389.8 1704.9L1390.7 1701.4L1391 1697.8L1390.5 1693.6L1388.2 1684.4L1386.9 1677.3L1386 1671L1385 1658.9L1382.9 1648.3L1380.1 1648.3L1378.1 1658.9L1377.1 1671L1376.2 1677.3L1374.9 1684.4L1372.6 1693.6L1372.1 1697.8L1372.3 1701.4L1373.3 1704.9L1374.8 1708.5L1378.3 1715.5L1379.4 1718.4ZM1404.4 1717.4L1411.1 1688.4L1411.9 1684L1412.1 1680.5L1411.9 1677L1411.4 1673.4L1408.4 1661.1L1407.6 1656.7L1406 1640.9L1404.2 1630.3L1401.1 1630.3L1399.2 1640.9L1397.6 1656.7L1396.8 1661.1L1393.8 1673.4L1393.3 1677L1393.2 1680.5L1393.4 1684L1394.1 1688.4L1400.8 1717.4ZM1424.6 1727.8L1425.3 1722.9L1426.3 1719L1427.5 1715L1430.7 1706.2L1431.9 1702.2L1432.7 1698.3L1433.1 1693.4L1432.9 1686.5L1431.5 1673.7L1431.1 1667.8L1431 1651L1430.7 1646.1L1430.3 1643.1L1429.5 1639.2L1426.9 1630.3L1420.5 1630.3L1417.9 1639.2L1417.1 1643.1L1416.7 1646.1L1416.4 1651L1416.3 1667.8L1415.8 1673.7L1414.4 1686.5L1414.3 1693.4L1414.7 1698.3L1415.5 1702.2L1416.6 1706.2L1419.9 1715L1421.1 1719L1422 1722.9L1422.8 1727.8ZM1447.5 1713.6L1450.4 1703.3L1452.4 1694L1453.9 1684.6L1454.2 1678L1452.2 1651.8L1451.6 1646.2L1450.2 1639.6L1446.9 1627.4L1445.7 1620.9L1443.8 1620.9L1442.7 1627.4L1439.3 1639.6L1437.9 1646.2L1437.3 1651.8L1435.3 1678L1435.6 1684.6L1437.2 1694L1439.1 1703.3L1442 1713.6ZM1469.1 1725.9L1472.4 1713.5L1474 1706L1475 1698.6L1475.3 1691.1L1474.6 1682.4L1472 1663.8L1470.8 1652.6L1470.1 1643.9L1469.1 1624L1466.9 1602.9L1464.8 1602.9L1462.6 1624L1461.6 1643.9L1460.9 1652.6L1459.6 1663.8L1457.1 1682.4L1456.4 1691.1L1456.6 1698.6L1457.7 1706L1459.3 1713.5L1462.6 1725.9ZM1492.3 1726.9L1494.5 1719.3L1495.6 1714.2L1496.3 1707.8L1496.3 1701.4L1495.8 1693.8L1492.1 1658.2L1490.5 1630.2L1488.4 1609.9L1487.7 1601L1486.1 1601L1485.4 1609.9L1483.3 1630.2L1481.7 1658.2L1478 1693.8L1477.5 1701.4L1477.6 1707.8L1478.2 1714.2L1479.3 1719.3L1481.5 1726.9ZM1509.7 1738.2L1511.4 1730.7L1515 1719.3L1516.3 1714.3L1517.2 1709.2L1517.4 1704.2L1517 1697.9L1514.1 1680.2L1512.5 1666.3L1511.7 1654.9L1510.9 1632.2L1509.2 1613.3L1506.8 1613.3L1505 1632.2L1504.2 1654.9L1503.4 1666.3L1501.8 1680.2L1499 1697.9L1498.5 1704.2L1498.8 1709.2L1499.6 1714.3L1501 1719.3L1504.5 1730.7L1506.3 1738.2ZM1530.9 1727.8L1533.9 1712.3L1537.5 1689L1538.3 1682.4L1538.5 1676.8L1538.3 1670.2L1537.6 1663.5L1535.4 1649.1L1533.6 1633.6L1530.8 1618L1527.3 1618L1524.5 1633.6L1522.7 1649.1L1520.5 1663.5L1519.8 1670.2L1519.6 1676.8L1519.8 1682.4L1520.6 1689L1524.2 1712.3L1527.2 1727.8ZM1551.1 1709.8L1552.1 1703.6L1555.2 1690.2L1556.5 1683L1558.8 1665.4L1559.4 1659.2L1559.6 1654.1L1559.3 1645.8L1558 1636.5L1555.5 1622.1L1552 1607.6L1548.2 1607.6L1544.8 1622.1L1542.3 1636.5L1541 1645.8L1540.7 1654.1L1540.9 1659.2L1541.4 1665.4L1543.8 1683L1545.1 1690.2L1548.1 1703.6L1549.1 1709.8ZM1571.6 1707L1572 1698.4L1572.7 1692.2L1573.7 1687.3L1576.8 1673.7L1579.4 1657.7L1580.4 1649L1580.7 1641.6L1580.3 1631.8L1579.2 1621.9L1577.7 1614.5L1574.2 1602.2L1573 1597.2L1572.3 1592.3L1571.7 1584.9L1570.7 1584.9L1570.2 1592.3L1569.4 1597.2L1568.2 1602.2L1564.7 1614.5L1563.2 1621.9L1562.1 1631.8L1561.8 1641.6L1562 1649L1563 1657.7L1565.6 1673.7L1568.7 1687.3L1569.7 1692.2L1570.4 1698.4L1570.8 1707ZM1592.6 1706.1L1593.2 1693.8L1595.3 1677L1596.5 1661.3L1597.6 1654.6L1601 1640.1L1601.6 1635.6L1601.7 1632.2L1601.4 1626.6L1600.3 1619.9L1598.7 1613.2L1595.2 1600.9L1593.8 1595.3L1590.7 1595.3L1589.4 1600.9L1585.9 1613.2L1584.2 1619.9L1583.1 1626.6L1582.8 1632.2L1583 1635.6L1583.6 1640.1L1586.9 1654.6L1588 1661.3L1589.3 1677L1591.4 1693.8L1591.9 1706.1ZM1613.7 1715.5L1613.5 1695.9L1613.8 1688.6L1614.4 1681.3L1615.1 1676.4L1618.7 1654.3L1622.2 1639.7L1622.8 1633.5L1622.7 1628.6L1622.2 1621.3L1621.6 1615.2L1621 1611.5L1619.5 1605.4L1615.8 1594.4L1610.9 1594.4L1607.2 1605.4L1605.7 1611.5L1605.1 1615.2L1604.5 1621.3L1604 1628.6L1603.9 1633.5L1604.5 1639.7L1608 1654.3L1611.6 1676.4L1612.3 1681.3L1612.9 1688.6L1613.2 1695.9L1613.1 1715.5ZM1634.7 1698.5L1634.7 1683.8L1634.9 1678.5L1635.5 1673.2L1637.5 1660.6L1639.3 1648L1640.2 1643.8L1643.1 1633.3L1643.7 1630.1L1643.9 1627L1643.7 1623.8L1642.9 1619.6L1636 1594.4L1632.8 1594.4L1626 1619.6L1625.2 1623.8L1625 1627L1625.2 1630.1L1625.7 1633.3L1628.6 1643.8L1629.6 1648L1631.3 1660.6L1633.4 1673.2L1633.9 1678.5L1634.2 1683.8L1634.1 1698.5ZM1655.9 1691.9L1656.1 1684.8L1656.8 1679.5L1659.3 1668.1L1661.3 1655.8L1664.2 1643.5L1664.7 1640L1664.9 1637.3L1664.8 1633.8L1663.9 1629.4L1658 1609.2L1656.9 1604.8L1654.1 1604.8L1653 1609.2L1647.1 1629.4L1646.2 1633.8L1646.1 1637.3L1646.3 1640L1646.8 1643.5L1649.7 1655.8L1651.7 1668.1L1654.2 1679.5L1654.9 1684.8L1655.1 1691.9ZM1677.6 1716.5L1680.7 1698.7L1682.3 1685L1685.3 1665.3L1685.9 1659.4L1686 1655.4L1685.7 1650.5L1685 1646.6L1683.8 1642.6L1680.2 1633.8L1678.8 1629.8L1677.7 1624.9L1677.1 1619L1676 1619L1675.4 1624.9L1674.3 1629.8L1673 1633.8L1669.4 1642.6L1668.2 1646.6L1667.4 1650.5L1667.1 1655.4L1667.3 1659.4L1667.8 1665.3L1670.9 1685L1672.4 1698.7L1675.6 1716.5ZM1700.1 1720.3L1703.3 1706.7L1705 1696.6L1706.8 1683L1707.1 1674L1706.8 1667.2L1705.5 1649.2L1704.3 1636.8L1703.2 1630L1700 1615.3L1698.9 1608.6L1696.4 1608.6L1695.3 1615.3L1692.1 1630L1691 1636.8L1689.8 1649.2L1688.5 1667.2L1688.2 1674L1688.5 1683L1690.3 1696.6L1692 1706.7L1695.2 1720.3ZM1720 1725L1721.1 1716.8L1724.2 1697.2L1727 1677.6L1727.9 1669.4L1728.2 1661.2L1728 1654.7L1727.4 1646.5L1725.1 1623.6L1723.1 1600.7L1720.1 1576.2L1719.3 1563.1L1718.1 1563.1L1717.3 1576.2L1714.3 1600.7L1712.4 1623.6L1710.1 1646.5L1709.5 1654.7L1709.3 1661.2L1709.6 1669.4L1710.4 1677.6L1713.2 1697.2L1716.4 1716.8L1717.4 1725ZM1740.4 1739.2L1740.9 1728.4L1741.6 1719.4L1742.9 1710.4L1745.8 1692.5L1747.2 1679.9L1748.2 1663.7L1748.7 1643.9L1749.2 1604.4L1748.9 1593.6L1748.4 1588.2L1747.3 1581L1743 1561.2L1736.6 1561.2L1732.3 1581L1731.2 1588.2L1730.7 1593.6L1730.3 1604.4L1730.8 1643.9L1731.4 1663.7L1732.4 1679.9L1733.8 1692.5L1736.7 1710.4L1738 1719.4L1738.7 1728.4L1739.2 1739.2ZM1761.2 1751.5L1761.3 1733.8L1761.6 1723.9L1762.4 1712.1L1764.5 1690.4L1765.2 1680.6L1765.6 1670.7L1766.1 1647.1L1766.5 1637.3L1767.5 1625.4L1769.9 1605.7L1770.3 1597.9L1770.1 1592L1769 1584.1L1764.3 1564.4L1762.8 1556.5L1758.9 1556.5L1757.4 1564.4L1752.7 1584.1L1751.6 1592L1751.4 1597.9L1751.8 1605.7L1754.3 1625.4L1755.3 1637.3L1755.6 1647.1L1756.1 1670.7L1756.5 1680.6L1757.2 1690.4L1759.4 1712.1L1760.2 1723.9L1760.5 1733.8L1760.6 1751.5ZM1783.1 1710.8L1785 1684L1785.9 1651.8L1786.7 1637.5L1788.3 1616L1790.9 1591L1791.4 1582.1L1791.2 1574.9L1790.2 1566L1788.8 1558.8L1785.3 1542.7L1783.8 1533.8L1780.1 1533.8L1778.6 1542.7L1775.1 1558.8L1773.7 1566L1772.7 1574.9L1772.5 1582.1L1773 1591L1775.6 1616L1777.2 1637.5L1778 1651.8L1778.9 1684L1780.8 1710.8ZM1803.3 1708.9L1803.5 1691.6L1804 1680.1L1807.2 1647.4L1809.4 1605.1L1810.2 1595.5L1812.1 1576.3L1812.5 1568.6L1812.2 1560.9L1811.3 1553.2L1810.1 1547.5L1806 1530.2L1805 1524.4L1804.2 1518.7L1801.8 1518.7L1801.1 1524.4L1800 1530.2L1795.9 1547.5L1794.8 1553.2L1793.8 1560.9L1793.6 1568.6L1794 1576.3L1795.9 1595.5L1796.6 1605.1L1798.8 1647.4L1802 1680.1L1802.5 1691.6L1802.7 1708.9ZM1824.6 1719.3L1825.2 1701.6L1827.2 1672L1828.1 1646.4L1828.7 1634.6L1830.3 1614.9L1833 1589.3L1833.5 1579.5L1833.3 1571.6L1832.5 1563.7L1831.2 1555.8L1827.2 1536.1L1825.5 1524.3L1822.6 1524.3L1820.9 1536.1L1817 1555.8L1815.7 1563.7L1814.9 1571.6L1814.7 1579.5L1815.2 1589.3L1817.9 1614.9L1819.5 1634.6L1820.1 1646.4L1821 1672L1823 1701.6L1823.6 1719.3ZM1845.7 1739.2L1846.1 1725.7L1847.4 1696.7L1847.9 1665.8L1848.4 1654.2L1849.6 1642.6L1852.9 1623.3L1853.8 1617.5L1854.3 1611.7L1854.6 1604L1854.3 1592.4L1853.1 1578.9L1851.5 1567.3L1848.2 1548L1842.2 1548L1838.8 1567.3L1837.3 1578.9L1836.1 1592.4L1835.7 1604L1836 1611.7L1836.6 1617.5L1837.4 1623.3L1840.7 1642.6L1842 1654.2L1842.5 1665.8L1842.9 1696.7L1844.2 1725.7L1844.7 1739.2ZM1866.5 1749.6L1866.6 1731.2L1866.9 1719.6L1868.8 1687.4L1870.1 1657.4L1871.2 1645.9L1875 1620.6L1875.5 1613.7L1875.7 1606.7L1875.5 1599.8L1874.7 1590.6L1872.4 1572.2L1868.4 1542.2L1867.5 1533L1866.9 1521.5L1865.6 1521.5L1864.9 1533L1864 1542.2L1860 1572.2L1857.8 1590.6L1857 1599.8L1856.8 1606.7L1857 1613.7L1857.5 1620.6L1861.3 1645.9L1862.4 1657.4L1863.6 1687.4L1865.6 1719.6L1865.9 1731.2L1865.9 1749.6ZM1888 1720.3L1888.9 1705.6L1891.7 1678.4L1893.7 1651.2L1895.9 1626L1896.6 1615.6L1896.8 1607.2L1896.6 1600.9L1896.1 1594.6L1889.4 1533.9L1888.5 1523.4L1888 1513L1886.7 1513L1886.1 1523.4L1885.2 1533.9L1878.5 1594.6L1878 1600.9L1877.9 1607.2L1878 1615.6L1878.7 1626L1880.9 1651.2L1882.9 1678.4L1885.7 1705.6L1886.6 1720.3ZM1908.7 1739.2L1908.8 1722L1909.2 1711.2L1912.6 1663.9L1913.9 1651L1917.2 1629.5L1917.8 1623L1917.8 1618.7L1917.7 1614.4L1917.2 1608L1914.3 1586.5L1913.4 1577.9L1911.8 1556.3L1909.3 1526.2L1907.5 1526.2L1905 1556.3L1903.4 1577.9L1902.5 1586.5L1899.6 1608L1899.1 1614.4L1898.9 1618.7L1899 1623L1899.5 1629.5L1902.8 1651L1904.2 1663.9L1907.6 1711.2L1907.9 1722L1908.1 1739.2ZM1929.7 1756.2L1929.8 1737L1930.3 1722.6L1933.3 1677L1934.8 1662.6L1938.2 1641L1938.8 1633.8L1938.9 1629L1938.7 1624.2L1938.2 1619.4L1934.7 1597.8L1933.3 1585.8L1932 1557L1930.5 1533.1L1930 1518.7L1929 1518.7L1928.4 1533.1L1926.9 1557L1925.6 1585.8L1924.3 1597.8L1920.7 1619.4L1920.2 1624.2L1920 1629L1920.1 1633.8L1920.8 1641L1924.2 1662.6L1925.6 1677L1928.7 1722.6L1929.1 1737L1929.2 1756.2Z" fill="#add8e6" stroke="#000" stroke-width="1.3" stroke-linejoin="round"/>
<path d="M1107.6 1712.7V1678.6M1103.1 1712.7h9M1103.1 1678.6h9M1128.6 1716.5V1668.2M1124.1 1716.5h9M1124.1 1668.2h9M1149.7 1680.5V1612.4M1145.2 1680.5h9M1145.2 1612.4h9M1170.8 1668.2V1631.3M1166.3 1668.2h9M1166.3 1631.3h9M1191.9 1707V1638.9M1187.4 1707h9M1187.4 1638.9h9M1212.9 1705.1V1652.1M1208.4 1705.1h9M1208.4 1652.1h9M1234 1701.3V1645.5M1229.5 1701.3h9M1229.5 1645.5h9M1255.1 1724V1673.9M1250.6 1724h9M1250.6 1673.9h9M1276.2 1705.1V1661.6M1271.7 1705.1h9M1271.7 1661.6h9M1297.2 1712.7V1667.3M1292.7 1712.7h9M1292.7 1667.3h9M1318.3 1699.4V1673.9M1313.8 1699.4h9M1313.8 1673.9h9M1339.4 1721.2V1672.9M1334.9 1721.2h9M1334.9 1672.9h9M1360.5 1727.8V1655.9M1356 1727.8h9M1356 1655.9h9M1381.5 1718.4V1648.3M1377 1718.4h9M1377 1648.3h9M1402.6 1717.4V1630.3M1398.1 1717.4h9M1398.1 1630.3h9M1423.7 1727.8V1630.3M1419.2 1727.8h9M1419.2 1630.3h9M1444.8 1713.6V1620.9M1440.3 1713.6h9M1440.3 1620.9h9M1465.8 1725.9V1602.9M1461.3 1725.9h9M1461.3 1602.9h9M1486.9 1726.9V1601M1482.4 1726.9h9M1482.4 1601h9M1508 1738.2V1613.3M1503.5 1738.2h9M1503.5 1613.3h9M1529.1 1727.8V1618M1524.6 1727.8h9M1524.6 1618h9M1550.1 1709.8V1607.6M1545.6 1709.8h9M1545.6 1607.6h9M1571.2 1707V1584.9M1566.7 1707h9M1566.7 1584.9h9M1592.3 1706.1V1595.3M1587.8 1706.1h9M1587.8 1595.3h9M1613.4 1715.5V1594.4M1608.9 1715.5h9M1608.9 1594.4h9M1634.4 1698.5V1594.4M1629.9 1698.5h9M1629.9 1594.4h9M1655.5 1691.9V1604.8M1651 1691.9h9M1651 1604.8h9M1676.6 1716.5V1619M1672.1 1716.5h9M1672.1 1619h9M1697.6 1720.3V1608.6M1693.1 1720.3h9M1693.1 1608.6h9M1718.7 1725V1563.1M1714.2 1725h9M1714.2 1563.1h9M1739.8 1739.2V1561.2M1735.3 1739.2h9M1735.3 1561.2h9M1760.9 1751.5V1556.5M1756.4 1751.5h9M1756.4 1556.5h9M1781.9 1710.8V1533.8M1777.4 1710.8h9M1777.4 1533.8h9M1803 1708.9V1518.7M1798.5 1708.9h9M1798.5 1518.7h9M1824.1 1719.3V1524.3M1819.6 1719.3h9M1819.6 1524.3h9M1845.2 1739.2V1548M1840.7 1739.2h9M1840.7 1548h9M1866.2 1749.6V1521.5M1861.7 1749.6h9M1861.7 1521.5h9M1887.3 1720.3V1513M1882.8 1720.3h9M1882.8 1513h9M1908.4 1739.2V1526.2M1903.9 1739.2h9M1903.9 1526.2h9M1929.5 1756.2V1518.7M1925 1756.2h9M1925 1518.7h9" stroke="#1f77b4" stroke-width="2.1"/>
<path d="M1107.1 1697.5V1687.1M1128.1 1699.4V1680.5M1149.2 1642.6V1628.4M1170.3 1655.9V1643.6M1191.4 1666.3V1656.8M1212.4 1684.3V1670.1M1233.5 1686.2V1669.1M1254.6 1708.9V1693.8M1275.7 1688.1V1675.8M1296.7 1691.9V1680.5M1317.8 1688.1V1680.5M1338.9 1697.5V1688.1M1360 1705.1V1681.4M1381 1701.3V1676.7M1402.1 1690V1664.4M1423.2 1695.6V1654M1444.3 1688.1V1654M1465.3 1699.4V1657.8M1486.4 1708.9V1661.6M1507.5 1708.9V1667.3M1528.6 1691.9V1655.9M1549.6 1672.9V1638.9M1570.7 1659.7V1625.6M1591.8 1650.2V1622.8M1612.9 1644.5V1616.1M1633.9 1640.8V1619M1655 1652.1V1629.4M1676.1 1680.5V1650.2M1697.1 1688.1V1647.4M1718.2 1675.8V1628.4M1739.3 1667.3V1599.1M1760.4 1657.8V1592.5M1781.4 1635.1V1574.5M1802.5 1619.9V1561.2M1823.6 1627.5V1570.7M1844.7 1628.4V1584M1865.7 1633.2V1587.7M1886.8 1644.5V1588.7M1907.9 1637.9V1595.3M1929 1648.3V1610.5" stroke="#000" stroke-width="8.3"/>
<path d="M1107.6 1707V1682.4M1128.6 1710.8V1674.8M1149.7 1661.6V1619.9M1170.8 1663.5V1637M1191.9 1678.6V1648.3M1212.9 1697.5V1661.6M1234 1695.6V1657.8M1255.1 1720.3V1684.3M1276.2 1699.4V1669.1M1297.2 1707V1672.9M1318.3 1695.6V1676.7M1339.4 1712.7V1680.5M1360.5 1718.4V1667.3M1381.5 1710.8V1655.9M1402.6 1708.9V1638.9M1423.7 1708.9V1637M1444.8 1707V1637M1465.8 1718.4V1619.9M1486.9 1724V1623.7M1508 1722.1V1627.5M1529.1 1716.5V1629.4M1550.1 1693.8V1618M1571.2 1680.5V1608.6M1592.3 1680.5V1606.7M1613.4 1669.1V1602.9M1634.4 1663.5V1602.9M1655.5 1671V1614.2M1676.6 1703.2V1638.9M1697.6 1710.8V1625.6M1718.7 1705.1V1593.4M1739.8 1699.4V1576.4M1760.9 1695.6V1578.3M1781.9 1690V1555.6M1803 1657.8V1544.2M1824.1 1680.5V1548M1845.2 1703.2V1559.4M1866.2 1691.9V1555.6M1887.3 1686.2V1548M1908.4 1686.2V1551.8M1929.5 1697.5V1553.7" stroke="#f00" stroke-width="2.8"/>
<path d="M1100.1 1691.9h13M1121.1 1684.3h13M1142.2 1635.1h13M1163.3 1649.3h13M1184.4 1661.6h13M1205.4 1676.7h13M1226.5 1675.8h13M1247.6 1698.5h13M1268.7 1681.4h13M1289.7 1685.2h13M1310.8 1684.3h13M1331.9 1691.9h13M1353 1691.9h13M1374 1692.8h13M1395.1 1678.6h13M1416.2 1678.6h13M1437.3 1673.9h13M1458.3 1684.3h13M1479.4 1690h13M1500.5 1695.6h13M1521.6 1674.8h13M1542.6 1654.9h13M1563.7 1642.6h13M1584.8 1635.1h13M1605.9 1632.2h13M1626.9 1628.4h13M1648 1638.9h13M1669.1 1663.5h13M1690.1 1670.1h13M1711.2 1655.9h13M1732.3 1633.2h13M1753.4 1613.3h13M1774.4 1595.3h13M1795.5 1583h13M1816.6 1589.6h13M1837.7 1608.6h13M1858.7 1610.5h13M1879.8 1612.4h13M1900.9 1619h13M1922 1629.4h13" stroke="#f00" stroke-width="4"/>
</g>
<path d="M1086.5 1869.5v4.9M1128.5 1869.5v4.9M1170.5 1869.5v4.9M1212.5 1869.5v4.9M1255.5 1869.5v4.9M1297.5 1869.5v4.9M1339.5 1869.5v4.9M1381.5 1869.5v4.9M1423.5 1869.5v4.9M1465.5 1869.5v4.9M1507.5 1869.5v4.9M1550.5 1869.5v4.9M1592.5 1869.5v4.9M1634.5 1869.5v4.9M1676.5 1869.5v4.9M1718.5 1869.5v4.9M1760.5 1869.5v4.9M1803.5 1869.5v4.9M1845.5 1869.5v4.9M1887.5 1869.5v4.9M1929.5 1869.5v4.9M1086.5 1869.5h-4.9M1086.5 1775.5h-4.9M1086.5 1680.5h-4.9M1086.5 1585.5h-4.9M1086.5 1491.5h-4.9M1086.5 1396.5h-4.9" stroke="#000" stroke-width="1.1" fill="none"/>
<rect x="1086.5" y="1372.5" width="854" height="497" fill="none" stroke="#000" stroke-width="1.1"/>
<g font-size="19.44">
<text x="1085.7" y="1896" text-anchor="middle">00z</text>
<text x="1085.7" y="1918.1" text-anchor="middle">26-Feb</text>
<text x="1170" y="1896" text-anchor="middle">00z</text>
<text x="1170" y="1918.1" text-anchor="middle">27-Feb</text>
<text x="1254.3" y="1896" text-anchor="middle">00z</text>
<text x="1254.3" y="1918.1" text-anchor="middle">28-Feb</text>
<text x="1338.6" y="1896" text-anchor="middle">00z</text>
<text x="1338.6" y="1918.1" text-anchor="middle">01-Mar</text>
<text x="1422.9" y="1896" text-anchor="middle">00z</text>
<text x="1422.9" y="1918.1" text-anchor="middle">02-Mar</text>
<text x="1507.2" y="1896" text-anchor="middle">00z</text>
<text x="1507.2" y="1918.1" text-anchor="middle">03-Mar</text>
<text x="1591.5" y="1896" text-anchor="middle">00z</text>
<text x="1591.5" y="1918.1" text-anchor="middle">04-Mar</text>
<text x="1675.8" y="1896" text-anchor="middle">00z</text>
<text x="1675.8" y="1918.1" text-anchor="middle">05-Mar</text>
<text x="1760.1" y="1896" text-anchor="middle">00z</text>
<text x="1760.1" y="1918.1" text-anchor="middle">06-Mar</text>
<text x="1844.4" y="1896" text-anchor="middle">00z</text>
<text x="1844.4" y="1918.1" text-anchor="middle">07-Mar</text>
<text x="1928.7" y="1896" text-anchor="middle">00z</text>
<text x="1928.7" y="1918.1" text-anchor="middle">08-Mar</text>
<text x="1073.6" y="1877.4" text-anchor="end">0</text>
<text x="1073.6" y="1782.8" text-anchor="end">5</text>
<text x="1073.6" y="1688.1" text-anchor="end">10</text>
<text x="1073.6" y="1593.5" text-anchor="end">15</text>
<text x="1073.6" y="1498.8" text-anchor="end">20</text>
<text x="1073.6" y="1404.2" text-anchor="end">25</text>
</g>
<text x="1513.5" y="1364.2" font-size="27.78" text-anchor="middle">Snow-to-Liquid Ratio</text>
<text x="1513.5" y="1946.9" font-size="25" text-anchor="middle">Day/Hour</text>
<text x="1039.2" y="1622.9" font-size="25" text-anchor="middle" transform="rotate(-90 1039.2 1622.9)">SLR</text>
<g transform="translate(973 626)">
<rect x="117.5" y="750.5" width="442" height="75" fill="#fff" fill-opacity="0.8" stroke="#000" stroke-opacity="0.8" stroke-width="1.1"/>
<path d="M130.8 771.8H169.7" stroke="#f00" stroke-width="4.2"/>
<path d="M151 791.2V809.8" stroke="#000" stroke-width="8.2"/>
<path d="M315.4 758.6V786.4" stroke="#f00" stroke-width="2.8"/>
<path d="M292.4 800.5H338.3" stroke="#add8e6" stroke-width="6.9"/>
<g font-size="19.44">
<text x="185.2" y="778.7">Median</text>
<text x="185.2" y="807.4">IQR</text>
<text x="350.3" y="778.7">5th/95th Percentiles</text>
<text x="350.3" y="807.4">Density</text>
</g></g>
<g transform="translate(973 1252)">
<path d="M897.8 128.1L917 128.1L917 139.4L913 139.4L913 153.9L924.2 153.9L924.2 139.4L920.3 139.4L920.3 128.1L939.6 128.1L939.6 139.4L935.8 139.4L935.8 157.7L928 165.8L909.2 165.8L901.6 157.7L901.6 139.4L897.8 139.4Z" fill="#cc0000"/>
<circle cx="933.5" cy="164.3" r="0.9" fill="none" stroke="#cc0000" stroke-width="0.4"/>
<text transform="translate(875.1 165.8) scale(0.82 1)" font-size="11.2" textLength="26.1" lengthAdjust="spacing" font-family="'Liberation Serif','DejaVu Serif',serif" fill="#1a1a1a">THE</text>
<text transform="translate(856.8 182.3) scale(0.82 1)" font-size="16.9" textLength="125.4" lengthAdjust="spacing" font-family="'Liberation Serif','DejaVu Serif',serif" fill="#1a1a1a">UNIVERSITY</text>
<text transform="translate(876.2 195.4) scale(0.82 1)" font-size="10.4" textLength="16.8" lengthAdjust="spacing" font-family="'Liberation Serif','DejaVu Serif',serif" fill="#1a1a1a">OF</text>
<text transform="translate(895.2 198.8) scale(0.82 1)" font-size="16.2" textLength="55.1" lengthAdjust="spacing" font-family="'Liberation Serif','DejaVu Serif',serif" fill="#1a1a1a">UTAH</text>
</g>
</svg>
</body></html>
